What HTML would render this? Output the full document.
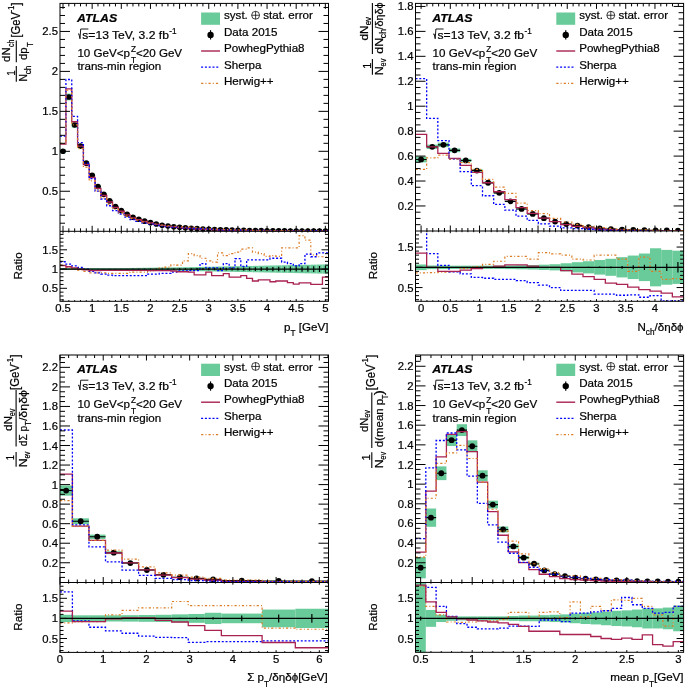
<!DOCTYPE html>
<html><head><meta charset="utf-8"><style>
html,body{margin:0;padding:0;background:#fff;width:685px;height:691px;overflow:hidden}
svg{display:block;will-change:transform;font-family:"Liberation Sans",sans-serif}
text{font-family:"Liberation Sans",sans-serif;stroke:#000;stroke-width:0.22px;paint-order:stroke}
</style></head><body>
<svg width="685" height="691" viewBox="0 0 685 691" font-family="'Liberation Sans', sans-serif" fill="#000"><defs><clipPath id="p1m"><rect x="60" y="3.4" width="268.5" height="227.9"/></clipPath><clipPath id="p1r"><rect x="60" y="231.3" width="268.5" height="70"/></clipPath><clipPath id="p2m"><rect x="415.5" y="3.4" width="268.1" height="227.6"/></clipPath><clipPath id="p2r"><rect x="415.5" y="231" width="268.1" height="70.3"/></clipPath><clipPath id="p3m"><rect x="60" y="355" width="268.5" height="227.5"/></clipPath><clipPath id="p3r"><rect x="60" y="582.5" width="268.5" height="69.9"/></clipPath><clipPath id="p4m"><rect x="415.5" y="355" width="268.1" height="227.5"/></clipPath><clipPath id="p4r"><rect x="415.5" y="582.5" width="268.1" height="69.8"/></clipPath></defs><g clip-path="url(#p1m)">
<rect x="60" y="149.3" width="5.92" height="3.99" fill="#6acb9a" />
<rect x="65.91" y="93.61" width="5.83" height="6.71" fill="#6acb9a" />
<rect x="71.74" y="122.28" width="5.83" height="5.31" fill="#6acb9a" />
<rect x="77.58" y="143.98" width="5.83" height="4.25" fill="#6acb9a" />
<rect x="83.4" y="161.42" width="5.83" height="3.4" fill="#6acb9a" />
<rect x="89.23" y="173.87" width="5.83" height="2.8" fill="#6acb9a" />
<rect x="95.06" y="185.5" width="5.83" height="2.23" fill="#6acb9a" />
<rect x="100.89" y="193.28" width="5.83" height="1.85" fill="#6acb9a" />
<rect x="106.72" y="200.16" width="5.83" height="1.51" fill="#6acb9a" />
<rect x="112.55" y="205.81" width="5.83" height="1.24" fill="#6acb9a" />
<rect x="118.38" y="209.99" width="5.83" height="1.03" fill="#6acb9a" />
<rect x="124.21" y="213.72" width="5.83" height="0.92" fill="#6acb9a" />
<rect x="130.05" y="216.89" width="5.83" height="0.81" fill="#6acb9a" />
<rect x="135.88" y="218.92" width="5.83" height="0.74" fill="#6acb9a" />
<rect x="141.71" y="220.8" width="5.83" height="0.67" fill="#6acb9a" />
<rect x="147.53" y="222.35" width="5.83" height="0.61" fill="#6acb9a" />
<rect x="153.37" y="223.74" width="5.83" height="0.54" fill="#6acb9a" />
<rect x="159.2" y="224.97" width="5.83" height="0.47" fill="#6acb9a" />
<rect x="165.03" y="225.87" width="5.83" height="0.43" fill="#6acb9a" />
<rect x="170.85" y="226.53" width="5.83" height="0.39" fill="#6acb9a" />
<rect x="176.69" y="227.11" width="5.83" height="0.36" fill="#6acb9a" />
<rect x="182.52" y="227.63" width="5.83" height="0.33" fill="#6acb9a" />
<rect x="188.34" y="228.09" width="5.83" height="0.3" fill="#6acb9a" />
<rect x="194.18" y="228.49" width="5.83" height="0.27" fill="#6acb9a" />
<rect x="200.01" y="228.84" width="5.83" height="0.25" fill="#6acb9a" />
<rect x="205.84" y="229.14" width="5.83" height="0.23" fill="#6acb9a" />
<rect x="211.67" y="229.4" width="5.83" height="0.21" fill="#6acb9a" />
<rect x="217.5" y="229.63" width="5.83" height="0.19" fill="#6acb9a" />
<rect x="223.33" y="229.84" width="5.83" height="0.17" fill="#6acb9a" />
<rect x="229.16" y="230.01" width="5.83" height="0.16" fill="#6acb9a" />
<rect x="234.99" y="230.16" width="5.83" height="0.14" fill="#6acb9a" />
<rect x="240.81" y="230.3" width="5.83" height="0.13" fill="#6acb9a" />
<rect x="246.65" y="230.41" width="5.83" height="0.12" fill="#6acb9a" />
<rect x="252.48" y="230.51" width="5.83" height="0.11" fill="#6acb9a" />
<rect x="258.31" y="230.6" width="5.83" height="0.1" fill="#6acb9a" />
<rect x="264.13" y="230.68" width="5.83" height="0.09" fill="#6acb9a" />
<rect x="269.96" y="230.74" width="5.83" height="0.08" fill="#6acb9a" />
<rect x="275.8" y="230.8" width="5.83" height="0.07" fill="#6acb9a" />
<rect x="281.62" y="230.85" width="5.83" height="0.06" fill="#6acb9a" />
<rect x="287.45" y="230.9" width="5.83" height="0.06" fill="#6acb9a" />
<rect x="293.28" y="230.94" width="5.83" height="0.05" fill="#6acb9a" />
<rect x="299.11" y="230.97" width="5.83" height="0.04" fill="#6acb9a" />
<rect x="304.94" y="231" width="5.83" height="0.04" fill="#6acb9a" />
<rect x="310.77" y="231.03" width="5.83" height="0.04" fill="#6acb9a" />
<rect x="316.6" y="231.05" width="5.83" height="0.03" fill="#6acb9a" />
<rect x="322.44" y="231.07" width="6.06" height="0.03" fill="#6acb9a" />
<line x1="60" y1="151.3" x2="65.92" y2="151.3" stroke="#000" stroke-width="1.1" />
<circle cx="62.96" cy="151.3" r="2.8" fill="#000"/>
<line x1="65.91" y1="96.97" x2="71.75" y2="96.97" stroke="#000" stroke-width="1.1" />
<circle cx="68.83" cy="96.97" r="2.8" fill="#000"/>
<line x1="71.74" y1="124.93" x2="77.58" y2="124.93" stroke="#000" stroke-width="1.1" />
<circle cx="74.66" cy="124.93" r="2.8" fill="#000"/>
<line x1="77.58" y1="146.11" x2="83.41" y2="146.11" stroke="#000" stroke-width="1.1" />
<circle cx="80.49" cy="146.11" r="2.8" fill="#000"/>
<line x1="83.4" y1="163.13" x2="89.23" y2="163.13" stroke="#000" stroke-width="1.1" />
<circle cx="86.32" cy="163.13" r="2.8" fill="#000"/>
<line x1="89.23" y1="175.27" x2="95.07" y2="175.27" stroke="#000" stroke-width="1.1" />
<circle cx="92.15" cy="175.27" r="2.8" fill="#000"/>
<line x1="95.06" y1="186.62" x2="100.9" y2="186.62" stroke="#000" stroke-width="1.1" />
<circle cx="97.98" cy="186.62" r="2.8" fill="#000"/>
<line x1="100.89" y1="194.21" x2="106.73" y2="194.21" stroke="#000" stroke-width="1.1" />
<circle cx="103.81" cy="194.21" r="2.8" fill="#000"/>
<line x1="106.72" y1="200.92" x2="112.56" y2="200.92" stroke="#000" stroke-width="1.1" />
<circle cx="109.64" cy="200.92" r="2.8" fill="#000"/>
<line x1="112.55" y1="206.43" x2="118.39" y2="206.43" stroke="#000" stroke-width="1.1" />
<circle cx="115.47" cy="206.43" r="2.8" fill="#000"/>
<line x1="118.38" y1="210.51" x2="124.22" y2="210.51" stroke="#000" stroke-width="1.1" />
<circle cx="121.3" cy="210.51" r="2.8" fill="#000"/>
<line x1="124.21" y1="214.18" x2="130.04" y2="214.18" stroke="#000" stroke-width="1.1" />
<circle cx="127.13" cy="214.18" r="2.8" fill="#000"/>
<line x1="130.05" y1="217.3" x2="135.88" y2="217.3" stroke="#000" stroke-width="1.1" />
<circle cx="132.96" cy="217.3" r="2.8" fill="#000"/>
<line x1="135.88" y1="219.29" x2="141.71" y2="219.29" stroke="#000" stroke-width="1.1" />
<circle cx="138.79" cy="219.29" r="2.8" fill="#000"/>
<line x1="141.71" y1="221.13" x2="147.53" y2="221.13" stroke="#000" stroke-width="1.1" />
<circle cx="144.62" cy="221.13" r="2.8" fill="#000"/>
<line x1="147.53" y1="222.65" x2="153.36" y2="222.65" stroke="#000" stroke-width="1.1" />
<circle cx="150.45" cy="222.65" r="2.8" fill="#000"/>
<line x1="153.37" y1="224.01" x2="159.19" y2="224.01" stroke="#000" stroke-width="1.1" />
<circle cx="156.28" cy="224.01" r="2.8" fill="#000"/>
<line x1="159.2" y1="225.21" x2="165.03" y2="225.21" stroke="#000" stroke-width="1.1" />
<circle cx="162.11" cy="225.21" r="2.8" fill="#000"/>
<line x1="165.03" y1="226.09" x2="170.85" y2="226.09" stroke="#000" stroke-width="1.1" />
<circle cx="167.94" cy="226.09" r="2.8" fill="#000"/>
<line x1="170.85" y1="226.73" x2="176.68" y2="226.73" stroke="#000" stroke-width="1.1" />
<circle cx="173.77" cy="226.73" r="2.8" fill="#000"/>
<line x1="176.69" y1="227.28" x2="182.51" y2="227.28" stroke="#000" stroke-width="1.1" />
<circle cx="179.6" cy="227.28" r="2.8" fill="#000"/>
<line x1="182.52" y1="227.8" x2="188.34" y2="227.8" stroke="#000" stroke-width="1.1" />
<circle cx="185.43" cy="227.8" r="2.8" fill="#000"/>
<line x1="188.34" y1="228.24" x2="194.17" y2="228.24" stroke="#000" stroke-width="1.1" />
<circle cx="191.26" cy="228.24" r="2.8" fill="#000"/>
<line x1="194.18" y1="228.63" x2="200" y2="228.63" stroke="#000" stroke-width="1.1" />
<circle cx="197.09" cy="228.63" r="2.8" fill="#000"/>
<line x1="200.01" y1="228.96" x2="205.84" y2="228.96" stroke="#000" stroke-width="1.1" />
<circle cx="202.92" cy="228.96" r="2.8" fill="#000"/>
<line x1="205.84" y1="229.26" x2="211.66" y2="229.26" stroke="#000" stroke-width="1.1" />
<circle cx="208.75" cy="229.26" r="2.8" fill="#000"/>
<line x1="211.67" y1="229.51" x2="217.5" y2="229.51" stroke="#000" stroke-width="1.1" />
<circle cx="214.58" cy="229.51" r="2.8" fill="#000"/>
<line x1="217.5" y1="229.73" x2="223.32" y2="229.73" stroke="#000" stroke-width="1.1" />
<circle cx="220.41" cy="229.73" r="2.8" fill="#000"/>
<line x1="223.33" y1="229.92" x2="229.16" y2="229.92" stroke="#000" stroke-width="1.1" />
<circle cx="226.24" cy="229.92" r="2.8" fill="#000"/>
<line x1="229.16" y1="230.09" x2="234.98" y2="230.09" stroke="#000" stroke-width="1.1" />
<circle cx="232.07" cy="230.09" r="2.8" fill="#000"/>
<line x1="234.99" y1="230.23" x2="240.81" y2="230.23" stroke="#000" stroke-width="1.1" />
<circle cx="237.9" cy="230.23" r="2.8" fill="#000"/>
<line x1="240.81" y1="230.36" x2="246.64" y2="230.36" stroke="#000" stroke-width="1.1" />
<circle cx="243.73" cy="230.36" r="2.8" fill="#000"/>
<line x1="246.65" y1="230.47" x2="252.47" y2="230.47" stroke="#000" stroke-width="1.1" />
<circle cx="249.56" cy="230.47" r="2.8" fill="#000"/>
<line x1="252.48" y1="230.57" x2="258.31" y2="230.57" stroke="#000" stroke-width="1.1" />
<circle cx="255.39" cy="230.57" r="2.8" fill="#000"/>
<line x1="258.31" y1="230.65" x2="264.14" y2="230.65" stroke="#000" stroke-width="1.1" />
<circle cx="261.22" cy="230.65" r="2.8" fill="#000"/>
<line x1="264.13" y1="230.72" x2="269.97" y2="230.72" stroke="#000" stroke-width="1.1" />
<circle cx="267.05" cy="230.72" r="2.8" fill="#000"/>
<line x1="269.96" y1="230.78" x2="275.8" y2="230.78" stroke="#000" stroke-width="1.1" />
<circle cx="272.88" cy="230.78" r="2.8" fill="#000"/>
<line x1="275.8" y1="230.84" x2="281.63" y2="230.84" stroke="#000" stroke-width="1.1" />
<circle cx="278.71" cy="230.84" r="2.8" fill="#000"/>
<line x1="281.62" y1="230.88" x2="287.45" y2="230.88" stroke="#000" stroke-width="1.1" />
<circle cx="284.54" cy="230.88" r="2.8" fill="#000"/>
<line x1="287.45" y1="230.93" x2="293.29" y2="230.93" stroke="#000" stroke-width="1.1" />
<circle cx="290.37" cy="230.93" r="2.8" fill="#000"/>
<line x1="293.28" y1="230.96" x2="299.12" y2="230.96" stroke="#000" stroke-width="1.1" />
<circle cx="296.2" cy="230.96" r="2.8" fill="#000"/>
<line x1="299.11" y1="230.99" x2="304.94" y2="230.99" stroke="#000" stroke-width="1.1" />
<circle cx="302.03" cy="230.99" r="2.8" fill="#000"/>
<line x1="304.94" y1="231.02" x2="310.78" y2="231.02" stroke="#000" stroke-width="1.1" />
<circle cx="307.86" cy="231.02" r="2.8" fill="#000"/>
<line x1="310.77" y1="231.04" x2="316.61" y2="231.04" stroke="#000" stroke-width="1.1" />
<circle cx="313.69" cy="231.04" r="2.8" fill="#000"/>
<line x1="316.6" y1="231.06" x2="322.44" y2="231.06" stroke="#000" stroke-width="1.1" />
<circle cx="319.52" cy="231.06" r="2.8" fill="#000"/>
<line x1="322.44" y1="231.08" x2="328.5" y2="231.08" stroke="#000" stroke-width="1.1" />
<circle cx="325.47" cy="231.08" r="2.8" fill="#000"/>
<path d="M60,144.11H65.92V88.91H71.75V121.74H77.58V146.11H83.41V164.49H89.23V177.51H95.07V188.4H100.9V195.5H106.73V201.98H112.56V207.3H118.39V211.23H124.22V214.78H130.04V217.78H135.88V219.71H141.71V221.48H147.53V222.99H153.36V224.3H159.19V225.45H165.03V226.29H170.85V226.95H176.68V227.56H182.51V228.03H188.34V228.48H194.17V229.01H200V229.3H205.84V229.41H211.66V229.8H217.5V229.98H223.32V230.08H229.16V230.32H234.98V230.44H240.81V230.5H246.64V230.65H252.47V230.76H258.31V230.8H264.14V230.85H269.97V230.92H275.8V230.95H281.63V230.98H287.45V231.02H293.29V231.05H299.12V231.07H304.94V231.08H310.78V231.11H316.61V231.12H322.44V231.11H328.5" fill="none" stroke="#a82252" stroke-width="1.3"/>
<path d="M60,136.12H65.92V79.52H71.75V116.43H77.58V142.7H83.41V163.13H89.23V178.63H95.07V191.07H100.9V199.02H106.73V205.76H112.56V210.64H118.39V214.02H124.22V217.07H130.04V219.66H135.88V221.32H141.71V222.84H147.53V223.76H153.36V224.94H159.19V225.87H165.03V226.65H170.85V227.08H176.68V227.48H182.51V227.97H188.34V228.36H194.17V228.73H200V228.65H205.84V229.2H211.66V229.46H217.5V229.79H223.32V229.74H229.16V230.06H234.98V229.97H240.81V230.3H246.64V230.3H252.47V230.41H258.31V230.52H264.14V230.61H269.97V230.67H275.8V230.74H281.63V230.83H287.45V230.89H293.29V230.94H299.12V230.96H304.94V230.95H310.78V230.99H316.61V231.01H322.44V231.03H328.5" fill="none" stroke="#0000ff" stroke-width="1.3" stroke-dasharray="2,1.8"/>
<path d="M60,143.31H65.92V90.26H71.75V124.93H77.58V148.66H83.41V167.21H89.23V180.86H95.07V191.07H100.9V197.91H106.73V204.25H112.56V209.16H118.39V212.78H124.22V216.05H130.04V218.41H135.88V220.25H141.71V221.94H147.53V223.08H153.36V224.01H159.19V225.03H165.03V225.83H170.85V226.23H176.68V226.89H182.51V227.08H188.34V227.06H194.17V227.73H200V228.34H205.84V228.85H211.66V229.21H217.5V229.11H223.32V229.48H229.16V229.65H234.98V229.81H240.81V229.92H246.64V230.07H252.47V230.29H258.31V230.43H264.14V230.56H269.97V230.64H275.8V230.72H281.63V230.71H287.45V230.78H293.29V230.83H299.12V230.81H304.94V230.89H310.78V230.99H316.61V231.02H322.44V231.04H328.5" fill="none" stroke="#dc7d26" stroke-width="1.2" stroke-dasharray="2.2,2.1,1,2.1"/>
</g>
<g clip-path="url(#p1r)">
<rect x="60" y="268.09" width="5.92" height="1.92" fill="#6acb9a" />
<rect x="65.91" y="268.09" width="5.83" height="1.92" fill="#6acb9a" />
<rect x="71.74" y="268.09" width="5.83" height="1.92" fill="#6acb9a" />
<rect x="77.58" y="268.09" width="5.83" height="1.92" fill="#6acb9a" />
<rect x="83.4" y="268.09" width="5.83" height="1.92" fill="#6acb9a" />
<rect x="89.23" y="268.09" width="5.83" height="1.92" fill="#6acb9a" />
<rect x="95.06" y="268.09" width="5.83" height="1.92" fill="#6acb9a" />
<rect x="100.89" y="268.09" width="5.83" height="1.92" fill="#6acb9a" />
<rect x="106.72" y="268.09" width="5.83" height="1.92" fill="#6acb9a" />
<rect x="112.55" y="268.09" width="5.83" height="1.92" fill="#6acb9a" />
<rect x="118.38" y="268.09" width="5.83" height="1.92" fill="#6acb9a" />
<rect x="124.21" y="268.01" width="5.83" height="2.09" fill="#6acb9a" />
<rect x="130.05" y="267.93" width="5.83" height="2.25" fill="#6acb9a" />
<rect x="135.88" y="267.85" width="5.83" height="2.41" fill="#6acb9a" />
<rect x="141.71" y="267.77" width="5.83" height="2.57" fill="#6acb9a" />
<rect x="147.53" y="267.69" width="5.83" height="2.73" fill="#6acb9a" />
<rect x="153.37" y="267.61" width="5.83" height="2.89" fill="#6acb9a" />
<rect x="159.2" y="267.53" width="5.83" height="3.05" fill="#6acb9a" />
<rect x="165.03" y="267.45" width="5.83" height="3.21" fill="#6acb9a" />
<rect x="170.85" y="267.37" width="5.83" height="3.37" fill="#6acb9a" />
<rect x="176.69" y="267.29" width="5.83" height="3.53" fill="#6acb9a" />
<rect x="182.52" y="267.21" width="5.83" height="3.69" fill="#6acb9a" />
<rect x="188.34" y="267.12" width="5.83" height="3.85" fill="#6acb9a" />
<rect x="194.18" y="267.01" width="5.83" height="4.08" fill="#6acb9a" />
<rect x="200.01" y="266.89" width="5.83" height="4.32" fill="#6acb9a" />
<rect x="205.84" y="266.77" width="5.83" height="4.55" fill="#6acb9a" />
<rect x="211.67" y="266.66" width="5.83" height="4.79" fill="#6acb9a" />
<rect x="217.5" y="266.54" width="5.83" height="5.02" fill="#6acb9a" />
<rect x="223.33" y="266.42" width="5.83" height="5.26" fill="#6acb9a" />
<rect x="229.16" y="266.3" width="5.83" height="5.49" fill="#6acb9a" />
<rect x="234.99" y="266.19" width="5.83" height="5.72" fill="#6acb9a" />
<rect x="240.81" y="266.07" width="5.83" height="5.96" fill="#6acb9a" />
<rect x="246.65" y="265.95" width="5.83" height="6.19" fill="#6acb9a" />
<rect x="252.48" y="265.84" width="5.83" height="6.43" fill="#6acb9a" />
<rect x="258.31" y="265.72" width="5.83" height="6.66" fill="#6acb9a" />
<rect x="264.13" y="265.6" width="5.83" height="6.9" fill="#6acb9a" />
<rect x="269.96" y="265.48" width="5.83" height="7.13" fill="#6acb9a" />
<rect x="275.8" y="265.37" width="5.83" height="7.37" fill="#6acb9a" />
<rect x="281.62" y="265.25" width="5.83" height="7.6" fill="#6acb9a" />
<rect x="287.45" y="265.13" width="5.83" height="7.83" fill="#6acb9a" />
<rect x="293.28" y="265.02" width="5.83" height="8.07" fill="#6acb9a" />
<rect x="299.11" y="264.9" width="5.83" height="8.3" fill="#6acb9a" />
<rect x="304.94" y="264.78" width="5.83" height="8.54" fill="#6acb9a" />
<rect x="310.77" y="264.66" width="5.83" height="8.77" fill="#6acb9a" />
<rect x="316.6" y="264.55" width="5.83" height="9.01" fill="#6acb9a" />
<rect x="322.44" y="264.43" width="6.06" height="9.24" fill="#6acb9a" />
<path d="M60,265.2H65.92V267.12H71.75V269.05H77.58V270.21H83.41V271.36H89.23V272.9H95.07V272.9H100.9V272.9H106.73V273.29H112.56V273.29H118.39V273.29H124.22V273.29H130.04V272.13H135.88V272.13H141.71V272.13H147.53V270.98H153.36V269.05H159.19V267.89H165.03V267.12H170.85V264.81H176.68V265.2H182.51V260.97H188.34V253.65H194.17V255.58H200V258.27H205.84V260.97H211.66V262.12H217.5V252.88H223.32V255.58H229.16V253.65H234.98V252.11H240.81V249.03H246.64V247.88H252.47V252.11H258.31V253.65H264.14V256.35H269.97V255.58H275.8V256.35H281.63V247.88H287.45V247.88H293.29V247.88H299.12V235.56H304.94V240.18H310.78V254.81H316.61V256.73H322.44V256.73H328.5" fill="none" stroke="#dc7d26" stroke-width="1.2" stroke-dasharray="2.2,2.1,1,2.1"/>
<path d="M60,261.74H65.92V264.05H71.75V265.97H77.58V267.51H83.41V269.05H89.23V271.36H95.07V272.9H100.9V274.06H106.73V275.21H112.56V275.6H118.39V275.6H124.22V275.6H130.04V275.6H135.88V275.6H141.71V275.6H147.53V274.06H153.36V274.06H159.19V273.29H165.03V273.29H170.85V272.13H176.68V270.98H182.51V270.98H188.34V270.59H194.17V270.59H200V263.66H205.84V267.89H211.66V267.89H217.5V270.59H223.32V263.66H229.16V267.89H234.98V258.66H240.81V266.36H246.64V259.81H252.47V259.81H258.31V259.81H264.14V259.81H269.97V258.27H275.8V258.27H281.63V262.12H287.45V263.66H293.29V265.97H299.12V263.66H304.94V254.04H310.78V256.73H316.61V252.88H322.44V252.88H328.5" fill="none" stroke="#0000ff" stroke-width="1.3" stroke-dasharray="2,1.8"/>
<path d="M60,265.59H65.92V266.74H71.75V267.89H77.58V269.05H83.41V269.82H89.23V270.59H95.07V270.59H100.9V270.4H106.73V270.4H112.56V270.4H118.39V270.4H124.22V270.4H130.04V270.4H135.88V270.4H141.71V270.4H147.53V270.59H153.36V270.59H159.19V270.59H165.03V270.59H170.85V270.98H176.68V271.75H182.51V271.75H188.34V272.13H194.17V274.82H200V274.82H205.84V272.13H211.66V275.6H217.5V275.6H223.32V273.67H229.16V277.13H234.98V277.13H240.81V275.6H246.64V278.29H252.47V280.99H258.31V279.83H264.14V279.83H269.97V281.75H275.8V280.99H281.63V280.99H287.45V282.53H293.29V284.06H299.12V282.91H304.94V282.91H310.78V284.45H316.61V284.45H322.44V277.13H328.5" fill="none" stroke="#a82252" stroke-width="1.3"/>
<line x1="60" y1="269.05" x2="328.5" y2="269.05" stroke="#000" stroke-width="1.3" />
<line x1="62.96" y1="268.93" x2="62.96" y2="269.17" stroke="#000" stroke-width="1.2" />
<line x1="68.83" y1="268.93" x2="68.83" y2="269.17" stroke="#000" stroke-width="1.2" />
<line x1="74.66" y1="268.93" x2="74.66" y2="269.17" stroke="#000" stroke-width="1.2" />
<line x1="80.49" y1="268.93" x2="80.49" y2="269.17" stroke="#000" stroke-width="1.2" />
<line x1="86.32" y1="268.93" x2="86.32" y2="269.17" stroke="#000" stroke-width="1.2" />
<line x1="92.15" y1="268.93" x2="92.15" y2="269.17" stroke="#000" stroke-width="1.2" />
<line x1="97.98" y1="268.93" x2="97.98" y2="269.17" stroke="#000" stroke-width="1.2" />
<line x1="103.81" y1="268.93" x2="103.81" y2="269.17" stroke="#000" stroke-width="1.2" />
<line x1="109.64" y1="268.93" x2="109.64" y2="269.17" stroke="#000" stroke-width="1.2" />
<line x1="115.47" y1="268.93" x2="115.47" y2="269.17" stroke="#000" stroke-width="1.2" />
<line x1="121.3" y1="268.93" x2="121.3" y2="269.17" stroke="#000" stroke-width="1.2" />
<line x1="127.13" y1="268.91" x2="127.13" y2="269.19" stroke="#000" stroke-width="1.2" />
<line x1="132.96" y1="268.86" x2="132.96" y2="269.24" stroke="#000" stroke-width="1.2" />
<line x1="138.79" y1="268.81" x2="138.79" y2="269.29" stroke="#000" stroke-width="1.2" />
<line x1="144.62" y1="268.76" x2="144.62" y2="269.34" stroke="#000" stroke-width="1.2" />
<line x1="150.45" y1="268.7" x2="150.45" y2="269.4" stroke="#000" stroke-width="1.2" />
<line x1="156.28" y1="268.64" x2="156.28" y2="269.46" stroke="#000" stroke-width="1.2" />
<line x1="162.11" y1="268.57" x2="162.11" y2="269.53" stroke="#000" stroke-width="1.2" />
<line x1="167.94" y1="268.5" x2="167.94" y2="269.6" stroke="#000" stroke-width="1.2" />
<line x1="173.77" y1="268.43" x2="173.77" y2="269.67" stroke="#000" stroke-width="1.2" />
<line x1="179.6" y1="268.35" x2="179.6" y2="269.75" stroke="#000" stroke-width="1.2" />
<line x1="185.43" y1="268.28" x2="185.43" y2="269.82" stroke="#000" stroke-width="1.2" />
<line x1="191.26" y1="268.2" x2="191.26" y2="269.9" stroke="#000" stroke-width="1.2" />
<line x1="197.09" y1="268.12" x2="197.09" y2="269.98" stroke="#000" stroke-width="1.2" />
<line x1="202.92" y1="268.03" x2="202.92" y2="270.07" stroke="#000" stroke-width="1.2" />
<line x1="208.75" y1="267.95" x2="208.75" y2="270.15" stroke="#000" stroke-width="1.2" />
<line x1="214.58" y1="267.86" x2="214.58" y2="270.24" stroke="#000" stroke-width="1.2" />
<line x1="220.41" y1="267.78" x2="220.41" y2="270.32" stroke="#000" stroke-width="1.2" />
<line x1="226.24" y1="267.69" x2="226.24" y2="270.41" stroke="#000" stroke-width="1.2" />
<line x1="232.07" y1="267.59" x2="232.07" y2="270.51" stroke="#000" stroke-width="1.2" />
<line x1="237.9" y1="267.5" x2="237.9" y2="270.6" stroke="#000" stroke-width="1.2" />
<line x1="243.73" y1="267.41" x2="243.73" y2="270.69" stroke="#000" stroke-width="1.2" />
<line x1="249.56" y1="267.31" x2="249.56" y2="270.79" stroke="#000" stroke-width="1.2" />
<line x1="255.39" y1="267.22" x2="255.39" y2="270.88" stroke="#000" stroke-width="1.2" />
<line x1="261.22" y1="267.12" x2="261.22" y2="270.98" stroke="#000" stroke-width="1.2" />
<line x1="267.05" y1="267.02" x2="267.05" y2="271.08" stroke="#000" stroke-width="1.2" />
<line x1="272.88" y1="266.92" x2="272.88" y2="271.18" stroke="#000" stroke-width="1.2" />
<line x1="278.71" y1="266.82" x2="278.71" y2="271.28" stroke="#000" stroke-width="1.2" />
<line x1="284.54" y1="266.72" x2="284.54" y2="271.38" stroke="#000" stroke-width="1.2" />
<line x1="290.37" y1="266.61" x2="290.37" y2="271.49" stroke="#000" stroke-width="1.2" />
<line x1="296.2" y1="266.51" x2="296.2" y2="271.59" stroke="#000" stroke-width="1.2" />
<line x1="302.03" y1="266.4" x2="302.03" y2="271.7" stroke="#000" stroke-width="1.2" />
<line x1="307.86" y1="266.3" x2="307.86" y2="271.8" stroke="#000" stroke-width="1.2" />
<line x1="313.69" y1="266.19" x2="313.69" y2="271.91" stroke="#000" stroke-width="1.2" />
<line x1="319.52" y1="266.08" x2="319.52" y2="272.02" stroke="#000" stroke-width="1.2" />
<line x1="325.47" y1="265.97" x2="325.47" y2="272.13" stroke="#000" stroke-width="1.2" />
</g>
<rect x="60" y="3.4" width="268.5" height="297.9" fill="none" stroke="#000" stroke-width="1.0"/>
<line x1="60" y1="231.3" x2="328.5" y2="231.3" stroke="#000" stroke-width="1.0" />
<line x1="63" y1="3.4" x2="63" y2="8.9" stroke="#000" stroke-width="1" />
<line x1="63" y1="231.3" x2="63" y2="225.8" stroke="#000" stroke-width="1" />
<line x1="63" y1="301.3" x2="63" y2="299.1" stroke="#000" stroke-width="1" />
<line x1="63" y1="231.3" x2="63" y2="233.5" stroke="#000" stroke-width="1" />
<line x1="68.83" y1="3.4" x2="68.83" y2="6.4" stroke="#000" stroke-width="1" />
<line x1="68.83" y1="231.3" x2="68.83" y2="228.3" stroke="#000" stroke-width="1" />
<line x1="68.83" y1="301.3" x2="68.83" y2="300.1" stroke="#000" stroke-width="1" />
<line x1="68.83" y1="231.3" x2="68.83" y2="232.5" stroke="#000" stroke-width="1" />
<line x1="74.66" y1="3.4" x2="74.66" y2="6.4" stroke="#000" stroke-width="1" />
<line x1="74.66" y1="231.3" x2="74.66" y2="228.3" stroke="#000" stroke-width="1" />
<line x1="74.66" y1="301.3" x2="74.66" y2="300.1" stroke="#000" stroke-width="1" />
<line x1="74.66" y1="231.3" x2="74.66" y2="232.5" stroke="#000" stroke-width="1" />
<line x1="80.49" y1="3.4" x2="80.49" y2="6.4" stroke="#000" stroke-width="1" />
<line x1="80.49" y1="231.3" x2="80.49" y2="228.3" stroke="#000" stroke-width="1" />
<line x1="80.49" y1="301.3" x2="80.49" y2="300.1" stroke="#000" stroke-width="1" />
<line x1="80.49" y1="231.3" x2="80.49" y2="232.5" stroke="#000" stroke-width="1" />
<line x1="86.32" y1="3.4" x2="86.32" y2="6.4" stroke="#000" stroke-width="1" />
<line x1="86.32" y1="231.3" x2="86.32" y2="228.3" stroke="#000" stroke-width="1" />
<line x1="86.32" y1="301.3" x2="86.32" y2="300.1" stroke="#000" stroke-width="1" />
<line x1="86.32" y1="231.3" x2="86.32" y2="232.5" stroke="#000" stroke-width="1" />
<line x1="92.15" y1="3.4" x2="92.15" y2="8.9" stroke="#000" stroke-width="1" />
<line x1="92.15" y1="231.3" x2="92.15" y2="225.8" stroke="#000" stroke-width="1" />
<line x1="92.15" y1="301.3" x2="92.15" y2="299.1" stroke="#000" stroke-width="1" />
<line x1="92.15" y1="231.3" x2="92.15" y2="233.5" stroke="#000" stroke-width="1" />
<line x1="97.98" y1="3.4" x2="97.98" y2="6.4" stroke="#000" stroke-width="1" />
<line x1="97.98" y1="231.3" x2="97.98" y2="228.3" stroke="#000" stroke-width="1" />
<line x1="97.98" y1="301.3" x2="97.98" y2="300.1" stroke="#000" stroke-width="1" />
<line x1="97.98" y1="231.3" x2="97.98" y2="232.5" stroke="#000" stroke-width="1" />
<line x1="103.81" y1="3.4" x2="103.81" y2="6.4" stroke="#000" stroke-width="1" />
<line x1="103.81" y1="231.3" x2="103.81" y2="228.3" stroke="#000" stroke-width="1" />
<line x1="103.81" y1="301.3" x2="103.81" y2="300.1" stroke="#000" stroke-width="1" />
<line x1="103.81" y1="231.3" x2="103.81" y2="232.5" stroke="#000" stroke-width="1" />
<line x1="109.64" y1="3.4" x2="109.64" y2="6.4" stroke="#000" stroke-width="1" />
<line x1="109.64" y1="231.3" x2="109.64" y2="228.3" stroke="#000" stroke-width="1" />
<line x1="109.64" y1="301.3" x2="109.64" y2="300.1" stroke="#000" stroke-width="1" />
<line x1="109.64" y1="231.3" x2="109.64" y2="232.5" stroke="#000" stroke-width="1" />
<line x1="115.47" y1="3.4" x2="115.47" y2="6.4" stroke="#000" stroke-width="1" />
<line x1="115.47" y1="231.3" x2="115.47" y2="228.3" stroke="#000" stroke-width="1" />
<line x1="115.47" y1="301.3" x2="115.47" y2="300.1" stroke="#000" stroke-width="1" />
<line x1="115.47" y1="231.3" x2="115.47" y2="232.5" stroke="#000" stroke-width="1" />
<line x1="121.3" y1="3.4" x2="121.3" y2="8.9" stroke="#000" stroke-width="1" />
<line x1="121.3" y1="231.3" x2="121.3" y2="225.8" stroke="#000" stroke-width="1" />
<line x1="121.3" y1="301.3" x2="121.3" y2="299.1" stroke="#000" stroke-width="1" />
<line x1="121.3" y1="231.3" x2="121.3" y2="233.5" stroke="#000" stroke-width="1" />
<line x1="127.13" y1="3.4" x2="127.13" y2="6.4" stroke="#000" stroke-width="1" />
<line x1="127.13" y1="231.3" x2="127.13" y2="228.3" stroke="#000" stroke-width="1" />
<line x1="127.13" y1="301.3" x2="127.13" y2="300.1" stroke="#000" stroke-width="1" />
<line x1="127.13" y1="231.3" x2="127.13" y2="232.5" stroke="#000" stroke-width="1" />
<line x1="132.96" y1="3.4" x2="132.96" y2="6.4" stroke="#000" stroke-width="1" />
<line x1="132.96" y1="231.3" x2="132.96" y2="228.3" stroke="#000" stroke-width="1" />
<line x1="132.96" y1="301.3" x2="132.96" y2="300.1" stroke="#000" stroke-width="1" />
<line x1="132.96" y1="231.3" x2="132.96" y2="232.5" stroke="#000" stroke-width="1" />
<line x1="138.79" y1="3.4" x2="138.79" y2="6.4" stroke="#000" stroke-width="1" />
<line x1="138.79" y1="231.3" x2="138.79" y2="228.3" stroke="#000" stroke-width="1" />
<line x1="138.79" y1="301.3" x2="138.79" y2="300.1" stroke="#000" stroke-width="1" />
<line x1="138.79" y1="231.3" x2="138.79" y2="232.5" stroke="#000" stroke-width="1" />
<line x1="144.62" y1="3.4" x2="144.62" y2="6.4" stroke="#000" stroke-width="1" />
<line x1="144.62" y1="231.3" x2="144.62" y2="228.3" stroke="#000" stroke-width="1" />
<line x1="144.62" y1="301.3" x2="144.62" y2="300.1" stroke="#000" stroke-width="1" />
<line x1="144.62" y1="231.3" x2="144.62" y2="232.5" stroke="#000" stroke-width="1" />
<line x1="150.45" y1="3.4" x2="150.45" y2="8.9" stroke="#000" stroke-width="1" />
<line x1="150.45" y1="231.3" x2="150.45" y2="225.8" stroke="#000" stroke-width="1" />
<line x1="150.45" y1="301.3" x2="150.45" y2="299.1" stroke="#000" stroke-width="1" />
<line x1="150.45" y1="231.3" x2="150.45" y2="233.5" stroke="#000" stroke-width="1" />
<line x1="156.28" y1="3.4" x2="156.28" y2="6.4" stroke="#000" stroke-width="1" />
<line x1="156.28" y1="231.3" x2="156.28" y2="228.3" stroke="#000" stroke-width="1" />
<line x1="156.28" y1="301.3" x2="156.28" y2="300.1" stroke="#000" stroke-width="1" />
<line x1="156.28" y1="231.3" x2="156.28" y2="232.5" stroke="#000" stroke-width="1" />
<line x1="162.11" y1="3.4" x2="162.11" y2="6.4" stroke="#000" stroke-width="1" />
<line x1="162.11" y1="231.3" x2="162.11" y2="228.3" stroke="#000" stroke-width="1" />
<line x1="162.11" y1="301.3" x2="162.11" y2="300.1" stroke="#000" stroke-width="1" />
<line x1="162.11" y1="231.3" x2="162.11" y2="232.5" stroke="#000" stroke-width="1" />
<line x1="167.94" y1="3.4" x2="167.94" y2="6.4" stroke="#000" stroke-width="1" />
<line x1="167.94" y1="231.3" x2="167.94" y2="228.3" stroke="#000" stroke-width="1" />
<line x1="167.94" y1="301.3" x2="167.94" y2="300.1" stroke="#000" stroke-width="1" />
<line x1="167.94" y1="231.3" x2="167.94" y2="232.5" stroke="#000" stroke-width="1" />
<line x1="173.77" y1="3.4" x2="173.77" y2="6.4" stroke="#000" stroke-width="1" />
<line x1="173.77" y1="231.3" x2="173.77" y2="228.3" stroke="#000" stroke-width="1" />
<line x1="173.77" y1="301.3" x2="173.77" y2="300.1" stroke="#000" stroke-width="1" />
<line x1="173.77" y1="231.3" x2="173.77" y2="232.5" stroke="#000" stroke-width="1" />
<line x1="179.6" y1="3.4" x2="179.6" y2="8.9" stroke="#000" stroke-width="1" />
<line x1="179.6" y1="231.3" x2="179.6" y2="225.8" stroke="#000" stroke-width="1" />
<line x1="179.6" y1="301.3" x2="179.6" y2="299.1" stroke="#000" stroke-width="1" />
<line x1="179.6" y1="231.3" x2="179.6" y2="233.5" stroke="#000" stroke-width="1" />
<line x1="185.43" y1="3.4" x2="185.43" y2="6.4" stroke="#000" stroke-width="1" />
<line x1="185.43" y1="231.3" x2="185.43" y2="228.3" stroke="#000" stroke-width="1" />
<line x1="185.43" y1="301.3" x2="185.43" y2="300.1" stroke="#000" stroke-width="1" />
<line x1="185.43" y1="231.3" x2="185.43" y2="232.5" stroke="#000" stroke-width="1" />
<line x1="191.26" y1="3.4" x2="191.26" y2="6.4" stroke="#000" stroke-width="1" />
<line x1="191.26" y1="231.3" x2="191.26" y2="228.3" stroke="#000" stroke-width="1" />
<line x1="191.26" y1="301.3" x2="191.26" y2="300.1" stroke="#000" stroke-width="1" />
<line x1="191.26" y1="231.3" x2="191.26" y2="232.5" stroke="#000" stroke-width="1" />
<line x1="197.09" y1="3.4" x2="197.09" y2="6.4" stroke="#000" stroke-width="1" />
<line x1="197.09" y1="231.3" x2="197.09" y2="228.3" stroke="#000" stroke-width="1" />
<line x1="197.09" y1="301.3" x2="197.09" y2="300.1" stroke="#000" stroke-width="1" />
<line x1="197.09" y1="231.3" x2="197.09" y2="232.5" stroke="#000" stroke-width="1" />
<line x1="202.92" y1="3.4" x2="202.92" y2="6.4" stroke="#000" stroke-width="1" />
<line x1="202.92" y1="231.3" x2="202.92" y2="228.3" stroke="#000" stroke-width="1" />
<line x1="202.92" y1="301.3" x2="202.92" y2="300.1" stroke="#000" stroke-width="1" />
<line x1="202.92" y1="231.3" x2="202.92" y2="232.5" stroke="#000" stroke-width="1" />
<line x1="208.75" y1="3.4" x2="208.75" y2="8.9" stroke="#000" stroke-width="1" />
<line x1="208.75" y1="231.3" x2="208.75" y2="225.8" stroke="#000" stroke-width="1" />
<line x1="208.75" y1="301.3" x2="208.75" y2="299.1" stroke="#000" stroke-width="1" />
<line x1="208.75" y1="231.3" x2="208.75" y2="233.5" stroke="#000" stroke-width="1" />
<line x1="214.58" y1="3.4" x2="214.58" y2="6.4" stroke="#000" stroke-width="1" />
<line x1="214.58" y1="231.3" x2="214.58" y2="228.3" stroke="#000" stroke-width="1" />
<line x1="214.58" y1="301.3" x2="214.58" y2="300.1" stroke="#000" stroke-width="1" />
<line x1="214.58" y1="231.3" x2="214.58" y2="232.5" stroke="#000" stroke-width="1" />
<line x1="220.41" y1="3.4" x2="220.41" y2="6.4" stroke="#000" stroke-width="1" />
<line x1="220.41" y1="231.3" x2="220.41" y2="228.3" stroke="#000" stroke-width="1" />
<line x1="220.41" y1="301.3" x2="220.41" y2="300.1" stroke="#000" stroke-width="1" />
<line x1="220.41" y1="231.3" x2="220.41" y2="232.5" stroke="#000" stroke-width="1" />
<line x1="226.24" y1="3.4" x2="226.24" y2="6.4" stroke="#000" stroke-width="1" />
<line x1="226.24" y1="231.3" x2="226.24" y2="228.3" stroke="#000" stroke-width="1" />
<line x1="226.24" y1="301.3" x2="226.24" y2="300.1" stroke="#000" stroke-width="1" />
<line x1="226.24" y1="231.3" x2="226.24" y2="232.5" stroke="#000" stroke-width="1" />
<line x1="232.07" y1="3.4" x2="232.07" y2="6.4" stroke="#000" stroke-width="1" />
<line x1="232.07" y1="231.3" x2="232.07" y2="228.3" stroke="#000" stroke-width="1" />
<line x1="232.07" y1="301.3" x2="232.07" y2="300.1" stroke="#000" stroke-width="1" />
<line x1="232.07" y1="231.3" x2="232.07" y2="232.5" stroke="#000" stroke-width="1" />
<line x1="237.9" y1="3.4" x2="237.9" y2="8.9" stroke="#000" stroke-width="1" />
<line x1="237.9" y1="231.3" x2="237.9" y2="225.8" stroke="#000" stroke-width="1" />
<line x1="237.9" y1="301.3" x2="237.9" y2="299.1" stroke="#000" stroke-width="1" />
<line x1="237.9" y1="231.3" x2="237.9" y2="233.5" stroke="#000" stroke-width="1" />
<line x1="243.73" y1="3.4" x2="243.73" y2="6.4" stroke="#000" stroke-width="1" />
<line x1="243.73" y1="231.3" x2="243.73" y2="228.3" stroke="#000" stroke-width="1" />
<line x1="243.73" y1="301.3" x2="243.73" y2="300.1" stroke="#000" stroke-width="1" />
<line x1="243.73" y1="231.3" x2="243.73" y2="232.5" stroke="#000" stroke-width="1" />
<line x1="249.56" y1="3.4" x2="249.56" y2="6.4" stroke="#000" stroke-width="1" />
<line x1="249.56" y1="231.3" x2="249.56" y2="228.3" stroke="#000" stroke-width="1" />
<line x1="249.56" y1="301.3" x2="249.56" y2="300.1" stroke="#000" stroke-width="1" />
<line x1="249.56" y1="231.3" x2="249.56" y2="232.5" stroke="#000" stroke-width="1" />
<line x1="255.39" y1="3.4" x2="255.39" y2="6.4" stroke="#000" stroke-width="1" />
<line x1="255.39" y1="231.3" x2="255.39" y2="228.3" stroke="#000" stroke-width="1" />
<line x1="255.39" y1="301.3" x2="255.39" y2="300.1" stroke="#000" stroke-width="1" />
<line x1="255.39" y1="231.3" x2="255.39" y2="232.5" stroke="#000" stroke-width="1" />
<line x1="261.22" y1="3.4" x2="261.22" y2="6.4" stroke="#000" stroke-width="1" />
<line x1="261.22" y1="231.3" x2="261.22" y2="228.3" stroke="#000" stroke-width="1" />
<line x1="261.22" y1="301.3" x2="261.22" y2="300.1" stroke="#000" stroke-width="1" />
<line x1="261.22" y1="231.3" x2="261.22" y2="232.5" stroke="#000" stroke-width="1" />
<line x1="267.05" y1="3.4" x2="267.05" y2="8.9" stroke="#000" stroke-width="1" />
<line x1="267.05" y1="231.3" x2="267.05" y2="225.8" stroke="#000" stroke-width="1" />
<line x1="267.05" y1="301.3" x2="267.05" y2="299.1" stroke="#000" stroke-width="1" />
<line x1="267.05" y1="231.3" x2="267.05" y2="233.5" stroke="#000" stroke-width="1" />
<line x1="272.88" y1="3.4" x2="272.88" y2="6.4" stroke="#000" stroke-width="1" />
<line x1="272.88" y1="231.3" x2="272.88" y2="228.3" stroke="#000" stroke-width="1" />
<line x1="272.88" y1="301.3" x2="272.88" y2="300.1" stroke="#000" stroke-width="1" />
<line x1="272.88" y1="231.3" x2="272.88" y2="232.5" stroke="#000" stroke-width="1" />
<line x1="278.71" y1="3.4" x2="278.71" y2="6.4" stroke="#000" stroke-width="1" />
<line x1="278.71" y1="231.3" x2="278.71" y2="228.3" stroke="#000" stroke-width="1" />
<line x1="278.71" y1="301.3" x2="278.71" y2="300.1" stroke="#000" stroke-width="1" />
<line x1="278.71" y1="231.3" x2="278.71" y2="232.5" stroke="#000" stroke-width="1" />
<line x1="284.54" y1="3.4" x2="284.54" y2="6.4" stroke="#000" stroke-width="1" />
<line x1="284.54" y1="231.3" x2="284.54" y2="228.3" stroke="#000" stroke-width="1" />
<line x1="284.54" y1="301.3" x2="284.54" y2="300.1" stroke="#000" stroke-width="1" />
<line x1="284.54" y1="231.3" x2="284.54" y2="232.5" stroke="#000" stroke-width="1" />
<line x1="290.37" y1="3.4" x2="290.37" y2="6.4" stroke="#000" stroke-width="1" />
<line x1="290.37" y1="231.3" x2="290.37" y2="228.3" stroke="#000" stroke-width="1" />
<line x1="290.37" y1="301.3" x2="290.37" y2="300.1" stroke="#000" stroke-width="1" />
<line x1="290.37" y1="231.3" x2="290.37" y2="232.5" stroke="#000" stroke-width="1" />
<line x1="296.2" y1="3.4" x2="296.2" y2="8.9" stroke="#000" stroke-width="1" />
<line x1="296.2" y1="231.3" x2="296.2" y2="225.8" stroke="#000" stroke-width="1" />
<line x1="296.2" y1="301.3" x2="296.2" y2="299.1" stroke="#000" stroke-width="1" />
<line x1="296.2" y1="231.3" x2="296.2" y2="233.5" stroke="#000" stroke-width="1" />
<line x1="302.03" y1="3.4" x2="302.03" y2="6.4" stroke="#000" stroke-width="1" />
<line x1="302.03" y1="231.3" x2="302.03" y2="228.3" stroke="#000" stroke-width="1" />
<line x1="302.03" y1="301.3" x2="302.03" y2="300.1" stroke="#000" stroke-width="1" />
<line x1="302.03" y1="231.3" x2="302.03" y2="232.5" stroke="#000" stroke-width="1" />
<line x1="307.86" y1="3.4" x2="307.86" y2="6.4" stroke="#000" stroke-width="1" />
<line x1="307.86" y1="231.3" x2="307.86" y2="228.3" stroke="#000" stroke-width="1" />
<line x1="307.86" y1="301.3" x2="307.86" y2="300.1" stroke="#000" stroke-width="1" />
<line x1="307.86" y1="231.3" x2="307.86" y2="232.5" stroke="#000" stroke-width="1" />
<line x1="313.69" y1="3.4" x2="313.69" y2="6.4" stroke="#000" stroke-width="1" />
<line x1="313.69" y1="231.3" x2="313.69" y2="228.3" stroke="#000" stroke-width="1" />
<line x1="313.69" y1="301.3" x2="313.69" y2="300.1" stroke="#000" stroke-width="1" />
<line x1="313.69" y1="231.3" x2="313.69" y2="232.5" stroke="#000" stroke-width="1" />
<line x1="319.52" y1="3.4" x2="319.52" y2="6.4" stroke="#000" stroke-width="1" />
<line x1="319.52" y1="231.3" x2="319.52" y2="228.3" stroke="#000" stroke-width="1" />
<line x1="319.52" y1="301.3" x2="319.52" y2="300.1" stroke="#000" stroke-width="1" />
<line x1="319.52" y1="231.3" x2="319.52" y2="232.5" stroke="#000" stroke-width="1" />
<line x1="325.35" y1="3.4" x2="325.35" y2="8.9" stroke="#000" stroke-width="1" />
<line x1="325.35" y1="231.3" x2="325.35" y2="225.8" stroke="#000" stroke-width="1" />
<line x1="325.35" y1="301.3" x2="325.35" y2="299.1" stroke="#000" stroke-width="1" />
<line x1="325.35" y1="231.3" x2="325.35" y2="233.5" stroke="#000" stroke-width="1" />
<line x1="60" y1="223.21" x2="65" y2="223.21" stroke="#000" stroke-width="1" />
<line x1="328.5" y1="223.21" x2="323.5" y2="223.21" stroke="#000" stroke-width="1" />
<line x1="60" y1="215.22" x2="65" y2="215.22" stroke="#000" stroke-width="1" />
<line x1="328.5" y1="215.22" x2="323.5" y2="215.22" stroke="#000" stroke-width="1" />
<line x1="60" y1="207.23" x2="65" y2="207.23" stroke="#000" stroke-width="1" />
<line x1="328.5" y1="207.23" x2="323.5" y2="207.23" stroke="#000" stroke-width="1" />
<line x1="60" y1="199.24" x2="65" y2="199.24" stroke="#000" stroke-width="1" />
<line x1="328.5" y1="199.24" x2="323.5" y2="199.24" stroke="#000" stroke-width="1" />
<line x1="60" y1="191.25" x2="70" y2="191.25" stroke="#000" stroke-width="1" />
<line x1="328.5" y1="191.25" x2="318.5" y2="191.25" stroke="#000" stroke-width="1" />
<line x1="60" y1="183.26" x2="65" y2="183.26" stroke="#000" stroke-width="1" />
<line x1="328.5" y1="183.26" x2="323.5" y2="183.26" stroke="#000" stroke-width="1" />
<line x1="60" y1="175.27" x2="65" y2="175.27" stroke="#000" stroke-width="1" />
<line x1="328.5" y1="175.27" x2="323.5" y2="175.27" stroke="#000" stroke-width="1" />
<line x1="60" y1="167.28" x2="65" y2="167.28" stroke="#000" stroke-width="1" />
<line x1="328.5" y1="167.28" x2="323.5" y2="167.28" stroke="#000" stroke-width="1" />
<line x1="60" y1="159.29" x2="65" y2="159.29" stroke="#000" stroke-width="1" />
<line x1="328.5" y1="159.29" x2="323.5" y2="159.29" stroke="#000" stroke-width="1" />
<line x1="60" y1="151.3" x2="70" y2="151.3" stroke="#000" stroke-width="1" />
<line x1="328.5" y1="151.3" x2="318.5" y2="151.3" stroke="#000" stroke-width="1" />
<line x1="60" y1="143.31" x2="65" y2="143.31" stroke="#000" stroke-width="1" />
<line x1="328.5" y1="143.31" x2="323.5" y2="143.31" stroke="#000" stroke-width="1" />
<line x1="60" y1="135.32" x2="65" y2="135.32" stroke="#000" stroke-width="1" />
<line x1="328.5" y1="135.32" x2="323.5" y2="135.32" stroke="#000" stroke-width="1" />
<line x1="60" y1="127.33" x2="65" y2="127.33" stroke="#000" stroke-width="1" />
<line x1="328.5" y1="127.33" x2="323.5" y2="127.33" stroke="#000" stroke-width="1" />
<line x1="60" y1="119.34" x2="65" y2="119.34" stroke="#000" stroke-width="1" />
<line x1="328.5" y1="119.34" x2="323.5" y2="119.34" stroke="#000" stroke-width="1" />
<line x1="60" y1="111.35" x2="70" y2="111.35" stroke="#000" stroke-width="1" />
<line x1="328.5" y1="111.35" x2="318.5" y2="111.35" stroke="#000" stroke-width="1" />
<line x1="60" y1="103.36" x2="65" y2="103.36" stroke="#000" stroke-width="1" />
<line x1="328.5" y1="103.36" x2="323.5" y2="103.36" stroke="#000" stroke-width="1" />
<line x1="60" y1="95.37" x2="65" y2="95.37" stroke="#000" stroke-width="1" />
<line x1="328.5" y1="95.37" x2="323.5" y2="95.37" stroke="#000" stroke-width="1" />
<line x1="60" y1="87.38" x2="65" y2="87.38" stroke="#000" stroke-width="1" />
<line x1="328.5" y1="87.38" x2="323.5" y2="87.38" stroke="#000" stroke-width="1" />
<line x1="60" y1="79.39" x2="65" y2="79.39" stroke="#000" stroke-width="1" />
<line x1="328.5" y1="79.39" x2="323.5" y2="79.39" stroke="#000" stroke-width="1" />
<line x1="60" y1="71.4" x2="70" y2="71.4" stroke="#000" stroke-width="1" />
<line x1="328.5" y1="71.4" x2="318.5" y2="71.4" stroke="#000" stroke-width="1" />
<line x1="60" y1="63.41" x2="65" y2="63.41" stroke="#000" stroke-width="1" />
<line x1="328.5" y1="63.41" x2="323.5" y2="63.41" stroke="#000" stroke-width="1" />
<line x1="60" y1="55.42" x2="65" y2="55.42" stroke="#000" stroke-width="1" />
<line x1="328.5" y1="55.42" x2="323.5" y2="55.42" stroke="#000" stroke-width="1" />
<line x1="60" y1="47.43" x2="65" y2="47.43" stroke="#000" stroke-width="1" />
<line x1="328.5" y1="47.43" x2="323.5" y2="47.43" stroke="#000" stroke-width="1" />
<line x1="60" y1="39.44" x2="65" y2="39.44" stroke="#000" stroke-width="1" />
<line x1="328.5" y1="39.44" x2="323.5" y2="39.44" stroke="#000" stroke-width="1" />
<line x1="60" y1="31.45" x2="70" y2="31.45" stroke="#000" stroke-width="1" />
<line x1="328.5" y1="31.45" x2="318.5" y2="31.45" stroke="#000" stroke-width="1" />
<line x1="60" y1="23.46" x2="65" y2="23.46" stroke="#000" stroke-width="1" />
<line x1="328.5" y1="23.46" x2="323.5" y2="23.46" stroke="#000" stroke-width="1" />
<line x1="60" y1="15.47" x2="65" y2="15.47" stroke="#000" stroke-width="1" />
<line x1="328.5" y1="15.47" x2="323.5" y2="15.47" stroke="#000" stroke-width="1" />
<line x1="60" y1="7.48" x2="65" y2="7.48" stroke="#000" stroke-width="1" />
<line x1="328.5" y1="7.48" x2="323.5" y2="7.48" stroke="#000" stroke-width="1" />
<line x1="60" y1="299.85" x2="63.5" y2="299.85" stroke="#000" stroke-width="1" />
<line x1="328.5" y1="299.85" x2="325" y2="299.85" stroke="#000" stroke-width="1" />
<line x1="60" y1="296" x2="63.5" y2="296" stroke="#000" stroke-width="1" />
<line x1="328.5" y1="296" x2="325" y2="296" stroke="#000" stroke-width="1" />
<line x1="60" y1="292.15" x2="63.5" y2="292.15" stroke="#000" stroke-width="1" />
<line x1="328.5" y1="292.15" x2="325" y2="292.15" stroke="#000" stroke-width="1" />
<line x1="60" y1="288.3" x2="67" y2="288.3" stroke="#000" stroke-width="1" />
<line x1="328.5" y1="288.3" x2="321.5" y2="288.3" stroke="#000" stroke-width="1" />
<line x1="60" y1="284.45" x2="63.5" y2="284.45" stroke="#000" stroke-width="1" />
<line x1="328.5" y1="284.45" x2="325" y2="284.45" stroke="#000" stroke-width="1" />
<line x1="60" y1="280.6" x2="63.5" y2="280.6" stroke="#000" stroke-width="1" />
<line x1="328.5" y1="280.6" x2="325" y2="280.6" stroke="#000" stroke-width="1" />
<line x1="60" y1="276.75" x2="63.5" y2="276.75" stroke="#000" stroke-width="1" />
<line x1="328.5" y1="276.75" x2="325" y2="276.75" stroke="#000" stroke-width="1" />
<line x1="60" y1="272.9" x2="63.5" y2="272.9" stroke="#000" stroke-width="1" />
<line x1="328.5" y1="272.9" x2="325" y2="272.9" stroke="#000" stroke-width="1" />
<line x1="60" y1="269.05" x2="67" y2="269.05" stroke="#000" stroke-width="1" />
<line x1="328.5" y1="269.05" x2="321.5" y2="269.05" stroke="#000" stroke-width="1" />
<line x1="60" y1="265.2" x2="63.5" y2="265.2" stroke="#000" stroke-width="1" />
<line x1="328.5" y1="265.2" x2="325" y2="265.2" stroke="#000" stroke-width="1" />
<line x1="60" y1="261.35" x2="63.5" y2="261.35" stroke="#000" stroke-width="1" />
<line x1="328.5" y1="261.35" x2="325" y2="261.35" stroke="#000" stroke-width="1" />
<line x1="60" y1="257.5" x2="63.5" y2="257.5" stroke="#000" stroke-width="1" />
<line x1="328.5" y1="257.5" x2="325" y2="257.5" stroke="#000" stroke-width="1" />
<line x1="60" y1="253.65" x2="63.5" y2="253.65" stroke="#000" stroke-width="1" />
<line x1="328.5" y1="253.65" x2="325" y2="253.65" stroke="#000" stroke-width="1" />
<line x1="60" y1="249.8" x2="67" y2="249.8" stroke="#000" stroke-width="1" />
<line x1="328.5" y1="249.8" x2="321.5" y2="249.8" stroke="#000" stroke-width="1" />
<line x1="60" y1="245.95" x2="63.5" y2="245.95" stroke="#000" stroke-width="1" />
<line x1="328.5" y1="245.95" x2="325" y2="245.95" stroke="#000" stroke-width="1" />
<line x1="60" y1="242.1" x2="63.5" y2="242.1" stroke="#000" stroke-width="1" />
<line x1="328.5" y1="242.1" x2="325" y2="242.1" stroke="#000" stroke-width="1" />
<line x1="60" y1="238.25" x2="63.5" y2="238.25" stroke="#000" stroke-width="1" />
<line x1="328.5" y1="238.25" x2="325" y2="238.25" stroke="#000" stroke-width="1" />
<line x1="60" y1="234.4" x2="63.5" y2="234.4" stroke="#000" stroke-width="1" />
<line x1="328.5" y1="234.4" x2="325" y2="234.4" stroke="#000" stroke-width="1" />
<text x="63" y="312" font-size="11.3" text-anchor="middle" >0.5</text>
<text x="92.15" y="312" font-size="11.3" text-anchor="middle" >1</text>
<text x="121.3" y="312" font-size="11.3" text-anchor="middle" >1.5</text>
<text x="150.45" y="312" font-size="11.3" text-anchor="middle" >2</text>
<text x="179.6" y="312" font-size="11.3" text-anchor="middle" >2.5</text>
<text x="208.75" y="312" font-size="11.3" text-anchor="middle" >3</text>
<text x="237.9" y="312" font-size="11.3" text-anchor="middle" >3.5</text>
<text x="267.05" y="312" font-size="11.3" text-anchor="middle" >4</text>
<text x="296.2" y="312" font-size="11.3" text-anchor="middle" >4.5</text>
<text x="325.35" y="312" font-size="11.3" text-anchor="middle" >5</text>
<text x="58" y="195.25" font-size="11.3" text-anchor="end" >0.5</text>
<text x="58" y="155.3" font-size="11.3" text-anchor="end" >1</text>
<text x="58" y="115.35" font-size="11.3" text-anchor="end" >1.5</text>
<text x="58" y="75.4" font-size="11.3" text-anchor="end" >2</text>
<text x="58" y="35.45" font-size="11.3" text-anchor="end" >2.5</text>
<text x="58" y="292.3" font-size="11.3" text-anchor="end" >0.5</text>
<text x="58" y="273.05" font-size="11.3" text-anchor="end" >1</text>
<text x="58" y="253.8" font-size="11.3" text-anchor="end" >1.5</text>
<text x="77" y="21.5" font-size="11.8" font-weight="bold" font-style="italic" textLength="40.2" lengthAdjust="spacingAndGlyphs">ATLAS</text>
<path d="M78,34.4 L78.9,33.8 L80,38.8 L80.7,29 H88.4" fill="none" stroke="#000" stroke-width="0.9"/>
<text x="82.3" y="38.6" font-size="11.6" textLength="86.6" lengthAdjust="spacingAndGlyphs">s=13 TeV, 3.2 fb</text>
<text x="169.3" y="34" font-size="8.2">-1</text>
<text x="77.4" y="56.9" font-size="11.6">10 GeV&lt;p</text>
<text x="131" y="51.7" font-size="8.2">Z</text>
<text x="131" y="63.1" font-size="8.2">T</text>
<text x="136" y="56.9" font-size="11.6">&lt;20 GeV</text>
<text x="77.4" y="70.4" font-size="11.6">trans-min region</text>
<rect x="201.1" y="12.5" width="18.9" height="12.3" fill="#6acb9a" />
<text x="224" y="19.3" font-size="11.6">syst.</text>
<circle cx="255.6" cy="15.25" r="3.95" fill="none" stroke="#000" stroke-width="0.75"/>
<path d="M251.65,15.25H259.55M255.6,11.3V19.2" stroke="#000" stroke-width="0.75"/>
<text x="263.2" y="19.3" font-size="11.6">stat. error</text>
<line x1="210.55" y1="30.2" x2="210.55" y2="39.5" stroke="#000" stroke-width="1.2" />
<circle cx="210.55" cy="34.9" r="3.2" fill="#000"/>
<text x="224" y="35.9" font-size="11.6">Data 2015</text>
<line x1="201.1" y1="51" x2="220" y2="51" stroke="#a82252" stroke-width="1.4" />
<text x="224" y="52.2" font-size="11.6">PowhegPythia8</text>
<line x1="201.1" y1="67.2" x2="220" y2="67.2" stroke="#0000ff" stroke-width="1.3" stroke-dasharray="2,1.8"/>
<text x="224" y="68.6" font-size="11.6">Sherpa</text>
<line x1="201.1" y1="83.4" x2="220" y2="83.4" stroke="#dc7d26" stroke-width="1.2" stroke-dasharray="2.2,2.1,1,2.1"/>
<text x="224" y="84.9" font-size="11.6">Herwig++</text>
<text transform="translate(22,265.9) rotate(-90)" font-size="11.6" text-anchor="middle">Ratio</text>
<g clip-path="url(#p2m)">
<rect x="415.5" y="156.55" width="11.17" height="5.8" fill="#6acb9a" />
<rect x="426.67" y="144.66" width="11.17" height="4.39" fill="#6acb9a" />
<rect x="437.83" y="142.61" width="11.17" height="4.49" fill="#6acb9a" />
<rect x="449" y="148.47" width="11.17" height="3.74" fill="#6acb9a" />
<rect x="460.17" y="158.81" width="11.17" height="3.27" fill="#6acb9a" />
<rect x="471.33" y="169.14" width="11.17" height="2.8" fill="#6acb9a" />
<rect x="482.5" y="181.65" width="11.17" height="2.23" fill="#6acb9a" />
<rect x="493.67" y="191.98" width="11.17" height="1.76" fill="#6acb9a" />
<rect x="504.84" y="200.57" width="11.17" height="1.54" fill="#6acb9a" />
<rect x="516" y="208.32" width="11.17" height="1.27" fill="#6acb9a" />
<rect x="527.17" y="213.4" width="11.17" height="1.08" fill="#6acb9a" />
<rect x="538.34" y="217.7" width="11.17" height="0.96" fill="#6acb9a" />
<rect x="549.5" y="221.14" width="11.17" height="0.82" fill="#6acb9a" />
<rect x="560.67" y="223.64" width="11.17" height="0.8" fill="#6acb9a" />
<rect x="571.84" y="225.15" width="11.17" height="0.78" fill="#6acb9a" />
<rect x="583" y="226.7" width="11.17" height="0.67" fill="#6acb9a" />
<rect x="594.17" y="228.01" width="11.17" height="0.55" fill="#6acb9a" />
<rect x="605.34" y="228.8" width="11.17" height="0.46" fill="#6acb9a" />
<rect x="616.51" y="229.33" width="11.17" height="0.4" fill="#6acb9a" />
<rect x="627.67" y="229.73" width="11.17" height="0.34" fill="#6acb9a" />
<rect x="638.84" y="230" width="11.17" height="0.3" fill="#6acb9a" />
<rect x="650.01" y="230.19" width="11.17" height="0.31" fill="#6acb9a" />
<rect x="661.17" y="230.39" width="11.17" height="0.21" fill="#6acb9a" />
<rect x="672.34" y="230.51" width="11.17" height="0.15" fill="#6acb9a" />
<line x1="415.5" y1="159.45" x2="426.67" y2="159.45" stroke="#000" stroke-width="1.1" />
<circle cx="421.08" cy="159.45" r="2.9" fill="#000"/>
<line x1="426.67" y1="146.85" x2="437.83" y2="146.85" stroke="#000" stroke-width="1.1" />
<circle cx="432.25" cy="146.85" r="2.9" fill="#000"/>
<line x1="437.83" y1="144.86" x2="449" y2="144.86" stroke="#000" stroke-width="1.1" />
<circle cx="443.42" cy="144.86" r="2.9" fill="#000"/>
<line x1="449" y1="150.34" x2="460.17" y2="150.34" stroke="#000" stroke-width="1.1" />
<circle cx="454.58" cy="150.34" r="2.9" fill="#000"/>
<line x1="460.17" y1="160.44" x2="471.33" y2="160.44" stroke="#000" stroke-width="1.1" />
<circle cx="465.75" cy="160.44" r="2.9" fill="#000"/>
<line x1="471.33" y1="170.55" x2="482.5" y2="170.55" stroke="#000" stroke-width="1.1" />
<circle cx="476.92" cy="170.55" r="2.9" fill="#000"/>
<line x1="482.5" y1="182.77" x2="493.67" y2="182.77" stroke="#000" stroke-width="1.1" />
<circle cx="488.09" cy="182.77" r="2.9" fill="#000"/>
<line x1="493.67" y1="192.87" x2="504.84" y2="192.87" stroke="#000" stroke-width="1.1" />
<circle cx="499.25" cy="192.87" r="2.9" fill="#000"/>
<line x1="504.84" y1="201.35" x2="516" y2="201.35" stroke="#000" stroke-width="1.1" />
<circle cx="510.42" cy="201.35" r="2.9" fill="#000"/>
<line x1="516" y1="208.95" x2="527.17" y2="208.95" stroke="#000" stroke-width="1.1" />
<circle cx="521.59" cy="208.95" r="2.9" fill="#000"/>
<line x1="527.17" y1="213.94" x2="538.34" y2="213.94" stroke="#000" stroke-width="1.1" />
<circle cx="532.75" cy="213.94" r="2.9" fill="#000"/>
<line x1="538.34" y1="218.18" x2="549.5" y2="218.18" stroke="#000" stroke-width="1.1" />
<circle cx="543.92" cy="218.18" r="2.9" fill="#000"/>
<line x1="549.5" y1="221.55" x2="560.67" y2="221.55" stroke="#000" stroke-width="1.1" />
<circle cx="555.09" cy="221.55" r="2.9" fill="#000"/>
<line x1="560.67" y1="224.04" x2="571.84" y2="224.04" stroke="#000" stroke-width="1.1" />
<circle cx="566.25" cy="224.04" r="2.9" fill="#000"/>
<line x1="571.84" y1="225.54" x2="583" y2="225.54" stroke="#000" stroke-width="1.1" />
<circle cx="577.42" cy="225.54" r="2.9" fill="#000"/>
<line x1="583" y1="227.03" x2="594.17" y2="227.03" stroke="#000" stroke-width="1.1" />
<circle cx="588.59" cy="227.03" r="2.9" fill="#000"/>
<line x1="594.17" y1="228.28" x2="605.34" y2="228.28" stroke="#000" stroke-width="1.1" />
<circle cx="599.76" cy="228.28" r="2.9" fill="#000"/>
<line x1="605.34" y1="229.03" x2="616.51" y2="229.03" stroke="#000" stroke-width="1.1" />
<circle cx="610.92" cy="229.03" r="2.9" fill="#000"/>
<line x1="616.51" y1="229.53" x2="627.67" y2="229.53" stroke="#000" stroke-width="1.1" />
<circle cx="622.09" cy="229.53" r="2.9" fill="#000"/>
<line x1="627.67" y1="229.9" x2="638.84" y2="229.9" stroke="#000" stroke-width="1.1" />
<circle cx="633.26" cy="229.9" r="2.9" fill="#000"/>
<line x1="638.84" y1="230.15" x2="650.01" y2="230.15" stroke="#000" stroke-width="1.1" />
<circle cx="644.42" cy="230.15" r="2.9" fill="#000"/>
<line x1="650.01" y1="230.34" x2="661.17" y2="230.34" stroke="#000" stroke-width="1.1" />
<circle cx="655.59" cy="230.34" r="2.9" fill="#000"/>
<line x1="661.17" y1="230.49" x2="672.34" y2="230.49" stroke="#000" stroke-width="1.1" />
<circle cx="666.76" cy="230.49" r="2.9" fill="#000"/>
<line x1="672.34" y1="230.59" x2="683.51" y2="230.59" stroke="#000" stroke-width="1.1" />
<circle cx="677.92" cy="230.59" r="2.9" fill="#000"/>
<path d="M415.5,134.44H426.67V146.85H437.83V153.46H449V158.4H460.17V165.38H471.33V172.36H482.5V182.77H493.67V191.73H504.84V199.57H516V207.64H527.17V213.43H538.34V218.18H549.5V221.55H560.67V224.59H571.84V226.45H583V227.92H594.17V229.07H605.34V229.76H616.51V230.1H627.67V230.39H638.84V230.56H650.01V230.67H661.17V230.75H672.34V230.82H683.51" fill="none" stroke="#a82252" stroke-width="1.3"/>
<path d="M415.5,78.7H426.67V118.28H437.83V140.55H449V159.2H460.17V171.72H471.33V185.63H482.5V195.76H493.67V204.28H504.84V210.21H516V216.2H527.17V220.39H538.34V223.78H549.5V226.22H560.67V227.95H571.84V228.59H583V229.24H594.17V230.01H605.34V230.26H616.51V230.47H627.67V230.58H638.84V230.71H650.01V230.73H661.17V230.83H672.34V230.85H683.51" fill="none" stroke="#0000ff" stroke-width="1.3" stroke-dasharray="2,1.8"/>
<path d="M415.5,169.45H426.67V157.78H437.83V155.18H449V159.2H460.17V162.56H471.33V169.34H482.5V179.4H493.67V187.16H504.84V193.37H516V203.03H527.17V210.55H538.34V213.6H549.5V218.46H560.67V221.98H571.84V224.47H583V226.34H594.17V227.5H605.34V228.47H616.51V229.25H627.67V230H638.84V229.96H650.01V230.39H661.17V230.61H672.34V230.68H683.51" fill="none" stroke="#dc7d26" stroke-width="1.2" stroke-dasharray="2.2,2.1,1,2.1"/>
</g>
<g clip-path="url(#p2r)">
<rect x="415.5" y="264.47" width="11.17" height="5.67" fill="#6acb9a" />
<rect x="426.67" y="265.48" width="11.17" height="3.64" fill="#6acb9a" />
<rect x="437.83" y="265.48" width="11.17" height="3.64" fill="#6acb9a" />
<rect x="449" y="265.68" width="11.17" height="3.24" fill="#6acb9a" />
<rect x="460.17" y="265.68" width="11.17" height="3.24" fill="#6acb9a" />
<rect x="471.33" y="265.68" width="11.17" height="3.24" fill="#6acb9a" />
<rect x="482.5" y="265.68" width="11.17" height="3.24" fill="#6acb9a" />
<rect x="493.67" y="265.68" width="11.17" height="3.24" fill="#6acb9a" />
<rect x="504.84" y="265.48" width="11.17" height="3.64" fill="#6acb9a" />
<rect x="516" y="265.28" width="11.17" height="4.05" fill="#6acb9a" />
<rect x="527.17" y="265.07" width="11.17" height="4.46" fill="#6acb9a" />
<rect x="538.34" y="264.67" width="11.17" height="5.26" fill="#6acb9a" />
<rect x="549.5" y="264.22" width="11.17" height="6.16" fill="#6acb9a" />
<rect x="560.67" y="263.25" width="11.17" height="8.1" fill="#6acb9a" />
<rect x="571.84" y="262.2" width="11.17" height="10.21" fill="#6acb9a" />
<rect x="583" y="261.23" width="11.17" height="12.15" fill="#6acb9a" />
<rect x="594.17" y="260.01" width="11.17" height="14.58" fill="#6acb9a" />
<rect x="605.34" y="258.8" width="11.17" height="17.01" fill="#6acb9a" />
<rect x="616.51" y="257.18" width="11.17" height="20.25" fill="#6acb9a" />
<rect x="627.67" y="255.56" width="11.17" height="23.49" fill="#6acb9a" />
<rect x="638.84" y="253.53" width="11.17" height="27.54" fill="#6acb9a" />
<rect x="650.01" y="248.27" width="11.17" height="38.07" fill="#6acb9a" />
<rect x="661.17" y="249.89" width="11.17" height="34.83" fill="#6acb9a" />
<rect x="672.34" y="250.7" width="11.17" height="33.21" fill="#6acb9a" />
<path d="M415.5,272.97H426.67V272.56H437.83V272.16H449V271.75H460.17V268.51H471.33V266.49H482.5V264.47H493.67V261.23H504.84V256.37H516V256.37H527.17V259.2H538.34V252.72H549.5V253.94H560.67V255.15H571.84V259.2H583V260.01H594.17V255.15H605.34V255.15H616.51V259.2H627.67V271.35H638.84V257.18H650.01V271.35H661.17V279.45H672.34V278.64H683.51" fill="none" stroke="#dc7d26" stroke-width="1.2" stroke-dasharray="2.2,2.1,1,2.1"/>
<path d="M415.5,221.54H426.67V253.53H437.83V265.28H449V271.75H460.17V273.78H471.33V277.43H482.5V278.24H493.67V279.45H504.84V279.45H516V280.67H527.17V282.69H538.34V285.12H549.5V287.55H560.67V290.38H571.84V290.38H583V290.38H594.17V294.03H605.34V294.03H616.51V295.25H627.67V294.84H638.84V297.27H650.01V295.65H661.17V300.92H672.34V300.92H683.51" fill="none" stroke="#0000ff" stroke-width="1.3" stroke-dasharray="2,1.8"/>
<path d="M415.5,253.12H426.67V267.3H437.83V271.35H449V271.35H460.17V270.13H471.33V268.51H482.5V267.3H493.67V266.09H504.84V264.87H516V264.87H527.17V266.09H538.34V267.3H549.5V267.3H560.67V270.54H571.84V274.19H583V276.62H594.17V279.45H605.34V283.1H616.51V284.31H627.67V287.14H638.84V289.57H650.01V291.19H661.17V293.22H672.34V296.87H683.51" fill="none" stroke="#a82252" stroke-width="1.3"/>
<line x1="415.5" y1="267.3" x2="683.6" y2="267.3" stroke="#000" stroke-width="1.3" />
<line x1="421.08" y1="267.14" x2="421.08" y2="267.46" stroke="#000" stroke-width="1.2" />
<line x1="432.25" y1="267.14" x2="432.25" y2="267.46" stroke="#000" stroke-width="1.2" />
<line x1="443.42" y1="267.14" x2="443.42" y2="267.46" stroke="#000" stroke-width="1.2" />
<line x1="454.58" y1="267.14" x2="454.58" y2="267.46" stroke="#000" stroke-width="1.2" />
<line x1="465.75" y1="267.14" x2="465.75" y2="267.46" stroke="#000" stroke-width="1.2" />
<line x1="476.92" y1="267.14" x2="476.92" y2="267.46" stroke="#000" stroke-width="1.2" />
<line x1="488.09" y1="267.14" x2="488.09" y2="267.46" stroke="#000" stroke-width="1.2" />
<line x1="499.25" y1="267.14" x2="499.25" y2="267.46" stroke="#000" stroke-width="1.2" />
<line x1="510.42" y1="267.14" x2="510.42" y2="267.46" stroke="#000" stroke-width="1.2" />
<line x1="521.59" y1="267.14" x2="521.59" y2="267.46" stroke="#000" stroke-width="1.2" />
<line x1="532.75" y1="267.14" x2="532.75" y2="267.46" stroke="#000" stroke-width="1.2" />
<line x1="543.92" y1="267.14" x2="543.92" y2="267.46" stroke="#000" stroke-width="1.2" />
<line x1="555.09" y1="267.06" x2="555.09" y2="267.54" stroke="#000" stroke-width="1.2" />
<line x1="566.25" y1="266.98" x2="566.25" y2="267.62" stroke="#000" stroke-width="1.2" />
<line x1="577.42" y1="266.9" x2="577.42" y2="267.7" stroke="#000" stroke-width="1.2" />
<line x1="588.59" y1="266.77" x2="588.59" y2="267.83" stroke="#000" stroke-width="1.2" />
<line x1="599.76" y1="266.61" x2="599.76" y2="267.99" stroke="#000" stroke-width="1.2" />
<line x1="610.92" y1="266.41" x2="610.92" y2="268.19" stroke="#000" stroke-width="1.2" />
<line x1="622.09" y1="265.88" x2="622.09" y2="268.72" stroke="#000" stroke-width="1.2" />
<line x1="633.26" y1="265.28" x2="633.26" y2="269.32" stroke="#000" stroke-width="1.2" />
<line x1="644.42" y1="264.67" x2="644.42" y2="269.93" stroke="#000" stroke-width="1.2" />
<line x1="655.59" y1="264.26" x2="655.59" y2="270.34" stroke="#000" stroke-width="1.2" />
<line x1="666.76" y1="263.66" x2="666.76" y2="270.94" stroke="#000" stroke-width="1.2" />
<line x1="677.92" y1="262.04" x2="677.92" y2="272.56" stroke="#000" stroke-width="1.2" />
</g>
<rect x="415.5" y="3.4" width="268.1" height="297.9" fill="none" stroke="#000" stroke-width="1.0"/>
<line x1="415.5" y1="231" x2="683.6" y2="231" stroke="#000" stroke-width="1.0" />
<line x1="421.08" y1="3.4" x2="421.08" y2="8.9" stroke="#000" stroke-width="1" />
<line x1="421.08" y1="231" x2="421.08" y2="225.5" stroke="#000" stroke-width="1" />
<line x1="421.08" y1="301.3" x2="421.08" y2="299.1" stroke="#000" stroke-width="1" />
<line x1="421.08" y1="231" x2="421.08" y2="233.2" stroke="#000" stroke-width="1" />
<line x1="426.93" y1="3.4" x2="426.93" y2="6.4" stroke="#000" stroke-width="1" />
<line x1="426.93" y1="231" x2="426.93" y2="228" stroke="#000" stroke-width="1" />
<line x1="426.93" y1="301.3" x2="426.93" y2="300.1" stroke="#000" stroke-width="1" />
<line x1="426.93" y1="231" x2="426.93" y2="232.2" stroke="#000" stroke-width="1" />
<line x1="432.77" y1="3.4" x2="432.77" y2="6.4" stroke="#000" stroke-width="1" />
<line x1="432.77" y1="231" x2="432.77" y2="228" stroke="#000" stroke-width="1" />
<line x1="432.77" y1="301.3" x2="432.77" y2="300.1" stroke="#000" stroke-width="1" />
<line x1="432.77" y1="231" x2="432.77" y2="232.2" stroke="#000" stroke-width="1" />
<line x1="438.62" y1="3.4" x2="438.62" y2="6.4" stroke="#000" stroke-width="1" />
<line x1="438.62" y1="231" x2="438.62" y2="228" stroke="#000" stroke-width="1" />
<line x1="438.62" y1="301.3" x2="438.62" y2="300.1" stroke="#000" stroke-width="1" />
<line x1="438.62" y1="231" x2="438.62" y2="232.2" stroke="#000" stroke-width="1" />
<line x1="444.47" y1="3.4" x2="444.47" y2="6.4" stroke="#000" stroke-width="1" />
<line x1="444.47" y1="231" x2="444.47" y2="228" stroke="#000" stroke-width="1" />
<line x1="444.47" y1="301.3" x2="444.47" y2="300.1" stroke="#000" stroke-width="1" />
<line x1="444.47" y1="231" x2="444.47" y2="232.2" stroke="#000" stroke-width="1" />
<line x1="450.31" y1="3.4" x2="450.31" y2="8.9" stroke="#000" stroke-width="1" />
<line x1="450.31" y1="231" x2="450.31" y2="225.5" stroke="#000" stroke-width="1" />
<line x1="450.31" y1="301.3" x2="450.31" y2="299.1" stroke="#000" stroke-width="1" />
<line x1="450.31" y1="231" x2="450.31" y2="233.2" stroke="#000" stroke-width="1" />
<line x1="456.16" y1="3.4" x2="456.16" y2="6.4" stroke="#000" stroke-width="1" />
<line x1="456.16" y1="231" x2="456.16" y2="228" stroke="#000" stroke-width="1" />
<line x1="456.16" y1="301.3" x2="456.16" y2="300.1" stroke="#000" stroke-width="1" />
<line x1="456.16" y1="231" x2="456.16" y2="232.2" stroke="#000" stroke-width="1" />
<line x1="462.01" y1="3.4" x2="462.01" y2="6.4" stroke="#000" stroke-width="1" />
<line x1="462.01" y1="231" x2="462.01" y2="228" stroke="#000" stroke-width="1" />
<line x1="462.01" y1="301.3" x2="462.01" y2="300.1" stroke="#000" stroke-width="1" />
<line x1="462.01" y1="231" x2="462.01" y2="232.2" stroke="#000" stroke-width="1" />
<line x1="467.86" y1="3.4" x2="467.86" y2="6.4" stroke="#000" stroke-width="1" />
<line x1="467.86" y1="231" x2="467.86" y2="228" stroke="#000" stroke-width="1" />
<line x1="467.86" y1="301.3" x2="467.86" y2="300.1" stroke="#000" stroke-width="1" />
<line x1="467.86" y1="231" x2="467.86" y2="232.2" stroke="#000" stroke-width="1" />
<line x1="473.7" y1="3.4" x2="473.7" y2="6.4" stroke="#000" stroke-width="1" />
<line x1="473.7" y1="231" x2="473.7" y2="228" stroke="#000" stroke-width="1" />
<line x1="473.7" y1="301.3" x2="473.7" y2="300.1" stroke="#000" stroke-width="1" />
<line x1="473.7" y1="231" x2="473.7" y2="232.2" stroke="#000" stroke-width="1" />
<line x1="479.55" y1="3.4" x2="479.55" y2="8.9" stroke="#000" stroke-width="1" />
<line x1="479.55" y1="231" x2="479.55" y2="225.5" stroke="#000" stroke-width="1" />
<line x1="479.55" y1="301.3" x2="479.55" y2="299.1" stroke="#000" stroke-width="1" />
<line x1="479.55" y1="231" x2="479.55" y2="233.2" stroke="#000" stroke-width="1" />
<line x1="485.4" y1="3.4" x2="485.4" y2="6.4" stroke="#000" stroke-width="1" />
<line x1="485.4" y1="231" x2="485.4" y2="228" stroke="#000" stroke-width="1" />
<line x1="485.4" y1="301.3" x2="485.4" y2="300.1" stroke="#000" stroke-width="1" />
<line x1="485.4" y1="231" x2="485.4" y2="232.2" stroke="#000" stroke-width="1" />
<line x1="491.24" y1="3.4" x2="491.24" y2="6.4" stroke="#000" stroke-width="1" />
<line x1="491.24" y1="231" x2="491.24" y2="228" stroke="#000" stroke-width="1" />
<line x1="491.24" y1="301.3" x2="491.24" y2="300.1" stroke="#000" stroke-width="1" />
<line x1="491.24" y1="231" x2="491.24" y2="232.2" stroke="#000" stroke-width="1" />
<line x1="497.09" y1="3.4" x2="497.09" y2="6.4" stroke="#000" stroke-width="1" />
<line x1="497.09" y1="231" x2="497.09" y2="228" stroke="#000" stroke-width="1" />
<line x1="497.09" y1="301.3" x2="497.09" y2="300.1" stroke="#000" stroke-width="1" />
<line x1="497.09" y1="231" x2="497.09" y2="232.2" stroke="#000" stroke-width="1" />
<line x1="502.94" y1="3.4" x2="502.94" y2="6.4" stroke="#000" stroke-width="1" />
<line x1="502.94" y1="231" x2="502.94" y2="228" stroke="#000" stroke-width="1" />
<line x1="502.94" y1="301.3" x2="502.94" y2="300.1" stroke="#000" stroke-width="1" />
<line x1="502.94" y1="231" x2="502.94" y2="232.2" stroke="#000" stroke-width="1" />
<line x1="508.78" y1="3.4" x2="508.78" y2="8.9" stroke="#000" stroke-width="1" />
<line x1="508.78" y1="231" x2="508.78" y2="225.5" stroke="#000" stroke-width="1" />
<line x1="508.78" y1="301.3" x2="508.78" y2="299.1" stroke="#000" stroke-width="1" />
<line x1="508.78" y1="231" x2="508.78" y2="233.2" stroke="#000" stroke-width="1" />
<line x1="514.63" y1="3.4" x2="514.63" y2="6.4" stroke="#000" stroke-width="1" />
<line x1="514.63" y1="231" x2="514.63" y2="228" stroke="#000" stroke-width="1" />
<line x1="514.63" y1="301.3" x2="514.63" y2="300.1" stroke="#000" stroke-width="1" />
<line x1="514.63" y1="231" x2="514.63" y2="232.2" stroke="#000" stroke-width="1" />
<line x1="520.48" y1="3.4" x2="520.48" y2="6.4" stroke="#000" stroke-width="1" />
<line x1="520.48" y1="231" x2="520.48" y2="228" stroke="#000" stroke-width="1" />
<line x1="520.48" y1="301.3" x2="520.48" y2="300.1" stroke="#000" stroke-width="1" />
<line x1="520.48" y1="231" x2="520.48" y2="232.2" stroke="#000" stroke-width="1" />
<line x1="526.33" y1="3.4" x2="526.33" y2="6.4" stroke="#000" stroke-width="1" />
<line x1="526.33" y1="231" x2="526.33" y2="228" stroke="#000" stroke-width="1" />
<line x1="526.33" y1="301.3" x2="526.33" y2="300.1" stroke="#000" stroke-width="1" />
<line x1="526.33" y1="231" x2="526.33" y2="232.2" stroke="#000" stroke-width="1" />
<line x1="532.17" y1="3.4" x2="532.17" y2="6.4" stroke="#000" stroke-width="1" />
<line x1="532.17" y1="231" x2="532.17" y2="228" stroke="#000" stroke-width="1" />
<line x1="532.17" y1="301.3" x2="532.17" y2="300.1" stroke="#000" stroke-width="1" />
<line x1="532.17" y1="231" x2="532.17" y2="232.2" stroke="#000" stroke-width="1" />
<line x1="538.02" y1="3.4" x2="538.02" y2="8.9" stroke="#000" stroke-width="1" />
<line x1="538.02" y1="231" x2="538.02" y2="225.5" stroke="#000" stroke-width="1" />
<line x1="538.02" y1="301.3" x2="538.02" y2="299.1" stroke="#000" stroke-width="1" />
<line x1="538.02" y1="231" x2="538.02" y2="233.2" stroke="#000" stroke-width="1" />
<line x1="543.87" y1="3.4" x2="543.87" y2="6.4" stroke="#000" stroke-width="1" />
<line x1="543.87" y1="231" x2="543.87" y2="228" stroke="#000" stroke-width="1" />
<line x1="543.87" y1="301.3" x2="543.87" y2="300.1" stroke="#000" stroke-width="1" />
<line x1="543.87" y1="231" x2="543.87" y2="232.2" stroke="#000" stroke-width="1" />
<line x1="549.71" y1="3.4" x2="549.71" y2="6.4" stroke="#000" stroke-width="1" />
<line x1="549.71" y1="231" x2="549.71" y2="228" stroke="#000" stroke-width="1" />
<line x1="549.71" y1="301.3" x2="549.71" y2="300.1" stroke="#000" stroke-width="1" />
<line x1="549.71" y1="231" x2="549.71" y2="232.2" stroke="#000" stroke-width="1" />
<line x1="555.56" y1="3.4" x2="555.56" y2="6.4" stroke="#000" stroke-width="1" />
<line x1="555.56" y1="231" x2="555.56" y2="228" stroke="#000" stroke-width="1" />
<line x1="555.56" y1="301.3" x2="555.56" y2="300.1" stroke="#000" stroke-width="1" />
<line x1="555.56" y1="231" x2="555.56" y2="232.2" stroke="#000" stroke-width="1" />
<line x1="561.41" y1="3.4" x2="561.41" y2="6.4" stroke="#000" stroke-width="1" />
<line x1="561.41" y1="231" x2="561.41" y2="228" stroke="#000" stroke-width="1" />
<line x1="561.41" y1="301.3" x2="561.41" y2="300.1" stroke="#000" stroke-width="1" />
<line x1="561.41" y1="231" x2="561.41" y2="232.2" stroke="#000" stroke-width="1" />
<line x1="567.25" y1="3.4" x2="567.25" y2="8.9" stroke="#000" stroke-width="1" />
<line x1="567.25" y1="231" x2="567.25" y2="225.5" stroke="#000" stroke-width="1" />
<line x1="567.25" y1="301.3" x2="567.25" y2="299.1" stroke="#000" stroke-width="1" />
<line x1="567.25" y1="231" x2="567.25" y2="233.2" stroke="#000" stroke-width="1" />
<line x1="573.1" y1="3.4" x2="573.1" y2="6.4" stroke="#000" stroke-width="1" />
<line x1="573.1" y1="231" x2="573.1" y2="228" stroke="#000" stroke-width="1" />
<line x1="573.1" y1="301.3" x2="573.1" y2="300.1" stroke="#000" stroke-width="1" />
<line x1="573.1" y1="231" x2="573.1" y2="232.2" stroke="#000" stroke-width="1" />
<line x1="578.95" y1="3.4" x2="578.95" y2="6.4" stroke="#000" stroke-width="1" />
<line x1="578.95" y1="231" x2="578.95" y2="228" stroke="#000" stroke-width="1" />
<line x1="578.95" y1="301.3" x2="578.95" y2="300.1" stroke="#000" stroke-width="1" />
<line x1="578.95" y1="231" x2="578.95" y2="232.2" stroke="#000" stroke-width="1" />
<line x1="584.8" y1="3.4" x2="584.8" y2="6.4" stroke="#000" stroke-width="1" />
<line x1="584.8" y1="231" x2="584.8" y2="228" stroke="#000" stroke-width="1" />
<line x1="584.8" y1="301.3" x2="584.8" y2="300.1" stroke="#000" stroke-width="1" />
<line x1="584.8" y1="231" x2="584.8" y2="232.2" stroke="#000" stroke-width="1" />
<line x1="590.64" y1="3.4" x2="590.64" y2="6.4" stroke="#000" stroke-width="1" />
<line x1="590.64" y1="231" x2="590.64" y2="228" stroke="#000" stroke-width="1" />
<line x1="590.64" y1="301.3" x2="590.64" y2="300.1" stroke="#000" stroke-width="1" />
<line x1="590.64" y1="231" x2="590.64" y2="232.2" stroke="#000" stroke-width="1" />
<line x1="596.49" y1="3.4" x2="596.49" y2="8.9" stroke="#000" stroke-width="1" />
<line x1="596.49" y1="231" x2="596.49" y2="225.5" stroke="#000" stroke-width="1" />
<line x1="596.49" y1="301.3" x2="596.49" y2="299.1" stroke="#000" stroke-width="1" />
<line x1="596.49" y1="231" x2="596.49" y2="233.2" stroke="#000" stroke-width="1" />
<line x1="602.34" y1="3.4" x2="602.34" y2="6.4" stroke="#000" stroke-width="1" />
<line x1="602.34" y1="231" x2="602.34" y2="228" stroke="#000" stroke-width="1" />
<line x1="602.34" y1="301.3" x2="602.34" y2="300.1" stroke="#000" stroke-width="1" />
<line x1="602.34" y1="231" x2="602.34" y2="232.2" stroke="#000" stroke-width="1" />
<line x1="608.18" y1="3.4" x2="608.18" y2="6.4" stroke="#000" stroke-width="1" />
<line x1="608.18" y1="231" x2="608.18" y2="228" stroke="#000" stroke-width="1" />
<line x1="608.18" y1="301.3" x2="608.18" y2="300.1" stroke="#000" stroke-width="1" />
<line x1="608.18" y1="231" x2="608.18" y2="232.2" stroke="#000" stroke-width="1" />
<line x1="614.03" y1="3.4" x2="614.03" y2="6.4" stroke="#000" stroke-width="1" />
<line x1="614.03" y1="231" x2="614.03" y2="228" stroke="#000" stroke-width="1" />
<line x1="614.03" y1="301.3" x2="614.03" y2="300.1" stroke="#000" stroke-width="1" />
<line x1="614.03" y1="231" x2="614.03" y2="232.2" stroke="#000" stroke-width="1" />
<line x1="619.88" y1="3.4" x2="619.88" y2="6.4" stroke="#000" stroke-width="1" />
<line x1="619.88" y1="231" x2="619.88" y2="228" stroke="#000" stroke-width="1" />
<line x1="619.88" y1="301.3" x2="619.88" y2="300.1" stroke="#000" stroke-width="1" />
<line x1="619.88" y1="231" x2="619.88" y2="232.2" stroke="#000" stroke-width="1" />
<line x1="625.72" y1="3.4" x2="625.72" y2="8.9" stroke="#000" stroke-width="1" />
<line x1="625.72" y1="231" x2="625.72" y2="225.5" stroke="#000" stroke-width="1" />
<line x1="625.72" y1="301.3" x2="625.72" y2="299.1" stroke="#000" stroke-width="1" />
<line x1="625.72" y1="231" x2="625.72" y2="233.2" stroke="#000" stroke-width="1" />
<line x1="631.57" y1="3.4" x2="631.57" y2="6.4" stroke="#000" stroke-width="1" />
<line x1="631.57" y1="231" x2="631.57" y2="228" stroke="#000" stroke-width="1" />
<line x1="631.57" y1="301.3" x2="631.57" y2="300.1" stroke="#000" stroke-width="1" />
<line x1="631.57" y1="231" x2="631.57" y2="232.2" stroke="#000" stroke-width="1" />
<line x1="637.42" y1="3.4" x2="637.42" y2="6.4" stroke="#000" stroke-width="1" />
<line x1="637.42" y1="231" x2="637.42" y2="228" stroke="#000" stroke-width="1" />
<line x1="637.42" y1="301.3" x2="637.42" y2="300.1" stroke="#000" stroke-width="1" />
<line x1="637.42" y1="231" x2="637.42" y2="232.2" stroke="#000" stroke-width="1" />
<line x1="643.27" y1="3.4" x2="643.27" y2="6.4" stroke="#000" stroke-width="1" />
<line x1="643.27" y1="231" x2="643.27" y2="228" stroke="#000" stroke-width="1" />
<line x1="643.27" y1="301.3" x2="643.27" y2="300.1" stroke="#000" stroke-width="1" />
<line x1="643.27" y1="231" x2="643.27" y2="232.2" stroke="#000" stroke-width="1" />
<line x1="649.11" y1="3.4" x2="649.11" y2="6.4" stroke="#000" stroke-width="1" />
<line x1="649.11" y1="231" x2="649.11" y2="228" stroke="#000" stroke-width="1" />
<line x1="649.11" y1="301.3" x2="649.11" y2="300.1" stroke="#000" stroke-width="1" />
<line x1="649.11" y1="231" x2="649.11" y2="232.2" stroke="#000" stroke-width="1" />
<line x1="654.96" y1="3.4" x2="654.96" y2="8.9" stroke="#000" stroke-width="1" />
<line x1="654.96" y1="231" x2="654.96" y2="225.5" stroke="#000" stroke-width="1" />
<line x1="654.96" y1="301.3" x2="654.96" y2="299.1" stroke="#000" stroke-width="1" />
<line x1="654.96" y1="231" x2="654.96" y2="233.2" stroke="#000" stroke-width="1" />
<line x1="660.81" y1="3.4" x2="660.81" y2="6.4" stroke="#000" stroke-width="1" />
<line x1="660.81" y1="231" x2="660.81" y2="228" stroke="#000" stroke-width="1" />
<line x1="660.81" y1="301.3" x2="660.81" y2="300.1" stroke="#000" stroke-width="1" />
<line x1="660.81" y1="231" x2="660.81" y2="232.2" stroke="#000" stroke-width="1" />
<line x1="666.65" y1="3.4" x2="666.65" y2="6.4" stroke="#000" stroke-width="1" />
<line x1="666.65" y1="231" x2="666.65" y2="228" stroke="#000" stroke-width="1" />
<line x1="666.65" y1="301.3" x2="666.65" y2="300.1" stroke="#000" stroke-width="1" />
<line x1="666.65" y1="231" x2="666.65" y2="232.2" stroke="#000" stroke-width="1" />
<line x1="672.5" y1="3.4" x2="672.5" y2="6.4" stroke="#000" stroke-width="1" />
<line x1="672.5" y1="231" x2="672.5" y2="228" stroke="#000" stroke-width="1" />
<line x1="672.5" y1="301.3" x2="672.5" y2="300.1" stroke="#000" stroke-width="1" />
<line x1="672.5" y1="231" x2="672.5" y2="232.2" stroke="#000" stroke-width="1" />
<line x1="678.35" y1="3.4" x2="678.35" y2="6.4" stroke="#000" stroke-width="1" />
<line x1="678.35" y1="231" x2="678.35" y2="228" stroke="#000" stroke-width="1" />
<line x1="678.35" y1="301.3" x2="678.35" y2="300.1" stroke="#000" stroke-width="1" />
<line x1="678.35" y1="231" x2="678.35" y2="232.2" stroke="#000" stroke-width="1" />
<line x1="415.5" y1="224.66" x2="420.5" y2="224.66" stroke="#000" stroke-width="1" />
<line x1="683.6" y1="224.66" x2="678.6" y2="224.66" stroke="#000" stroke-width="1" />
<line x1="415.5" y1="218.43" x2="420.5" y2="218.43" stroke="#000" stroke-width="1" />
<line x1="683.6" y1="218.43" x2="678.6" y2="218.43" stroke="#000" stroke-width="1" />
<line x1="415.5" y1="212.19" x2="420.5" y2="212.19" stroke="#000" stroke-width="1" />
<line x1="683.6" y1="212.19" x2="678.6" y2="212.19" stroke="#000" stroke-width="1" />
<line x1="415.5" y1="205.96" x2="425.5" y2="205.96" stroke="#000" stroke-width="1" />
<line x1="683.6" y1="205.96" x2="673.6" y2="205.96" stroke="#000" stroke-width="1" />
<line x1="415.5" y1="199.72" x2="420.5" y2="199.72" stroke="#000" stroke-width="1" />
<line x1="683.6" y1="199.72" x2="678.6" y2="199.72" stroke="#000" stroke-width="1" />
<line x1="415.5" y1="193.49" x2="420.5" y2="193.49" stroke="#000" stroke-width="1" />
<line x1="683.6" y1="193.49" x2="678.6" y2="193.49" stroke="#000" stroke-width="1" />
<line x1="415.5" y1="187.25" x2="420.5" y2="187.25" stroke="#000" stroke-width="1" />
<line x1="683.6" y1="187.25" x2="678.6" y2="187.25" stroke="#000" stroke-width="1" />
<line x1="415.5" y1="181.02" x2="425.5" y2="181.02" stroke="#000" stroke-width="1" />
<line x1="683.6" y1="181.02" x2="673.6" y2="181.02" stroke="#000" stroke-width="1" />
<line x1="415.5" y1="174.78" x2="420.5" y2="174.78" stroke="#000" stroke-width="1" />
<line x1="683.6" y1="174.78" x2="678.6" y2="174.78" stroke="#000" stroke-width="1" />
<line x1="415.5" y1="168.55" x2="420.5" y2="168.55" stroke="#000" stroke-width="1" />
<line x1="683.6" y1="168.55" x2="678.6" y2="168.55" stroke="#000" stroke-width="1" />
<line x1="415.5" y1="162.31" x2="420.5" y2="162.31" stroke="#000" stroke-width="1" />
<line x1="683.6" y1="162.31" x2="678.6" y2="162.31" stroke="#000" stroke-width="1" />
<line x1="415.5" y1="156.08" x2="425.5" y2="156.08" stroke="#000" stroke-width="1" />
<line x1="683.6" y1="156.08" x2="673.6" y2="156.08" stroke="#000" stroke-width="1" />
<line x1="415.5" y1="149.84" x2="420.5" y2="149.84" stroke="#000" stroke-width="1" />
<line x1="683.6" y1="149.84" x2="678.6" y2="149.84" stroke="#000" stroke-width="1" />
<line x1="415.5" y1="143.61" x2="420.5" y2="143.61" stroke="#000" stroke-width="1" />
<line x1="683.6" y1="143.61" x2="678.6" y2="143.61" stroke="#000" stroke-width="1" />
<line x1="415.5" y1="137.38" x2="420.5" y2="137.38" stroke="#000" stroke-width="1" />
<line x1="683.6" y1="137.38" x2="678.6" y2="137.38" stroke="#000" stroke-width="1" />
<line x1="415.5" y1="131.14" x2="425.5" y2="131.14" stroke="#000" stroke-width="1" />
<line x1="683.6" y1="131.14" x2="673.6" y2="131.14" stroke="#000" stroke-width="1" />
<line x1="415.5" y1="124.9" x2="420.5" y2="124.9" stroke="#000" stroke-width="1" />
<line x1="683.6" y1="124.9" x2="678.6" y2="124.9" stroke="#000" stroke-width="1" />
<line x1="415.5" y1="118.67" x2="420.5" y2="118.67" stroke="#000" stroke-width="1" />
<line x1="683.6" y1="118.67" x2="678.6" y2="118.67" stroke="#000" stroke-width="1" />
<line x1="415.5" y1="112.43" x2="420.5" y2="112.43" stroke="#000" stroke-width="1" />
<line x1="683.6" y1="112.43" x2="678.6" y2="112.43" stroke="#000" stroke-width="1" />
<line x1="415.5" y1="106.2" x2="425.5" y2="106.2" stroke="#000" stroke-width="1" />
<line x1="683.6" y1="106.2" x2="673.6" y2="106.2" stroke="#000" stroke-width="1" />
<line x1="415.5" y1="99.97" x2="420.5" y2="99.97" stroke="#000" stroke-width="1" />
<line x1="683.6" y1="99.97" x2="678.6" y2="99.97" stroke="#000" stroke-width="1" />
<line x1="415.5" y1="93.73" x2="420.5" y2="93.73" stroke="#000" stroke-width="1" />
<line x1="683.6" y1="93.73" x2="678.6" y2="93.73" stroke="#000" stroke-width="1" />
<line x1="415.5" y1="87.49" x2="420.5" y2="87.49" stroke="#000" stroke-width="1" />
<line x1="683.6" y1="87.49" x2="678.6" y2="87.49" stroke="#000" stroke-width="1" />
<line x1="415.5" y1="81.26" x2="425.5" y2="81.26" stroke="#000" stroke-width="1" />
<line x1="683.6" y1="81.26" x2="673.6" y2="81.26" stroke="#000" stroke-width="1" />
<line x1="415.5" y1="75.03" x2="420.5" y2="75.03" stroke="#000" stroke-width="1" />
<line x1="683.6" y1="75.03" x2="678.6" y2="75.03" stroke="#000" stroke-width="1" />
<line x1="415.5" y1="68.79" x2="420.5" y2="68.79" stroke="#000" stroke-width="1" />
<line x1="683.6" y1="68.79" x2="678.6" y2="68.79" stroke="#000" stroke-width="1" />
<line x1="415.5" y1="62.55" x2="420.5" y2="62.55" stroke="#000" stroke-width="1" />
<line x1="683.6" y1="62.55" x2="678.6" y2="62.55" stroke="#000" stroke-width="1" />
<line x1="415.5" y1="56.32" x2="425.5" y2="56.32" stroke="#000" stroke-width="1" />
<line x1="683.6" y1="56.32" x2="673.6" y2="56.32" stroke="#000" stroke-width="1" />
<line x1="415.5" y1="50.08" x2="420.5" y2="50.08" stroke="#000" stroke-width="1" />
<line x1="683.6" y1="50.08" x2="678.6" y2="50.08" stroke="#000" stroke-width="1" />
<line x1="415.5" y1="43.85" x2="420.5" y2="43.85" stroke="#000" stroke-width="1" />
<line x1="683.6" y1="43.85" x2="678.6" y2="43.85" stroke="#000" stroke-width="1" />
<line x1="415.5" y1="37.62" x2="420.5" y2="37.62" stroke="#000" stroke-width="1" />
<line x1="683.6" y1="37.62" x2="678.6" y2="37.62" stroke="#000" stroke-width="1" />
<line x1="415.5" y1="31.38" x2="425.5" y2="31.38" stroke="#000" stroke-width="1" />
<line x1="683.6" y1="31.38" x2="673.6" y2="31.38" stroke="#000" stroke-width="1" />
<line x1="415.5" y1="25.14" x2="420.5" y2="25.14" stroke="#000" stroke-width="1" />
<line x1="683.6" y1="25.14" x2="678.6" y2="25.14" stroke="#000" stroke-width="1" />
<line x1="415.5" y1="18.91" x2="420.5" y2="18.91" stroke="#000" stroke-width="1" />
<line x1="683.6" y1="18.91" x2="678.6" y2="18.91" stroke="#000" stroke-width="1" />
<line x1="415.5" y1="12.68" x2="420.5" y2="12.68" stroke="#000" stroke-width="1" />
<line x1="683.6" y1="12.68" x2="678.6" y2="12.68" stroke="#000" stroke-width="1" />
<line x1="415.5" y1="6.44" x2="425.5" y2="6.44" stroke="#000" stroke-width="1" />
<line x1="683.6" y1="6.44" x2="673.6" y2="6.44" stroke="#000" stroke-width="1" />
<line x1="415.5" y1="299.7" x2="419" y2="299.7" stroke="#000" stroke-width="1" />
<line x1="683.6" y1="299.7" x2="680.1" y2="299.7" stroke="#000" stroke-width="1" />
<line x1="415.5" y1="295.65" x2="419" y2="295.65" stroke="#000" stroke-width="1" />
<line x1="683.6" y1="295.65" x2="680.1" y2="295.65" stroke="#000" stroke-width="1" />
<line x1="415.5" y1="291.6" x2="419" y2="291.6" stroke="#000" stroke-width="1" />
<line x1="683.6" y1="291.6" x2="680.1" y2="291.6" stroke="#000" stroke-width="1" />
<line x1="415.5" y1="287.55" x2="422.5" y2="287.55" stroke="#000" stroke-width="1" />
<line x1="683.6" y1="287.55" x2="676.6" y2="287.55" stroke="#000" stroke-width="1" />
<line x1="415.5" y1="283.5" x2="419" y2="283.5" stroke="#000" stroke-width="1" />
<line x1="683.6" y1="283.5" x2="680.1" y2="283.5" stroke="#000" stroke-width="1" />
<line x1="415.5" y1="279.45" x2="419" y2="279.45" stroke="#000" stroke-width="1" />
<line x1="683.6" y1="279.45" x2="680.1" y2="279.45" stroke="#000" stroke-width="1" />
<line x1="415.5" y1="275.4" x2="419" y2="275.4" stroke="#000" stroke-width="1" />
<line x1="683.6" y1="275.4" x2="680.1" y2="275.4" stroke="#000" stroke-width="1" />
<line x1="415.5" y1="271.35" x2="419" y2="271.35" stroke="#000" stroke-width="1" />
<line x1="683.6" y1="271.35" x2="680.1" y2="271.35" stroke="#000" stroke-width="1" />
<line x1="415.5" y1="267.3" x2="422.5" y2="267.3" stroke="#000" stroke-width="1" />
<line x1="683.6" y1="267.3" x2="676.6" y2="267.3" stroke="#000" stroke-width="1" />
<line x1="415.5" y1="263.25" x2="419" y2="263.25" stroke="#000" stroke-width="1" />
<line x1="683.6" y1="263.25" x2="680.1" y2="263.25" stroke="#000" stroke-width="1" />
<line x1="415.5" y1="259.2" x2="419" y2="259.2" stroke="#000" stroke-width="1" />
<line x1="683.6" y1="259.2" x2="680.1" y2="259.2" stroke="#000" stroke-width="1" />
<line x1="415.5" y1="255.15" x2="419" y2="255.15" stroke="#000" stroke-width="1" />
<line x1="683.6" y1="255.15" x2="680.1" y2="255.15" stroke="#000" stroke-width="1" />
<line x1="415.5" y1="251.1" x2="419" y2="251.1" stroke="#000" stroke-width="1" />
<line x1="683.6" y1="251.1" x2="680.1" y2="251.1" stroke="#000" stroke-width="1" />
<line x1="415.5" y1="247.05" x2="422.5" y2="247.05" stroke="#000" stroke-width="1" />
<line x1="683.6" y1="247.05" x2="676.6" y2="247.05" stroke="#000" stroke-width="1" />
<line x1="415.5" y1="243" x2="419" y2="243" stroke="#000" stroke-width="1" />
<line x1="683.6" y1="243" x2="680.1" y2="243" stroke="#000" stroke-width="1" />
<line x1="415.5" y1="238.95" x2="419" y2="238.95" stroke="#000" stroke-width="1" />
<line x1="683.6" y1="238.95" x2="680.1" y2="238.95" stroke="#000" stroke-width="1" />
<line x1="415.5" y1="234.9" x2="419" y2="234.9" stroke="#000" stroke-width="1" />
<line x1="683.6" y1="234.9" x2="680.1" y2="234.9" stroke="#000" stroke-width="1" />
<text x="421.08" y="312" font-size="11.3" text-anchor="middle" >0</text>
<text x="450.31" y="312" font-size="11.3" text-anchor="middle" >0.5</text>
<text x="479.55" y="312" font-size="11.3" text-anchor="middle" >1</text>
<text x="508.78" y="312" font-size="11.3" text-anchor="middle" >1.5</text>
<text x="538.02" y="312" font-size="11.3" text-anchor="middle" >2</text>
<text x="567.25" y="312" font-size="11.3" text-anchor="middle" >2.5</text>
<text x="596.49" y="312" font-size="11.3" text-anchor="middle" >3</text>
<text x="625.72" y="312" font-size="11.3" text-anchor="middle" >3.5</text>
<text x="654.96" y="312" font-size="11.3" text-anchor="middle" >4</text>
<text x="413.5" y="209.96" font-size="11.3" text-anchor="end" >0.2</text>
<text x="413.5" y="185.02" font-size="11.3" text-anchor="end" >0.4</text>
<text x="413.5" y="160.08" font-size="11.3" text-anchor="end" >0.6</text>
<text x="413.5" y="135.14" font-size="11.3" text-anchor="end" >0.8</text>
<text x="413.5" y="110.2" font-size="11.3" text-anchor="end" >1</text>
<text x="413.5" y="85.26" font-size="11.3" text-anchor="end" >1.2</text>
<text x="413.5" y="60.32" font-size="11.3" text-anchor="end" >1.4</text>
<text x="413.5" y="35.38" font-size="11.3" text-anchor="end" >1.6</text>
<text x="413.5" y="10.44" font-size="11.3" text-anchor="end" >1.8</text>
<text x="413.5" y="291.55" font-size="11.3" text-anchor="end" >0.5</text>
<text x="413.5" y="271.3" font-size="11.3" text-anchor="end" >1</text>
<text x="413.5" y="251.05" font-size="11.3" text-anchor="end" >1.5</text>
<text x="432.2" y="21.5" font-size="11.8" font-weight="bold" font-style="italic" textLength="40.2" lengthAdjust="spacingAndGlyphs">ATLAS</text>
<path d="M433.2,34.4 L434.1,33.8 L435.2,38.8 L435.9,29 H443.6" fill="none" stroke="#000" stroke-width="0.9"/>
<text x="437.5" y="38.6" font-size="11.6" textLength="86.6" lengthAdjust="spacingAndGlyphs">s=13 TeV, 3.2 fb</text>
<text x="524.5" y="34" font-size="8.2">-1</text>
<text x="432.6" y="56.9" font-size="11.6">10 GeV&lt;p</text>
<text x="486.2" y="51.7" font-size="8.2">Z</text>
<text x="486.2" y="63.1" font-size="8.2">T</text>
<text x="491.2" y="56.9" font-size="11.6">&lt;20 GeV</text>
<text x="432.6" y="70.4" font-size="11.6">trans-min region</text>
<rect x="556.3" y="12.5" width="18.9" height="12.3" fill="#6acb9a" />
<text x="579.2" y="19.3" font-size="11.6">syst.</text>
<circle cx="610.8" cy="15.25" r="3.95" fill="none" stroke="#000" stroke-width="0.75"/>
<path d="M606.85,15.25H614.75M610.8,11.3V19.2" stroke="#000" stroke-width="0.75"/>
<text x="618.4" y="19.3" font-size="11.6">stat. error</text>
<line x1="565.75" y1="30.2" x2="565.75" y2="39.5" stroke="#000" stroke-width="1.2" />
<circle cx="565.75" cy="34.9" r="3.2" fill="#000"/>
<text x="579.2" y="35.9" font-size="11.6">Data 2015</text>
<line x1="556.3" y1="51" x2="575.2" y2="51" stroke="#a82252" stroke-width="1.4" />
<text x="579.2" y="52.2" font-size="11.6">PowhegPythia8</text>
<line x1="556.3" y1="67.2" x2="575.2" y2="67.2" stroke="#0000ff" stroke-width="1.3" stroke-dasharray="2,1.8"/>
<text x="579.2" y="68.6" font-size="11.6">Sherpa</text>
<line x1="556.3" y1="83.4" x2="575.2" y2="83.4" stroke="#dc7d26" stroke-width="1.2" stroke-dasharray="2.2,2.1,1,2.1"/>
<text x="579.2" y="84.9" font-size="11.6">Herwig++</text>
<text transform="translate(377.2,265.6) rotate(-90)" font-size="11.6" text-anchor="middle">Ratio</text>
<g clip-path="url(#p3m)">
<rect x="60" y="485.44" width="12.4" height="10.24" fill="#6acb9a" />
<rect x="72.4" y="518.32" width="16.55" height="5.83" fill="#6acb9a" />
<rect x="88.95" y="534.6" width="16.55" height="4.35" fill="#6acb9a" />
<rect x="105.5" y="551.28" width="16.55" height="2.83" fill="#6acb9a" />
<rect x="122.05" y="562.1" width="16.55" height="1.91" fill="#6acb9a" />
<rect x="138.6" y="569.34" width="16.55" height="1.3" fill="#6acb9a" />
<rect x="155.15" y="574.36" width="16.55" height="0.84" fill="#6acb9a" />
<rect x="171.7" y="576.9" width="16.55" height="0.63" fill="#6acb9a" />
<rect x="188.25" y="578.13" width="16.55" height="0.53" fill="#6acb9a" />
<rect x="204.8" y="579.11" width="16.55" height="0.51" fill="#6acb9a" />
<rect x="221.35" y="580.41" width="40.75" height="0.26" fill="#6acb9a" />
<rect x="262.1" y="580.75" width="33.2" height="0.37" fill="#6acb9a" />
<rect x="295.3" y="580.84" width="33.1" height="0.38" fill="#6acb9a" />
<line x1="60" y1="490.56" x2="72.4" y2="490.56" stroke="#000" stroke-width="1.1" />
<circle cx="66.2" cy="490.56" r="2.9" fill="#000"/>
<line x1="72.4" y1="521.24" x2="88.95" y2="521.24" stroke="#000" stroke-width="1.1" />
<circle cx="80.68" cy="521.24" r="2.9" fill="#000"/>
<line x1="88.95" y1="536.77" x2="105.5" y2="536.77" stroke="#000" stroke-width="1.1" />
<circle cx="97.22" cy="536.77" r="2.9" fill="#000"/>
<line x1="105.5" y1="552.7" x2="122.05" y2="552.7" stroke="#000" stroke-width="1.1" />
<circle cx="113.78" cy="552.7" r="2.9" fill="#000"/>
<line x1="122.05" y1="563.05" x2="138.6" y2="563.05" stroke="#000" stroke-width="1.1" />
<circle cx="130.33" cy="563.05" r="2.9" fill="#000"/>
<line x1="138.6" y1="569.99" x2="155.15" y2="569.99" stroke="#000" stroke-width="1.1" />
<circle cx="146.88" cy="569.99" r="2.9" fill="#000"/>
<line x1="155.15" y1="574.78" x2="171.7" y2="574.78" stroke="#000" stroke-width="1.1" />
<circle cx="163.43" cy="574.78" r="2.9" fill="#000"/>
<line x1="171.7" y1="577.22" x2="188.25" y2="577.22" stroke="#000" stroke-width="1.1" />
<circle cx="179.98" cy="577.22" r="2.9" fill="#000"/>
<line x1="188.25" y1="578.39" x2="204.8" y2="578.39" stroke="#000" stroke-width="1.1" />
<circle cx="196.53" cy="578.39" r="2.9" fill="#000"/>
<line x1="204.8" y1="579.37" x2="221.35" y2="579.37" stroke="#000" stroke-width="1.1" />
<circle cx="213.08" cy="579.37" r="2.9" fill="#000"/>
<line x1="221.35" y1="580.54" x2="262.1" y2="580.54" stroke="#000" stroke-width="1.1" />
<circle cx="241.73" cy="580.54" r="2.9" fill="#000"/>
<line x1="262.1" y1="580.93" x2="295.3" y2="580.93" stroke="#000" stroke-width="1.1" />
<circle cx="278.7" cy="580.93" r="2.9" fill="#000"/>
<line x1="295.3" y1="581.03" x2="328.4" y2="581.03" stroke="#000" stroke-width="1.1" />
<circle cx="311.85" cy="581.03" r="2.9" fill="#000"/>
<path d="M60,474.05H72.4V526.12H88.95V540.41H105.5V552.99H122.05V562.86H138.6V569.87H155.15V575.15H171.7V577.68H188.25V579.1H204.8V580.25H221.35V581.3H262.1V581.75H295.3V581.96H328.4" fill="none" stroke="#a82252" stroke-width="1.3"/>
<path d="M60,430.01H72.4V524.9H88.95V546.79H105.5V561.87H122.05V570.17H138.6V575.41H155.15V578.31H171.7V579.66H188.25V580.72H204.8V581.07H221.35V581.56H262.1V581.7H295.3V581.74H328.4" fill="none" stroke="#0000ff" stroke-width="1.3" stroke-dasharray="2,1.8"/>
<path d="M60,500.65H72.4V526.12H88.95V540.41H105.5V550.03H122.05V559.2H138.6V566.79H155.15V572.82H171.7V575.09H188.25V577.14H204.8V578.43H221.35V579.98H262.1V581.26H295.3V581.37H328.4" fill="none" stroke="#dc7d26" stroke-width="1.2" stroke-dasharray="2.2,2.1,1,2.1"/>
</g>
<g clip-path="url(#p3r)">
<rect x="60" y="614.78" width="12.4" height="7.24" fill="#6acb9a" />
<rect x="72.4" y="615.3" width="16.55" height="6.19" fill="#6acb9a" />
<rect x="88.95" y="615.3" width="16.55" height="6.19" fill="#6acb9a" />
<rect x="105.5" y="615.3" width="16.55" height="6.19" fill="#6acb9a" />
<rect x="122.05" y="615.18" width="16.55" height="6.43" fill="#6acb9a" />
<rect x="138.6" y="614.98" width="16.55" height="6.83" fill="#6acb9a" />
<rect x="155.15" y="614.78" width="16.55" height="7.24" fill="#6acb9a" />
<rect x="171.7" y="614.38" width="16.55" height="8.04" fill="#6acb9a" />
<rect x="188.25" y="613.98" width="16.55" height="8.84" fill="#6acb9a" />
<rect x="204.8" y="612.77" width="16.55" height="11.26" fill="#6acb9a" />
<rect x="221.35" y="613.58" width="40.75" height="9.65" fill="#6acb9a" />
<rect x="262.1" y="609.56" width="33.2" height="17.69" fill="#6acb9a" />
<rect x="295.3" y="608.75" width="33.1" height="19.3" fill="#6acb9a" />
<path d="M60,622.82H72.4V621.62H88.95V621.62H105.5V614.78H122.05V610.36H138.6V607.95H155.15V607.95H171.7V601.52H188.25V605.54H204.8V605.54H221.35V605.54H262.1V628.05H295.3V629.25H328.4" fill="none" stroke="#dc7d26" stroke-width="1.2" stroke-dasharray="2.2,2.1,1,2.1"/>
<path d="M60,591.87H72.4V620.81H88.95V627.24H105.5V630.86H122.05V633.27H138.6V636.09H155.15V637.29H171.7V637.7H188.25V642.32H204.8V641.72H221.35V641.72H262.1V640.91H295.3V640.91H328.4" fill="none" stroke="#0000ff" stroke-width="1.3" stroke-dasharray="2,1.8"/>
<path d="M60,611.16H72.4V621.62H88.95V621.62H105.5V618.8H122.05V618H138.6V618H155.15V620.41H171.7V622.02H188.25V625.64H204.8V630.46H221.35V635.69H262.1V642.52H295.3V647.75H328.4" fill="none" stroke="#a82252" stroke-width="1.3"/>
<line x1="60" y1="618.4" x2="328.5" y2="618.4" stroke="#000" stroke-width="1.3" />
<line x1="66.2" y1="618.24" x2="66.2" y2="618.56" stroke="#000" stroke-width="1.2" />
<line x1="80.68" y1="618.24" x2="80.68" y2="618.56" stroke="#000" stroke-width="1.2" />
<line x1="97.22" y1="618.24" x2="97.22" y2="618.56" stroke="#000" stroke-width="1.2" />
<line x1="113.78" y1="618.2" x2="113.78" y2="618.6" stroke="#000" stroke-width="1.2" />
<line x1="130.33" y1="618.16" x2="130.33" y2="618.64" stroke="#000" stroke-width="1.2" />
<line x1="146.88" y1="618.08" x2="146.88" y2="618.72" stroke="#000" stroke-width="1.2" />
<line x1="163.43" y1="618" x2="163.43" y2="618.8" stroke="#000" stroke-width="1.2" />
<line x1="179.98" y1="617.8" x2="179.98" y2="619" stroke="#000" stroke-width="1.2" />
<line x1="196.53" y1="617.6" x2="196.53" y2="619.2" stroke="#000" stroke-width="1.2" />
<line x1="213.08" y1="617.19" x2="213.08" y2="619.61" stroke="#000" stroke-width="1.2" />
<line x1="241.73" y1="615.59" x2="241.73" y2="621.21" stroke="#000" stroke-width="1.2" />
<line x1="278.7" y1="614.38" x2="278.7" y2="622.42" stroke="#000" stroke-width="1.2" />
<line x1="311.85" y1="613.98" x2="311.85" y2="622.82" stroke="#000" stroke-width="1.2" />
</g>
<rect x="60" y="355" width="268.5" height="297.4" fill="none" stroke="#000" stroke-width="1.0"/>
<line x1="60" y1="582.5" x2="328.5" y2="582.5" stroke="#000" stroke-width="1.0" />
<line x1="60" y1="355" x2="60" y2="360.5" stroke="#000" stroke-width="1" />
<line x1="60" y1="582.5" x2="60" y2="577" stroke="#000" stroke-width="1" />
<line x1="60" y1="652.4" x2="60" y2="650.2" stroke="#000" stroke-width="1" />
<line x1="60" y1="582.5" x2="60" y2="584.7" stroke="#000" stroke-width="1" />
<line x1="68.64" y1="355" x2="68.64" y2="358" stroke="#000" stroke-width="1" />
<line x1="68.64" y1="582.5" x2="68.64" y2="579.5" stroke="#000" stroke-width="1" />
<line x1="68.64" y1="652.4" x2="68.64" y2="651.2" stroke="#000" stroke-width="1" />
<line x1="68.64" y1="582.5" x2="68.64" y2="583.7" stroke="#000" stroke-width="1" />
<line x1="77.29" y1="355" x2="77.29" y2="358" stroke="#000" stroke-width="1" />
<line x1="77.29" y1="582.5" x2="77.29" y2="579.5" stroke="#000" stroke-width="1" />
<line x1="77.29" y1="652.4" x2="77.29" y2="651.2" stroke="#000" stroke-width="1" />
<line x1="77.29" y1="582.5" x2="77.29" y2="583.7" stroke="#000" stroke-width="1" />
<line x1="85.93" y1="355" x2="85.93" y2="358" stroke="#000" stroke-width="1" />
<line x1="85.93" y1="582.5" x2="85.93" y2="579.5" stroke="#000" stroke-width="1" />
<line x1="85.93" y1="652.4" x2="85.93" y2="651.2" stroke="#000" stroke-width="1" />
<line x1="85.93" y1="582.5" x2="85.93" y2="583.7" stroke="#000" stroke-width="1" />
<line x1="94.58" y1="355" x2="94.58" y2="358" stroke="#000" stroke-width="1" />
<line x1="94.58" y1="582.5" x2="94.58" y2="579.5" stroke="#000" stroke-width="1" />
<line x1="94.58" y1="652.4" x2="94.58" y2="651.2" stroke="#000" stroke-width="1" />
<line x1="94.58" y1="582.5" x2="94.58" y2="583.7" stroke="#000" stroke-width="1" />
<line x1="103.22" y1="355" x2="103.22" y2="360.5" stroke="#000" stroke-width="1" />
<line x1="103.22" y1="582.5" x2="103.22" y2="577" stroke="#000" stroke-width="1" />
<line x1="103.22" y1="652.4" x2="103.22" y2="650.2" stroke="#000" stroke-width="1" />
<line x1="103.22" y1="582.5" x2="103.22" y2="584.7" stroke="#000" stroke-width="1" />
<line x1="111.86" y1="355" x2="111.86" y2="358" stroke="#000" stroke-width="1" />
<line x1="111.86" y1="582.5" x2="111.86" y2="579.5" stroke="#000" stroke-width="1" />
<line x1="111.86" y1="652.4" x2="111.86" y2="651.2" stroke="#000" stroke-width="1" />
<line x1="111.86" y1="582.5" x2="111.86" y2="583.7" stroke="#000" stroke-width="1" />
<line x1="120.51" y1="355" x2="120.51" y2="358" stroke="#000" stroke-width="1" />
<line x1="120.51" y1="582.5" x2="120.51" y2="579.5" stroke="#000" stroke-width="1" />
<line x1="120.51" y1="652.4" x2="120.51" y2="651.2" stroke="#000" stroke-width="1" />
<line x1="120.51" y1="582.5" x2="120.51" y2="583.7" stroke="#000" stroke-width="1" />
<line x1="129.15" y1="355" x2="129.15" y2="358" stroke="#000" stroke-width="1" />
<line x1="129.15" y1="582.5" x2="129.15" y2="579.5" stroke="#000" stroke-width="1" />
<line x1="129.15" y1="652.4" x2="129.15" y2="651.2" stroke="#000" stroke-width="1" />
<line x1="129.15" y1="582.5" x2="129.15" y2="583.7" stroke="#000" stroke-width="1" />
<line x1="137.8" y1="355" x2="137.8" y2="358" stroke="#000" stroke-width="1" />
<line x1="137.8" y1="582.5" x2="137.8" y2="579.5" stroke="#000" stroke-width="1" />
<line x1="137.8" y1="652.4" x2="137.8" y2="651.2" stroke="#000" stroke-width="1" />
<line x1="137.8" y1="582.5" x2="137.8" y2="583.7" stroke="#000" stroke-width="1" />
<line x1="146.44" y1="355" x2="146.44" y2="360.5" stroke="#000" stroke-width="1" />
<line x1="146.44" y1="582.5" x2="146.44" y2="577" stroke="#000" stroke-width="1" />
<line x1="146.44" y1="652.4" x2="146.44" y2="650.2" stroke="#000" stroke-width="1" />
<line x1="146.44" y1="582.5" x2="146.44" y2="584.7" stroke="#000" stroke-width="1" />
<line x1="155.08" y1="355" x2="155.08" y2="358" stroke="#000" stroke-width="1" />
<line x1="155.08" y1="582.5" x2="155.08" y2="579.5" stroke="#000" stroke-width="1" />
<line x1="155.08" y1="652.4" x2="155.08" y2="651.2" stroke="#000" stroke-width="1" />
<line x1="155.08" y1="582.5" x2="155.08" y2="583.7" stroke="#000" stroke-width="1" />
<line x1="163.73" y1="355" x2="163.73" y2="358" stroke="#000" stroke-width="1" />
<line x1="163.73" y1="582.5" x2="163.73" y2="579.5" stroke="#000" stroke-width="1" />
<line x1="163.73" y1="652.4" x2="163.73" y2="651.2" stroke="#000" stroke-width="1" />
<line x1="163.73" y1="582.5" x2="163.73" y2="583.7" stroke="#000" stroke-width="1" />
<line x1="172.37" y1="355" x2="172.37" y2="358" stroke="#000" stroke-width="1" />
<line x1="172.37" y1="582.5" x2="172.37" y2="579.5" stroke="#000" stroke-width="1" />
<line x1="172.37" y1="652.4" x2="172.37" y2="651.2" stroke="#000" stroke-width="1" />
<line x1="172.37" y1="582.5" x2="172.37" y2="583.7" stroke="#000" stroke-width="1" />
<line x1="181.02" y1="355" x2="181.02" y2="358" stroke="#000" stroke-width="1" />
<line x1="181.02" y1="582.5" x2="181.02" y2="579.5" stroke="#000" stroke-width="1" />
<line x1="181.02" y1="652.4" x2="181.02" y2="651.2" stroke="#000" stroke-width="1" />
<line x1="181.02" y1="582.5" x2="181.02" y2="583.7" stroke="#000" stroke-width="1" />
<line x1="189.66" y1="355" x2="189.66" y2="360.5" stroke="#000" stroke-width="1" />
<line x1="189.66" y1="582.5" x2="189.66" y2="577" stroke="#000" stroke-width="1" />
<line x1="189.66" y1="652.4" x2="189.66" y2="650.2" stroke="#000" stroke-width="1" />
<line x1="189.66" y1="582.5" x2="189.66" y2="584.7" stroke="#000" stroke-width="1" />
<line x1="198.3" y1="355" x2="198.3" y2="358" stroke="#000" stroke-width="1" />
<line x1="198.3" y1="582.5" x2="198.3" y2="579.5" stroke="#000" stroke-width="1" />
<line x1="198.3" y1="652.4" x2="198.3" y2="651.2" stroke="#000" stroke-width="1" />
<line x1="198.3" y1="582.5" x2="198.3" y2="583.7" stroke="#000" stroke-width="1" />
<line x1="206.95" y1="355" x2="206.95" y2="358" stroke="#000" stroke-width="1" />
<line x1="206.95" y1="582.5" x2="206.95" y2="579.5" stroke="#000" stroke-width="1" />
<line x1="206.95" y1="652.4" x2="206.95" y2="651.2" stroke="#000" stroke-width="1" />
<line x1="206.95" y1="582.5" x2="206.95" y2="583.7" stroke="#000" stroke-width="1" />
<line x1="215.59" y1="355" x2="215.59" y2="358" stroke="#000" stroke-width="1" />
<line x1="215.59" y1="582.5" x2="215.59" y2="579.5" stroke="#000" stroke-width="1" />
<line x1="215.59" y1="652.4" x2="215.59" y2="651.2" stroke="#000" stroke-width="1" />
<line x1="215.59" y1="582.5" x2="215.59" y2="583.7" stroke="#000" stroke-width="1" />
<line x1="224.24" y1="355" x2="224.24" y2="358" stroke="#000" stroke-width="1" />
<line x1="224.24" y1="582.5" x2="224.24" y2="579.5" stroke="#000" stroke-width="1" />
<line x1="224.24" y1="652.4" x2="224.24" y2="651.2" stroke="#000" stroke-width="1" />
<line x1="224.24" y1="582.5" x2="224.24" y2="583.7" stroke="#000" stroke-width="1" />
<line x1="232.88" y1="355" x2="232.88" y2="360.5" stroke="#000" stroke-width="1" />
<line x1="232.88" y1="582.5" x2="232.88" y2="577" stroke="#000" stroke-width="1" />
<line x1="232.88" y1="652.4" x2="232.88" y2="650.2" stroke="#000" stroke-width="1" />
<line x1="232.88" y1="582.5" x2="232.88" y2="584.7" stroke="#000" stroke-width="1" />
<line x1="241.52" y1="355" x2="241.52" y2="358" stroke="#000" stroke-width="1" />
<line x1="241.52" y1="582.5" x2="241.52" y2="579.5" stroke="#000" stroke-width="1" />
<line x1="241.52" y1="652.4" x2="241.52" y2="651.2" stroke="#000" stroke-width="1" />
<line x1="241.52" y1="582.5" x2="241.52" y2="583.7" stroke="#000" stroke-width="1" />
<line x1="250.17" y1="355" x2="250.17" y2="358" stroke="#000" stroke-width="1" />
<line x1="250.17" y1="582.5" x2="250.17" y2="579.5" stroke="#000" stroke-width="1" />
<line x1="250.17" y1="652.4" x2="250.17" y2="651.2" stroke="#000" stroke-width="1" />
<line x1="250.17" y1="582.5" x2="250.17" y2="583.7" stroke="#000" stroke-width="1" />
<line x1="258.81" y1="355" x2="258.81" y2="358" stroke="#000" stroke-width="1" />
<line x1="258.81" y1="582.5" x2="258.81" y2="579.5" stroke="#000" stroke-width="1" />
<line x1="258.81" y1="652.4" x2="258.81" y2="651.2" stroke="#000" stroke-width="1" />
<line x1="258.81" y1="582.5" x2="258.81" y2="583.7" stroke="#000" stroke-width="1" />
<line x1="267.46" y1="355" x2="267.46" y2="358" stroke="#000" stroke-width="1" />
<line x1="267.46" y1="582.5" x2="267.46" y2="579.5" stroke="#000" stroke-width="1" />
<line x1="267.46" y1="652.4" x2="267.46" y2="651.2" stroke="#000" stroke-width="1" />
<line x1="267.46" y1="582.5" x2="267.46" y2="583.7" stroke="#000" stroke-width="1" />
<line x1="276.1" y1="355" x2="276.1" y2="360.5" stroke="#000" stroke-width="1" />
<line x1="276.1" y1="582.5" x2="276.1" y2="577" stroke="#000" stroke-width="1" />
<line x1="276.1" y1="652.4" x2="276.1" y2="650.2" stroke="#000" stroke-width="1" />
<line x1="276.1" y1="582.5" x2="276.1" y2="584.7" stroke="#000" stroke-width="1" />
<line x1="284.74" y1="355" x2="284.74" y2="358" stroke="#000" stroke-width="1" />
<line x1="284.74" y1="582.5" x2="284.74" y2="579.5" stroke="#000" stroke-width="1" />
<line x1="284.74" y1="652.4" x2="284.74" y2="651.2" stroke="#000" stroke-width="1" />
<line x1="284.74" y1="582.5" x2="284.74" y2="583.7" stroke="#000" stroke-width="1" />
<line x1="293.39" y1="355" x2="293.39" y2="358" stroke="#000" stroke-width="1" />
<line x1="293.39" y1="582.5" x2="293.39" y2="579.5" stroke="#000" stroke-width="1" />
<line x1="293.39" y1="652.4" x2="293.39" y2="651.2" stroke="#000" stroke-width="1" />
<line x1="293.39" y1="582.5" x2="293.39" y2="583.7" stroke="#000" stroke-width="1" />
<line x1="302.03" y1="355" x2="302.03" y2="358" stroke="#000" stroke-width="1" />
<line x1="302.03" y1="582.5" x2="302.03" y2="579.5" stroke="#000" stroke-width="1" />
<line x1="302.03" y1="652.4" x2="302.03" y2="651.2" stroke="#000" stroke-width="1" />
<line x1="302.03" y1="582.5" x2="302.03" y2="583.7" stroke="#000" stroke-width="1" />
<line x1="310.68" y1="355" x2="310.68" y2="358" stroke="#000" stroke-width="1" />
<line x1="310.68" y1="582.5" x2="310.68" y2="579.5" stroke="#000" stroke-width="1" />
<line x1="310.68" y1="652.4" x2="310.68" y2="651.2" stroke="#000" stroke-width="1" />
<line x1="310.68" y1="582.5" x2="310.68" y2="583.7" stroke="#000" stroke-width="1" />
<line x1="319.32" y1="355" x2="319.32" y2="360.5" stroke="#000" stroke-width="1" />
<line x1="319.32" y1="582.5" x2="319.32" y2="577" stroke="#000" stroke-width="1" />
<line x1="319.32" y1="652.4" x2="319.32" y2="650.2" stroke="#000" stroke-width="1" />
<line x1="319.32" y1="582.5" x2="319.32" y2="584.7" stroke="#000" stroke-width="1" />
<line x1="327.96" y1="355" x2="327.96" y2="358" stroke="#000" stroke-width="1" />
<line x1="327.96" y1="582.5" x2="327.96" y2="579.5" stroke="#000" stroke-width="1" />
<line x1="327.96" y1="652.4" x2="327.96" y2="651.2" stroke="#000" stroke-width="1" />
<line x1="327.96" y1="582.5" x2="327.96" y2="583.7" stroke="#000" stroke-width="1" />
<line x1="60" y1="577.41" x2="65" y2="577.41" stroke="#000" stroke-width="1" />
<line x1="328.5" y1="577.41" x2="323.5" y2="577.41" stroke="#000" stroke-width="1" />
<line x1="60" y1="572.53" x2="65" y2="572.53" stroke="#000" stroke-width="1" />
<line x1="328.5" y1="572.53" x2="323.5" y2="572.53" stroke="#000" stroke-width="1" />
<line x1="60" y1="567.64" x2="65" y2="567.64" stroke="#000" stroke-width="1" />
<line x1="328.5" y1="567.64" x2="323.5" y2="567.64" stroke="#000" stroke-width="1" />
<line x1="60" y1="562.76" x2="70" y2="562.76" stroke="#000" stroke-width="1" />
<line x1="328.5" y1="562.76" x2="318.5" y2="562.76" stroke="#000" stroke-width="1" />
<line x1="60" y1="557.88" x2="65" y2="557.88" stroke="#000" stroke-width="1" />
<line x1="328.5" y1="557.88" x2="323.5" y2="557.88" stroke="#000" stroke-width="1" />
<line x1="60" y1="552.99" x2="65" y2="552.99" stroke="#000" stroke-width="1" />
<line x1="328.5" y1="552.99" x2="323.5" y2="552.99" stroke="#000" stroke-width="1" />
<line x1="60" y1="548.1" x2="65" y2="548.1" stroke="#000" stroke-width="1" />
<line x1="328.5" y1="548.1" x2="323.5" y2="548.1" stroke="#000" stroke-width="1" />
<line x1="60" y1="543.22" x2="70" y2="543.22" stroke="#000" stroke-width="1" />
<line x1="328.5" y1="543.22" x2="318.5" y2="543.22" stroke="#000" stroke-width="1" />
<line x1="60" y1="538.33" x2="65" y2="538.33" stroke="#000" stroke-width="1" />
<line x1="328.5" y1="538.33" x2="323.5" y2="538.33" stroke="#000" stroke-width="1" />
<line x1="60" y1="533.45" x2="65" y2="533.45" stroke="#000" stroke-width="1" />
<line x1="328.5" y1="533.45" x2="323.5" y2="533.45" stroke="#000" stroke-width="1" />
<line x1="60" y1="528.56" x2="65" y2="528.56" stroke="#000" stroke-width="1" />
<line x1="328.5" y1="528.56" x2="323.5" y2="528.56" stroke="#000" stroke-width="1" />
<line x1="60" y1="523.68" x2="70" y2="523.68" stroke="#000" stroke-width="1" />
<line x1="328.5" y1="523.68" x2="318.5" y2="523.68" stroke="#000" stroke-width="1" />
<line x1="60" y1="518.79" x2="65" y2="518.79" stroke="#000" stroke-width="1" />
<line x1="328.5" y1="518.79" x2="323.5" y2="518.79" stroke="#000" stroke-width="1" />
<line x1="60" y1="513.91" x2="65" y2="513.91" stroke="#000" stroke-width="1" />
<line x1="328.5" y1="513.91" x2="323.5" y2="513.91" stroke="#000" stroke-width="1" />
<line x1="60" y1="509.02" x2="65" y2="509.02" stroke="#000" stroke-width="1" />
<line x1="328.5" y1="509.02" x2="323.5" y2="509.02" stroke="#000" stroke-width="1" />
<line x1="60" y1="504.14" x2="70" y2="504.14" stroke="#000" stroke-width="1" />
<line x1="328.5" y1="504.14" x2="318.5" y2="504.14" stroke="#000" stroke-width="1" />
<line x1="60" y1="499.25" x2="65" y2="499.25" stroke="#000" stroke-width="1" />
<line x1="328.5" y1="499.25" x2="323.5" y2="499.25" stroke="#000" stroke-width="1" />
<line x1="60" y1="494.37" x2="65" y2="494.37" stroke="#000" stroke-width="1" />
<line x1="328.5" y1="494.37" x2="323.5" y2="494.37" stroke="#000" stroke-width="1" />
<line x1="60" y1="489.48" x2="65" y2="489.48" stroke="#000" stroke-width="1" />
<line x1="328.5" y1="489.48" x2="323.5" y2="489.48" stroke="#000" stroke-width="1" />
<line x1="60" y1="484.6" x2="70" y2="484.6" stroke="#000" stroke-width="1" />
<line x1="328.5" y1="484.6" x2="318.5" y2="484.6" stroke="#000" stroke-width="1" />
<line x1="60" y1="479.71" x2="65" y2="479.71" stroke="#000" stroke-width="1" />
<line x1="328.5" y1="479.71" x2="323.5" y2="479.71" stroke="#000" stroke-width="1" />
<line x1="60" y1="474.83" x2="65" y2="474.83" stroke="#000" stroke-width="1" />
<line x1="328.5" y1="474.83" x2="323.5" y2="474.83" stroke="#000" stroke-width="1" />
<line x1="60" y1="469.94" x2="65" y2="469.94" stroke="#000" stroke-width="1" />
<line x1="328.5" y1="469.94" x2="323.5" y2="469.94" stroke="#000" stroke-width="1" />
<line x1="60" y1="465.06" x2="70" y2="465.06" stroke="#000" stroke-width="1" />
<line x1="328.5" y1="465.06" x2="318.5" y2="465.06" stroke="#000" stroke-width="1" />
<line x1="60" y1="460.17" x2="65" y2="460.17" stroke="#000" stroke-width="1" />
<line x1="328.5" y1="460.17" x2="323.5" y2="460.17" stroke="#000" stroke-width="1" />
<line x1="60" y1="455.29" x2="65" y2="455.29" stroke="#000" stroke-width="1" />
<line x1="328.5" y1="455.29" x2="323.5" y2="455.29" stroke="#000" stroke-width="1" />
<line x1="60" y1="450.4" x2="65" y2="450.4" stroke="#000" stroke-width="1" />
<line x1="328.5" y1="450.4" x2="323.5" y2="450.4" stroke="#000" stroke-width="1" />
<line x1="60" y1="445.52" x2="70" y2="445.52" stroke="#000" stroke-width="1" />
<line x1="328.5" y1="445.52" x2="318.5" y2="445.52" stroke="#000" stroke-width="1" />
<line x1="60" y1="440.63" x2="65" y2="440.63" stroke="#000" stroke-width="1" />
<line x1="328.5" y1="440.63" x2="323.5" y2="440.63" stroke="#000" stroke-width="1" />
<line x1="60" y1="435.75" x2="65" y2="435.75" stroke="#000" stroke-width="1" />
<line x1="328.5" y1="435.75" x2="323.5" y2="435.75" stroke="#000" stroke-width="1" />
<line x1="60" y1="430.86" x2="65" y2="430.86" stroke="#000" stroke-width="1" />
<line x1="328.5" y1="430.86" x2="323.5" y2="430.86" stroke="#000" stroke-width="1" />
<line x1="60" y1="425.98" x2="70" y2="425.98" stroke="#000" stroke-width="1" />
<line x1="328.5" y1="425.98" x2="318.5" y2="425.98" stroke="#000" stroke-width="1" />
<line x1="60" y1="421.09" x2="65" y2="421.09" stroke="#000" stroke-width="1" />
<line x1="328.5" y1="421.09" x2="323.5" y2="421.09" stroke="#000" stroke-width="1" />
<line x1="60" y1="416.21" x2="65" y2="416.21" stroke="#000" stroke-width="1" />
<line x1="328.5" y1="416.21" x2="323.5" y2="416.21" stroke="#000" stroke-width="1" />
<line x1="60" y1="411.32" x2="65" y2="411.32" stroke="#000" stroke-width="1" />
<line x1="328.5" y1="411.32" x2="323.5" y2="411.32" stroke="#000" stroke-width="1" />
<line x1="60" y1="406.44" x2="70" y2="406.44" stroke="#000" stroke-width="1" />
<line x1="328.5" y1="406.44" x2="318.5" y2="406.44" stroke="#000" stroke-width="1" />
<line x1="60" y1="401.55" x2="65" y2="401.55" stroke="#000" stroke-width="1" />
<line x1="328.5" y1="401.55" x2="323.5" y2="401.55" stroke="#000" stroke-width="1" />
<line x1="60" y1="396.67" x2="65" y2="396.67" stroke="#000" stroke-width="1" />
<line x1="328.5" y1="396.67" x2="323.5" y2="396.67" stroke="#000" stroke-width="1" />
<line x1="60" y1="391.78" x2="65" y2="391.78" stroke="#000" stroke-width="1" />
<line x1="328.5" y1="391.78" x2="323.5" y2="391.78" stroke="#000" stroke-width="1" />
<line x1="60" y1="386.9" x2="70" y2="386.9" stroke="#000" stroke-width="1" />
<line x1="328.5" y1="386.9" x2="318.5" y2="386.9" stroke="#000" stroke-width="1" />
<line x1="60" y1="382.01" x2="65" y2="382.01" stroke="#000" stroke-width="1" />
<line x1="328.5" y1="382.01" x2="323.5" y2="382.01" stroke="#000" stroke-width="1" />
<line x1="60" y1="377.13" x2="65" y2="377.13" stroke="#000" stroke-width="1" />
<line x1="328.5" y1="377.13" x2="323.5" y2="377.13" stroke="#000" stroke-width="1" />
<line x1="60" y1="372.24" x2="65" y2="372.24" stroke="#000" stroke-width="1" />
<line x1="328.5" y1="372.24" x2="323.5" y2="372.24" stroke="#000" stroke-width="1" />
<line x1="60" y1="367.36" x2="70" y2="367.36" stroke="#000" stroke-width="1" />
<line x1="328.5" y1="367.36" x2="318.5" y2="367.36" stroke="#000" stroke-width="1" />
<line x1="60" y1="362.47" x2="65" y2="362.47" stroke="#000" stroke-width="1" />
<line x1="328.5" y1="362.47" x2="323.5" y2="362.47" stroke="#000" stroke-width="1" />
<line x1="60" y1="357.59" x2="65" y2="357.59" stroke="#000" stroke-width="1" />
<line x1="328.5" y1="357.59" x2="323.5" y2="357.59" stroke="#000" stroke-width="1" />
<line x1="60" y1="650.56" x2="63.5" y2="650.56" stroke="#000" stroke-width="1" />
<line x1="328.5" y1="650.56" x2="325" y2="650.56" stroke="#000" stroke-width="1" />
<line x1="60" y1="646.54" x2="63.5" y2="646.54" stroke="#000" stroke-width="1" />
<line x1="328.5" y1="646.54" x2="325" y2="646.54" stroke="#000" stroke-width="1" />
<line x1="60" y1="642.52" x2="63.5" y2="642.52" stroke="#000" stroke-width="1" />
<line x1="328.5" y1="642.52" x2="325" y2="642.52" stroke="#000" stroke-width="1" />
<line x1="60" y1="638.5" x2="67" y2="638.5" stroke="#000" stroke-width="1" />
<line x1="328.5" y1="638.5" x2="321.5" y2="638.5" stroke="#000" stroke-width="1" />
<line x1="60" y1="634.48" x2="63.5" y2="634.48" stroke="#000" stroke-width="1" />
<line x1="328.5" y1="634.48" x2="325" y2="634.48" stroke="#000" stroke-width="1" />
<line x1="60" y1="630.46" x2="63.5" y2="630.46" stroke="#000" stroke-width="1" />
<line x1="328.5" y1="630.46" x2="325" y2="630.46" stroke="#000" stroke-width="1" />
<line x1="60" y1="626.44" x2="63.5" y2="626.44" stroke="#000" stroke-width="1" />
<line x1="328.5" y1="626.44" x2="325" y2="626.44" stroke="#000" stroke-width="1" />
<line x1="60" y1="622.42" x2="63.5" y2="622.42" stroke="#000" stroke-width="1" />
<line x1="328.5" y1="622.42" x2="325" y2="622.42" stroke="#000" stroke-width="1" />
<line x1="60" y1="618.4" x2="67" y2="618.4" stroke="#000" stroke-width="1" />
<line x1="328.5" y1="618.4" x2="321.5" y2="618.4" stroke="#000" stroke-width="1" />
<line x1="60" y1="614.38" x2="63.5" y2="614.38" stroke="#000" stroke-width="1" />
<line x1="328.5" y1="614.38" x2="325" y2="614.38" stroke="#000" stroke-width="1" />
<line x1="60" y1="610.36" x2="63.5" y2="610.36" stroke="#000" stroke-width="1" />
<line x1="328.5" y1="610.36" x2="325" y2="610.36" stroke="#000" stroke-width="1" />
<line x1="60" y1="606.34" x2="63.5" y2="606.34" stroke="#000" stroke-width="1" />
<line x1="328.5" y1="606.34" x2="325" y2="606.34" stroke="#000" stroke-width="1" />
<line x1="60" y1="602.32" x2="63.5" y2="602.32" stroke="#000" stroke-width="1" />
<line x1="328.5" y1="602.32" x2="325" y2="602.32" stroke="#000" stroke-width="1" />
<line x1="60" y1="598.3" x2="67" y2="598.3" stroke="#000" stroke-width="1" />
<line x1="328.5" y1="598.3" x2="321.5" y2="598.3" stroke="#000" stroke-width="1" />
<line x1="60" y1="594.28" x2="63.5" y2="594.28" stroke="#000" stroke-width="1" />
<line x1="328.5" y1="594.28" x2="325" y2="594.28" stroke="#000" stroke-width="1" />
<line x1="60" y1="590.26" x2="63.5" y2="590.26" stroke="#000" stroke-width="1" />
<line x1="328.5" y1="590.26" x2="325" y2="590.26" stroke="#000" stroke-width="1" />
<line x1="60" y1="586.24" x2="63.5" y2="586.24" stroke="#000" stroke-width="1" />
<line x1="328.5" y1="586.24" x2="325" y2="586.24" stroke="#000" stroke-width="1" />
<text x="60" y="662.7" font-size="11.3" text-anchor="middle" >0</text>
<text x="103.22" y="662.7" font-size="11.3" text-anchor="middle" >1</text>
<text x="146.44" y="662.7" font-size="11.3" text-anchor="middle" >2</text>
<text x="189.66" y="662.7" font-size="11.3" text-anchor="middle" >3</text>
<text x="232.88" y="662.7" font-size="11.3" text-anchor="middle" >4</text>
<text x="276.1" y="662.7" font-size="11.3" text-anchor="middle" >5</text>
<text x="319.32" y="662.7" font-size="11.3" text-anchor="middle" >6</text>
<text x="58" y="566.76" font-size="11.3" text-anchor="end" >0.2</text>
<text x="58" y="547.22" font-size="11.3" text-anchor="end" >0.4</text>
<text x="58" y="527.68" font-size="11.3" text-anchor="end" >0.6</text>
<text x="58" y="508.14" font-size="11.3" text-anchor="end" >0.8</text>
<text x="58" y="488.6" font-size="11.3" text-anchor="end" >1</text>
<text x="58" y="469.06" font-size="11.3" text-anchor="end" >1.2</text>
<text x="58" y="449.52" font-size="11.3" text-anchor="end" >1.4</text>
<text x="58" y="429.98" font-size="11.3" text-anchor="end" >1.6</text>
<text x="58" y="410.44" font-size="11.3" text-anchor="end" >1.8</text>
<text x="58" y="390.9" font-size="11.3" text-anchor="end" >2</text>
<text x="58" y="371.36" font-size="11.3" text-anchor="end" >2.2</text>
<text x="58" y="642.5" font-size="11.3" text-anchor="end" >0.5</text>
<text x="58" y="622.4" font-size="11.3" text-anchor="end" >1</text>
<text x="58" y="602.3" font-size="11.3" text-anchor="end" >1.5</text>
<text x="77" y="372.7" font-size="11.8" font-weight="bold" font-style="italic" textLength="40.2" lengthAdjust="spacingAndGlyphs">ATLAS</text>
<path d="M78,385.6 L78.9,385 L80,390 L80.7,380.2 H88.4" fill="none" stroke="#000" stroke-width="0.9"/>
<text x="82.3" y="389.8" font-size="11.6" textLength="86.6" lengthAdjust="spacingAndGlyphs">s=13 TeV, 3.2 fb</text>
<text x="169.3" y="385.2" font-size="8.2">-1</text>
<text x="77.4" y="408.1" font-size="11.6">10 GeV&lt;p</text>
<text x="131" y="402.9" font-size="8.2">Z</text>
<text x="131" y="414.3" font-size="8.2">T</text>
<text x="136" y="408.1" font-size="11.6">&lt;20 GeV</text>
<text x="77.4" y="421.6" font-size="11.6">trans-min region</text>
<rect x="201.1" y="363.7" width="18.9" height="12.3" fill="#6acb9a" />
<text x="224" y="370.5" font-size="11.6">syst.</text>
<circle cx="255.6" cy="366.45" r="3.95" fill="none" stroke="#000" stroke-width="0.75"/>
<path d="M251.65,366.45H259.55M255.6,362.5V370.4" stroke="#000" stroke-width="0.75"/>
<text x="263.2" y="370.5" font-size="11.6">stat. error</text>
<line x1="210.55" y1="381.4" x2="210.55" y2="390.7" stroke="#000" stroke-width="1.2" />
<circle cx="210.55" cy="386.1" r="3.2" fill="#000"/>
<text x="224" y="387.1" font-size="11.6">Data 2015</text>
<line x1="201.1" y1="402.2" x2="220" y2="402.2" stroke="#a82252" stroke-width="1.4" />
<text x="224" y="403.4" font-size="11.6">PowhegPythia8</text>
<line x1="201.1" y1="418.4" x2="220" y2="418.4" stroke="#0000ff" stroke-width="1.3" stroke-dasharray="2,1.8"/>
<text x="224" y="419.8" font-size="11.6">Sherpa</text>
<line x1="201.1" y1="434.6" x2="220" y2="434.6" stroke="#dc7d26" stroke-width="1.2" stroke-dasharray="2.2,2.1,1,2.1"/>
<text x="224" y="436.1" font-size="11.6">Herwig++</text>
<text transform="translate(22,617.1) rotate(-90)" font-size="11.6" text-anchor="middle">Ratio</text>
<g clip-path="url(#p4m)">
<rect x="415.5" y="557.15" width="10.31" height="21.22" fill="#6acb9a" />
<rect x="425.81" y="508.52" width="10.31" height="18.27" fill="#6acb9a" />
<rect x="436.12" y="466.37" width="10.31" height="13.76" fill="#6acb9a" />
<rect x="446.42" y="434.24" width="10.31" height="11.79" fill="#6acb9a" />
<rect x="456.73" y="424.22" width="10.31" height="11.79" fill="#6acb9a" />
<rect x="467.04" y="440.33" width="10.31" height="11.79" fill="#6acb9a" />
<rect x="477.35" y="470.3" width="10.31" height="10.81" fill="#6acb9a" />
<rect x="487.65" y="500.66" width="10.31" height="7.86" fill="#6acb9a" />
<rect x="497.96" y="526.5" width="10.31" height="5.9" fill="#6acb9a" />
<rect x="508.27" y="544.28" width="10.31" height="4.32" fill="#6acb9a" />
<rect x="518.58" y="556.07" width="10.31" height="3.14" fill="#6acb9a" />
<rect x="528.88" y="562.55" width="10.31" height="2.36" fill="#6acb9a" />
<rect x="539.19" y="569.53" width="10.31" height="1.77" fill="#6acb9a" />
<rect x="549.5" y="573.46" width="10.31" height="1.17" fill="#6acb9a" />
<rect x="559.81" y="575.67" width="10.31" height="0.88" fill="#6acb9a" />
<rect x="570.12" y="577.35" width="10.31" height="0.66" fill="#6acb9a" />
<rect x="580.42" y="578.41" width="10.31" height="0.52" fill="#6acb9a" />
<rect x="590.73" y="579.14" width="10.31" height="0.43" fill="#6acb9a" />
<rect x="601.04" y="579.77" width="10.31" height="0.34" fill="#6acb9a" />
<rect x="611.35" y="580.3" width="10.31" height="0.28" fill="#6acb9a" />
<rect x="621.65" y="580.72" width="10.31" height="0.22" fill="#6acb9a" />
<rect x="631.96" y="581.03" width="10.31" height="0.18" fill="#6acb9a" />
<rect x="642.27" y="581.24" width="10.31" height="0.15" fill="#6acb9a" />
<rect x="652.58" y="581.45" width="10.31" height="0.12" fill="#6acb9a" />
<rect x="662.88" y="581.56" width="10.31" height="0.11" fill="#6acb9a" />
<rect x="673.19" y="581.66" width="10.31" height="0.1" fill="#6acb9a" />
<line x1="415.5" y1="567.76" x2="425.81" y2="567.76" stroke="#000" stroke-width="1.1" />
<circle cx="420.65" cy="567.76" r="2.9" fill="#000"/>
<line x1="425.81" y1="517.65" x2="436.12" y2="517.65" stroke="#000" stroke-width="1.1" />
<circle cx="430.96" cy="517.65" r="2.9" fill="#000"/>
<line x1="436.12" y1="473.24" x2="446.42" y2="473.24" stroke="#000" stroke-width="1.1" />
<circle cx="441.27" cy="473.24" r="2.9" fill="#000"/>
<line x1="446.42" y1="440.13" x2="456.73" y2="440.13" stroke="#000" stroke-width="1.1" />
<circle cx="451.58" cy="440.13" r="2.9" fill="#000"/>
<line x1="456.73" y1="430.11" x2="467.04" y2="430.11" stroke="#000" stroke-width="1.1" />
<circle cx="461.88" cy="430.11" r="2.9" fill="#000"/>
<line x1="467.04" y1="446.23" x2="477.35" y2="446.23" stroke="#000" stroke-width="1.1" />
<circle cx="472.19" cy="446.23" r="2.9" fill="#000"/>
<line x1="477.35" y1="475.7" x2="487.65" y2="475.7" stroke="#000" stroke-width="1.1" />
<circle cx="482.5" cy="475.7" r="2.9" fill="#000"/>
<line x1="487.65" y1="504.59" x2="497.96" y2="504.59" stroke="#000" stroke-width="1.1" />
<circle cx="492.81" cy="504.59" r="2.9" fill="#000"/>
<line x1="497.96" y1="529.44" x2="508.27" y2="529.44" stroke="#000" stroke-width="1.1" />
<circle cx="503.12" cy="529.44" r="2.9" fill="#000"/>
<line x1="508.27" y1="546.44" x2="518.58" y2="546.44" stroke="#000" stroke-width="1.1" />
<circle cx="513.42" cy="546.44" r="2.9" fill="#000"/>
<line x1="518.58" y1="557.64" x2="528.88" y2="557.64" stroke="#000" stroke-width="1.1" />
<circle cx="523.73" cy="557.64" r="2.9" fill="#000"/>
<line x1="528.88" y1="563.73" x2="539.19" y2="563.73" stroke="#000" stroke-width="1.1" />
<circle cx="534.04" cy="563.73" r="2.9" fill="#000"/>
<line x1="539.19" y1="570.41" x2="549.5" y2="570.41" stroke="#000" stroke-width="1.1" />
<circle cx="544.35" cy="570.41" r="2.9" fill="#000"/>
<line x1="549.5" y1="574.05" x2="559.81" y2="574.05" stroke="#000" stroke-width="1.1" />
<circle cx="554.65" cy="574.05" r="2.9" fill="#000"/>
<line x1="559.81" y1="576.11" x2="570.12" y2="576.11" stroke="#000" stroke-width="1.1" />
<circle cx="564.96" cy="576.11" r="2.9" fill="#000"/>
<line x1="570.12" y1="577.68" x2="580.42" y2="577.68" stroke="#000" stroke-width="1.1" />
<circle cx="575.27" cy="577.68" r="2.9" fill="#000"/>
<line x1="580.42" y1="578.67" x2="590.73" y2="578.67" stroke="#000" stroke-width="1.1" />
<circle cx="585.58" cy="578.67" r="2.9" fill="#000"/>
<line x1="590.73" y1="579.35" x2="601.04" y2="579.35" stroke="#000" stroke-width="1.1" />
<circle cx="595.88" cy="579.35" r="2.9" fill="#000"/>
<line x1="601.04" y1="579.94" x2="611.35" y2="579.94" stroke="#000" stroke-width="1.1" />
<circle cx="606.19" cy="579.94" r="2.9" fill="#000"/>
<line x1="611.35" y1="580.43" x2="621.65" y2="580.43" stroke="#000" stroke-width="1.1" />
<circle cx="616.5" cy="580.43" r="2.9" fill="#000"/>
<line x1="621.65" y1="580.83" x2="631.96" y2="580.83" stroke="#000" stroke-width="1.1" />
<circle cx="626.81" cy="580.83" r="2.9" fill="#000"/>
<line x1="631.96" y1="581.12" x2="642.27" y2="581.12" stroke="#000" stroke-width="1.1" />
<circle cx="637.12" cy="581.12" r="2.9" fill="#000"/>
<line x1="642.27" y1="581.32" x2="652.58" y2="581.32" stroke="#000" stroke-width="1.1" />
<circle cx="647.42" cy="581.32" r="2.9" fill="#000"/>
<line x1="652.58" y1="581.52" x2="662.88" y2="581.52" stroke="#000" stroke-width="1.1" />
<circle cx="657.73" cy="581.52" r="2.9" fill="#000"/>
<line x1="662.88" y1="581.61" x2="673.19" y2="581.61" stroke="#000" stroke-width="1.1" />
<circle cx="668.04" cy="581.61" r="2.9" fill="#000"/>
<line x1="673.19" y1="581.71" x2="683.5" y2="581.71" stroke="#000" stroke-width="1.1" />
<circle cx="678.35" cy="581.71" r="2.9" fill="#000"/>
<path d="M415.5,552.04H425.81V491.11H436.12V456.87H446.42V434.44H456.73V431.64H467.04V451.67H477.35V482.1H487.65V511.59H497.96V535.27H508.27V551.83H518.58V562.59H528.88V569.71H539.19V574.25H549.5V576.72H559.81V578.63H570.12V579.57H580.42V580.16H590.73V580.72H601.04V581.17H611.35V581.46H621.65V581.6H631.96V581.79H642.27V581.76H652.58V582.09H662.88V582.16H673.19V582.11H683.5" fill="none" stroke="#a82252" stroke-width="1.3"/>
<path d="M415.5,538.58H425.81V467.8H436.12V440.5H446.42V433.02H456.73V449.91H467.04V476.18H477.35V503.44H487.65V524.82H497.96V542.15H508.27V553.27H518.58V562.35H528.88V567.47H539.19V570.89H549.5V574.38H559.81V576.62H570.12V577.07H580.42V578.18H590.73V578.87H601.04V579.48H611.35V579.94H621.65V580.01H631.96V580.69H642.27V581.05H652.58V581.4H662.88V581.5H673.19V581.51H683.5" fill="none" stroke="#0000ff" stroke-width="1.3" stroke-dasharray="2,1.8"/>
<path d="M415.5,557.05H425.81V498.23H436.12V463.42H446.42V452.94H456.73V445.34H467.04V458.48H477.35V482.1H487.65V509.25H497.96V531.03H508.27V541.05H518.58V553.93H528.88V563.73H539.19V568.62H549.5V572.71H559.81V575.99H570.12V575.75H580.42V578.52H590.73V578.44H601.04V579.48H611.35V579.53H621.65V580.12H631.96V580.48H642.27V581H652.58V581.44H662.88V581.76H673.19V581.51H683.5" fill="none" stroke="#dc7d26" stroke-width="1.2" stroke-dasharray="2.2,2.1,1,2.1"/>
</g>
<g clip-path="url(#p4r)">
<rect x="415.5" y="570.16" width="10.31" height="96.48" fill="#6acb9a" />
<rect x="425.81" y="609.96" width="10.31" height="16.88" fill="#6acb9a" />
<rect x="436.12" y="614.78" width="10.31" height="7.24" fill="#6acb9a" />
<rect x="446.42" y="615.99" width="10.31" height="4.82" fill="#6acb9a" />
<rect x="456.73" y="616.39" width="10.31" height="4.02" fill="#6acb9a" />
<rect x="467.04" y="616.39" width="10.31" height="4.02" fill="#6acb9a" />
<rect x="477.35" y="616.39" width="10.31" height="4.02" fill="#6acb9a" />
<rect x="487.65" y="616.39" width="10.31" height="4.02" fill="#6acb9a" />
<rect x="497.96" y="616.39" width="10.31" height="4.02" fill="#6acb9a" />
<rect x="508.27" y="615.99" width="10.31" height="4.82" fill="#6acb9a" />
<rect x="518.58" y="615.59" width="10.31" height="5.63" fill="#6acb9a" />
<rect x="528.88" y="615.59" width="10.31" height="5.63" fill="#6acb9a" />
<rect x="539.19" y="615.18" width="10.31" height="6.43" fill="#6acb9a" />
<rect x="549.5" y="614.78" width="10.31" height="7.24" fill="#6acb9a" />
<rect x="559.81" y="614.38" width="10.31" height="8.04" fill="#6acb9a" />
<rect x="570.12" y="613.58" width="10.31" height="9.65" fill="#6acb9a" />
<rect x="580.42" y="612.77" width="10.31" height="11.26" fill="#6acb9a" />
<rect x="590.73" y="612.37" width="10.31" height="12.06" fill="#6acb9a" />
<rect x="601.04" y="611.57" width="10.31" height="13.67" fill="#6acb9a" />
<rect x="611.35" y="610.76" width="10.31" height="15.28" fill="#6acb9a" />
<rect x="621.65" y="610.36" width="10.31" height="16.08" fill="#6acb9a" />
<rect x="631.96" y="609.56" width="10.31" height="17.69" fill="#6acb9a" />
<rect x="642.27" y="608.35" width="10.31" height="20.1" fill="#6acb9a" />
<rect x="652.58" y="608.35" width="10.31" height="20.1" fill="#6acb9a" />
<rect x="662.88" y="607.55" width="10.31" height="21.71" fill="#6acb9a" />
<rect x="673.19" y="605.54" width="10.31" height="25.73" fill="#6acb9a" />
<path d="M415.5,586.24H425.81V606.34H436.12V614.78H446.42V622.02H456.73V622.42H467.04V622.02H477.35V620.81H487.65V620.81H497.96V619.61H508.27V612.37H518.58V612.37H528.88V618.4H539.19V612.37H549.5V611.97H559.81V617.6H570.12V601.92H580.42V616.79H590.73V606.34H601.04V610.76H611.35V599.91H621.65V600.31H631.96V598.3H642.27V606.34H652.58V614.78H662.88V626.04H673.19V606.34H683.5" fill="none" stroke="#dc7d26" stroke-width="1.2" stroke-dasharray="2.2,2.1,1,2.1"/>
<path d="M415.5,546.04H425.81V587.45H436.12V606.34H446.42V616.39H456.73V623.63H467.04V627.24H477.35V628.85H487.65V628.85H497.96V628.05H508.27V626.04H518.58V626.04H528.88V626.44H539.19V620.01H549.5V620.01H559.81V621.62H570.12V613.17H580.42V613.17H590.73V611.97H601.04V610.76H611.35V608.35H621.65V597.5H631.96V604.73H642.27V608.35H652.58V613.17H662.88V612.37H673.19V606.34H683.5" fill="none" stroke="#0000ff" stroke-width="1.3" stroke-dasharray="2,1.8"/>
<path d="M415.5,585.03H425.81V601.92H436.12V612.37H446.42V616.79H456.73V618.8H467.04V620.01H477.35V620.81H487.65V622.02H497.96V622.82H508.27V624.43H518.58V626.44H528.88V631.26H539.19V631.26H549.5V631.26H559.81V634.48H570.12V634.48H580.42V634.48H590.73V636.49H601.04V638.5H611.35V639.3H621.65V638.1H631.96V639.3H642.27V634.88H652.58V644.53H662.88V646.14H673.19V641.72H683.5" fill="none" stroke="#a82252" stroke-width="1.3"/>
<line x1="415.5" y1="618.4" x2="683.6" y2="618.4" stroke="#000" stroke-width="1.3" />
<line x1="420.65" y1="616.39" x2="420.65" y2="620.41" stroke="#000" stroke-width="1.2" />
<line x1="430.96" y1="618" x2="430.96" y2="618.8" stroke="#000" stroke-width="1.2" />
<line x1="441.27" y1="618.2" x2="441.27" y2="618.6" stroke="#000" stroke-width="1.2" />
<line x1="451.58" y1="618.24" x2="451.58" y2="618.56" stroke="#000" stroke-width="1.2" />
<line x1="461.88" y1="618.24" x2="461.88" y2="618.56" stroke="#000" stroke-width="1.2" />
<line x1="472.19" y1="618.24" x2="472.19" y2="618.56" stroke="#000" stroke-width="1.2" />
<line x1="482.5" y1="618.24" x2="482.5" y2="618.56" stroke="#000" stroke-width="1.2" />
<line x1="492.81" y1="618.2" x2="492.81" y2="618.6" stroke="#000" stroke-width="1.2" />
<line x1="503.12" y1="618.16" x2="503.12" y2="618.64" stroke="#000" stroke-width="1.2" />
<line x1="513.42" y1="618.08" x2="513.42" y2="618.72" stroke="#000" stroke-width="1.2" />
<line x1="523.73" y1="618" x2="523.73" y2="618.8" stroke="#000" stroke-width="1.2" />
<line x1="534.04" y1="617.92" x2="534.04" y2="618.88" stroke="#000" stroke-width="1.2" />
<line x1="544.35" y1="617.8" x2="544.35" y2="619" stroke="#000" stroke-width="1.2" />
<line x1="554.65" y1="617.6" x2="554.65" y2="619.2" stroke="#000" stroke-width="1.2" />
<line x1="564.96" y1="617.39" x2="564.96" y2="619.4" stroke="#000" stroke-width="1.2" />
<line x1="575.27" y1="617.19" x2="575.27" y2="619.61" stroke="#000" stroke-width="1.2" />
<line x1="585.58" y1="616.99" x2="585.58" y2="619.81" stroke="#000" stroke-width="1.2" />
<line x1="595.88" y1="616.79" x2="595.88" y2="620.01" stroke="#000" stroke-width="1.2" />
<line x1="606.19" y1="616.59" x2="606.19" y2="620.21" stroke="#000" stroke-width="1.2" />
<line x1="616.5" y1="616.39" x2="616.5" y2="620.41" stroke="#000" stroke-width="1.2" />
<line x1="626.81" y1="616.19" x2="626.81" y2="620.61" stroke="#000" stroke-width="1.2" />
<line x1="637.12" y1="615.99" x2="637.12" y2="620.81" stroke="#000" stroke-width="1.2" />
<line x1="647.42" y1="615.79" x2="647.42" y2="621.01" stroke="#000" stroke-width="1.2" />
<line x1="657.73" y1="615.59" x2="657.73" y2="621.21" stroke="#000" stroke-width="1.2" />
<line x1="668.04" y1="615.18" x2="668.04" y2="621.62" stroke="#000" stroke-width="1.2" />
<line x1="678.35" y1="614.78" x2="678.35" y2="622.02" stroke="#000" stroke-width="1.2" />
</g>
<rect x="415.5" y="355" width="268.1" height="297.3" fill="none" stroke="#000" stroke-width="1.0"/>
<line x1="415.5" y1="582.5" x2="683.6" y2="582.5" stroke="#000" stroke-width="1.0" />
<line x1="420.65" y1="355" x2="420.65" y2="360.5" stroke="#000" stroke-width="1" />
<line x1="420.65" y1="582.5" x2="420.65" y2="577" stroke="#000" stroke-width="1" />
<line x1="420.65" y1="652.3" x2="420.65" y2="650.1" stroke="#000" stroke-width="1" />
<line x1="420.65" y1="582.5" x2="420.65" y2="584.7" stroke="#000" stroke-width="1" />
<line x1="430.96" y1="355" x2="430.96" y2="358" stroke="#000" stroke-width="1" />
<line x1="430.96" y1="582.5" x2="430.96" y2="579.5" stroke="#000" stroke-width="1" />
<line x1="430.96" y1="652.3" x2="430.96" y2="651.1" stroke="#000" stroke-width="1" />
<line x1="430.96" y1="582.5" x2="430.96" y2="583.7" stroke="#000" stroke-width="1" />
<line x1="441.27" y1="355" x2="441.27" y2="358" stroke="#000" stroke-width="1" />
<line x1="441.27" y1="582.5" x2="441.27" y2="579.5" stroke="#000" stroke-width="1" />
<line x1="441.27" y1="652.3" x2="441.27" y2="651.1" stroke="#000" stroke-width="1" />
<line x1="441.27" y1="582.5" x2="441.27" y2="583.7" stroke="#000" stroke-width="1" />
<line x1="451.57" y1="355" x2="451.57" y2="358" stroke="#000" stroke-width="1" />
<line x1="451.57" y1="582.5" x2="451.57" y2="579.5" stroke="#000" stroke-width="1" />
<line x1="451.57" y1="652.3" x2="451.57" y2="651.1" stroke="#000" stroke-width="1" />
<line x1="451.57" y1="582.5" x2="451.57" y2="583.7" stroke="#000" stroke-width="1" />
<line x1="461.88" y1="355" x2="461.88" y2="358" stroke="#000" stroke-width="1" />
<line x1="461.88" y1="582.5" x2="461.88" y2="579.5" stroke="#000" stroke-width="1" />
<line x1="461.88" y1="652.3" x2="461.88" y2="651.1" stroke="#000" stroke-width="1" />
<line x1="461.88" y1="582.5" x2="461.88" y2="583.7" stroke="#000" stroke-width="1" />
<line x1="472.19" y1="355" x2="472.19" y2="360.5" stroke="#000" stroke-width="1" />
<line x1="472.19" y1="582.5" x2="472.19" y2="577" stroke="#000" stroke-width="1" />
<line x1="472.19" y1="652.3" x2="472.19" y2="650.1" stroke="#000" stroke-width="1" />
<line x1="472.19" y1="582.5" x2="472.19" y2="584.7" stroke="#000" stroke-width="1" />
<line x1="482.5" y1="355" x2="482.5" y2="358" stroke="#000" stroke-width="1" />
<line x1="482.5" y1="582.5" x2="482.5" y2="579.5" stroke="#000" stroke-width="1" />
<line x1="482.5" y1="652.3" x2="482.5" y2="651.1" stroke="#000" stroke-width="1" />
<line x1="482.5" y1="582.5" x2="482.5" y2="583.7" stroke="#000" stroke-width="1" />
<line x1="492.81" y1="355" x2="492.81" y2="358" stroke="#000" stroke-width="1" />
<line x1="492.81" y1="582.5" x2="492.81" y2="579.5" stroke="#000" stroke-width="1" />
<line x1="492.81" y1="652.3" x2="492.81" y2="651.1" stroke="#000" stroke-width="1" />
<line x1="492.81" y1="582.5" x2="492.81" y2="583.7" stroke="#000" stroke-width="1" />
<line x1="503.11" y1="355" x2="503.11" y2="358" stroke="#000" stroke-width="1" />
<line x1="503.11" y1="582.5" x2="503.11" y2="579.5" stroke="#000" stroke-width="1" />
<line x1="503.11" y1="652.3" x2="503.11" y2="651.1" stroke="#000" stroke-width="1" />
<line x1="503.11" y1="582.5" x2="503.11" y2="583.7" stroke="#000" stroke-width="1" />
<line x1="513.42" y1="355" x2="513.42" y2="358" stroke="#000" stroke-width="1" />
<line x1="513.42" y1="582.5" x2="513.42" y2="579.5" stroke="#000" stroke-width="1" />
<line x1="513.42" y1="652.3" x2="513.42" y2="651.1" stroke="#000" stroke-width="1" />
<line x1="513.42" y1="582.5" x2="513.42" y2="583.7" stroke="#000" stroke-width="1" />
<line x1="523.73" y1="355" x2="523.73" y2="360.5" stroke="#000" stroke-width="1" />
<line x1="523.73" y1="582.5" x2="523.73" y2="577" stroke="#000" stroke-width="1" />
<line x1="523.73" y1="652.3" x2="523.73" y2="650.1" stroke="#000" stroke-width="1" />
<line x1="523.73" y1="582.5" x2="523.73" y2="584.7" stroke="#000" stroke-width="1" />
<line x1="534.04" y1="355" x2="534.04" y2="358" stroke="#000" stroke-width="1" />
<line x1="534.04" y1="582.5" x2="534.04" y2="579.5" stroke="#000" stroke-width="1" />
<line x1="534.04" y1="652.3" x2="534.04" y2="651.1" stroke="#000" stroke-width="1" />
<line x1="534.04" y1="582.5" x2="534.04" y2="583.7" stroke="#000" stroke-width="1" />
<line x1="544.35" y1="355" x2="544.35" y2="358" stroke="#000" stroke-width="1" />
<line x1="544.35" y1="582.5" x2="544.35" y2="579.5" stroke="#000" stroke-width="1" />
<line x1="544.35" y1="652.3" x2="544.35" y2="651.1" stroke="#000" stroke-width="1" />
<line x1="544.35" y1="582.5" x2="544.35" y2="583.7" stroke="#000" stroke-width="1" />
<line x1="554.65" y1="355" x2="554.65" y2="358" stroke="#000" stroke-width="1" />
<line x1="554.65" y1="582.5" x2="554.65" y2="579.5" stroke="#000" stroke-width="1" />
<line x1="554.65" y1="652.3" x2="554.65" y2="651.1" stroke="#000" stroke-width="1" />
<line x1="554.65" y1="582.5" x2="554.65" y2="583.7" stroke="#000" stroke-width="1" />
<line x1="564.96" y1="355" x2="564.96" y2="358" stroke="#000" stroke-width="1" />
<line x1="564.96" y1="582.5" x2="564.96" y2="579.5" stroke="#000" stroke-width="1" />
<line x1="564.96" y1="652.3" x2="564.96" y2="651.1" stroke="#000" stroke-width="1" />
<line x1="564.96" y1="582.5" x2="564.96" y2="583.7" stroke="#000" stroke-width="1" />
<line x1="575.27" y1="355" x2="575.27" y2="360.5" stroke="#000" stroke-width="1" />
<line x1="575.27" y1="582.5" x2="575.27" y2="577" stroke="#000" stroke-width="1" />
<line x1="575.27" y1="652.3" x2="575.27" y2="650.1" stroke="#000" stroke-width="1" />
<line x1="575.27" y1="582.5" x2="575.27" y2="584.7" stroke="#000" stroke-width="1" />
<line x1="585.58" y1="355" x2="585.58" y2="358" stroke="#000" stroke-width="1" />
<line x1="585.58" y1="582.5" x2="585.58" y2="579.5" stroke="#000" stroke-width="1" />
<line x1="585.58" y1="652.3" x2="585.58" y2="651.1" stroke="#000" stroke-width="1" />
<line x1="585.58" y1="582.5" x2="585.58" y2="583.7" stroke="#000" stroke-width="1" />
<line x1="595.89" y1="355" x2="595.89" y2="358" stroke="#000" stroke-width="1" />
<line x1="595.89" y1="582.5" x2="595.89" y2="579.5" stroke="#000" stroke-width="1" />
<line x1="595.89" y1="652.3" x2="595.89" y2="651.1" stroke="#000" stroke-width="1" />
<line x1="595.89" y1="582.5" x2="595.89" y2="583.7" stroke="#000" stroke-width="1" />
<line x1="606.19" y1="355" x2="606.19" y2="358" stroke="#000" stroke-width="1" />
<line x1="606.19" y1="582.5" x2="606.19" y2="579.5" stroke="#000" stroke-width="1" />
<line x1="606.19" y1="652.3" x2="606.19" y2="651.1" stroke="#000" stroke-width="1" />
<line x1="606.19" y1="582.5" x2="606.19" y2="583.7" stroke="#000" stroke-width="1" />
<line x1="616.5" y1="355" x2="616.5" y2="358" stroke="#000" stroke-width="1" />
<line x1="616.5" y1="582.5" x2="616.5" y2="579.5" stroke="#000" stroke-width="1" />
<line x1="616.5" y1="652.3" x2="616.5" y2="651.1" stroke="#000" stroke-width="1" />
<line x1="616.5" y1="582.5" x2="616.5" y2="583.7" stroke="#000" stroke-width="1" />
<line x1="626.81" y1="355" x2="626.81" y2="360.5" stroke="#000" stroke-width="1" />
<line x1="626.81" y1="582.5" x2="626.81" y2="577" stroke="#000" stroke-width="1" />
<line x1="626.81" y1="652.3" x2="626.81" y2="650.1" stroke="#000" stroke-width="1" />
<line x1="626.81" y1="582.5" x2="626.81" y2="584.7" stroke="#000" stroke-width="1" />
<line x1="637.12" y1="355" x2="637.12" y2="358" stroke="#000" stroke-width="1" />
<line x1="637.12" y1="582.5" x2="637.12" y2="579.5" stroke="#000" stroke-width="1" />
<line x1="637.12" y1="652.3" x2="637.12" y2="651.1" stroke="#000" stroke-width="1" />
<line x1="637.12" y1="582.5" x2="637.12" y2="583.7" stroke="#000" stroke-width="1" />
<line x1="647.43" y1="355" x2="647.43" y2="358" stroke="#000" stroke-width="1" />
<line x1="647.43" y1="582.5" x2="647.43" y2="579.5" stroke="#000" stroke-width="1" />
<line x1="647.43" y1="652.3" x2="647.43" y2="651.1" stroke="#000" stroke-width="1" />
<line x1="647.43" y1="582.5" x2="647.43" y2="583.7" stroke="#000" stroke-width="1" />
<line x1="657.73" y1="355" x2="657.73" y2="358" stroke="#000" stroke-width="1" />
<line x1="657.73" y1="582.5" x2="657.73" y2="579.5" stroke="#000" stroke-width="1" />
<line x1="657.73" y1="652.3" x2="657.73" y2="651.1" stroke="#000" stroke-width="1" />
<line x1="657.73" y1="582.5" x2="657.73" y2="583.7" stroke="#000" stroke-width="1" />
<line x1="668.04" y1="355" x2="668.04" y2="358" stroke="#000" stroke-width="1" />
<line x1="668.04" y1="582.5" x2="668.04" y2="579.5" stroke="#000" stroke-width="1" />
<line x1="668.04" y1="652.3" x2="668.04" y2="651.1" stroke="#000" stroke-width="1" />
<line x1="668.04" y1="582.5" x2="668.04" y2="583.7" stroke="#000" stroke-width="1" />
<line x1="678.35" y1="355" x2="678.35" y2="360.5" stroke="#000" stroke-width="1" />
<line x1="678.35" y1="582.5" x2="678.35" y2="577" stroke="#000" stroke-width="1" />
<line x1="678.35" y1="652.3" x2="678.35" y2="650.1" stroke="#000" stroke-width="1" />
<line x1="678.35" y1="582.5" x2="678.35" y2="584.7" stroke="#000" stroke-width="1" />
<line x1="415.5" y1="577.49" x2="420.5" y2="577.49" stroke="#000" stroke-width="1" />
<line x1="683.6" y1="577.49" x2="678.6" y2="577.49" stroke="#000" stroke-width="1" />
<line x1="415.5" y1="572.57" x2="420.5" y2="572.57" stroke="#000" stroke-width="1" />
<line x1="683.6" y1="572.57" x2="678.6" y2="572.57" stroke="#000" stroke-width="1" />
<line x1="415.5" y1="567.66" x2="420.5" y2="567.66" stroke="#000" stroke-width="1" />
<line x1="683.6" y1="567.66" x2="678.6" y2="567.66" stroke="#000" stroke-width="1" />
<line x1="415.5" y1="562.75" x2="425.5" y2="562.75" stroke="#000" stroke-width="1" />
<line x1="683.6" y1="562.75" x2="673.6" y2="562.75" stroke="#000" stroke-width="1" />
<line x1="415.5" y1="557.84" x2="420.5" y2="557.84" stroke="#000" stroke-width="1" />
<line x1="683.6" y1="557.84" x2="678.6" y2="557.84" stroke="#000" stroke-width="1" />
<line x1="415.5" y1="552.92" x2="420.5" y2="552.92" stroke="#000" stroke-width="1" />
<line x1="683.6" y1="552.92" x2="678.6" y2="552.92" stroke="#000" stroke-width="1" />
<line x1="415.5" y1="548.01" x2="420.5" y2="548.01" stroke="#000" stroke-width="1" />
<line x1="683.6" y1="548.01" x2="678.6" y2="548.01" stroke="#000" stroke-width="1" />
<line x1="415.5" y1="543.1" x2="425.5" y2="543.1" stroke="#000" stroke-width="1" />
<line x1="683.6" y1="543.1" x2="673.6" y2="543.1" stroke="#000" stroke-width="1" />
<line x1="415.5" y1="538.19" x2="420.5" y2="538.19" stroke="#000" stroke-width="1" />
<line x1="683.6" y1="538.19" x2="678.6" y2="538.19" stroke="#000" stroke-width="1" />
<line x1="415.5" y1="533.27" x2="420.5" y2="533.27" stroke="#000" stroke-width="1" />
<line x1="683.6" y1="533.27" x2="678.6" y2="533.27" stroke="#000" stroke-width="1" />
<line x1="415.5" y1="528.36" x2="420.5" y2="528.36" stroke="#000" stroke-width="1" />
<line x1="683.6" y1="528.36" x2="678.6" y2="528.36" stroke="#000" stroke-width="1" />
<line x1="415.5" y1="523.45" x2="425.5" y2="523.45" stroke="#000" stroke-width="1" />
<line x1="683.6" y1="523.45" x2="673.6" y2="523.45" stroke="#000" stroke-width="1" />
<line x1="415.5" y1="518.54" x2="420.5" y2="518.54" stroke="#000" stroke-width="1" />
<line x1="683.6" y1="518.54" x2="678.6" y2="518.54" stroke="#000" stroke-width="1" />
<line x1="415.5" y1="513.62" x2="420.5" y2="513.62" stroke="#000" stroke-width="1" />
<line x1="683.6" y1="513.62" x2="678.6" y2="513.62" stroke="#000" stroke-width="1" />
<line x1="415.5" y1="508.71" x2="420.5" y2="508.71" stroke="#000" stroke-width="1" />
<line x1="683.6" y1="508.71" x2="678.6" y2="508.71" stroke="#000" stroke-width="1" />
<line x1="415.5" y1="503.8" x2="425.5" y2="503.8" stroke="#000" stroke-width="1" />
<line x1="683.6" y1="503.8" x2="673.6" y2="503.8" stroke="#000" stroke-width="1" />
<line x1="415.5" y1="498.89" x2="420.5" y2="498.89" stroke="#000" stroke-width="1" />
<line x1="683.6" y1="498.89" x2="678.6" y2="498.89" stroke="#000" stroke-width="1" />
<line x1="415.5" y1="493.97" x2="420.5" y2="493.97" stroke="#000" stroke-width="1" />
<line x1="683.6" y1="493.97" x2="678.6" y2="493.97" stroke="#000" stroke-width="1" />
<line x1="415.5" y1="489.06" x2="420.5" y2="489.06" stroke="#000" stroke-width="1" />
<line x1="683.6" y1="489.06" x2="678.6" y2="489.06" stroke="#000" stroke-width="1" />
<line x1="415.5" y1="484.15" x2="425.5" y2="484.15" stroke="#000" stroke-width="1" />
<line x1="683.6" y1="484.15" x2="673.6" y2="484.15" stroke="#000" stroke-width="1" />
<line x1="415.5" y1="479.24" x2="420.5" y2="479.24" stroke="#000" stroke-width="1" />
<line x1="683.6" y1="479.24" x2="678.6" y2="479.24" stroke="#000" stroke-width="1" />
<line x1="415.5" y1="474.32" x2="420.5" y2="474.32" stroke="#000" stroke-width="1" />
<line x1="683.6" y1="474.32" x2="678.6" y2="474.32" stroke="#000" stroke-width="1" />
<line x1="415.5" y1="469.41" x2="420.5" y2="469.41" stroke="#000" stroke-width="1" />
<line x1="683.6" y1="469.41" x2="678.6" y2="469.41" stroke="#000" stroke-width="1" />
<line x1="415.5" y1="464.5" x2="425.5" y2="464.5" stroke="#000" stroke-width="1" />
<line x1="683.6" y1="464.5" x2="673.6" y2="464.5" stroke="#000" stroke-width="1" />
<line x1="415.5" y1="459.59" x2="420.5" y2="459.59" stroke="#000" stroke-width="1" />
<line x1="683.6" y1="459.59" x2="678.6" y2="459.59" stroke="#000" stroke-width="1" />
<line x1="415.5" y1="454.67" x2="420.5" y2="454.67" stroke="#000" stroke-width="1" />
<line x1="683.6" y1="454.67" x2="678.6" y2="454.67" stroke="#000" stroke-width="1" />
<line x1="415.5" y1="449.76" x2="420.5" y2="449.76" stroke="#000" stroke-width="1" />
<line x1="683.6" y1="449.76" x2="678.6" y2="449.76" stroke="#000" stroke-width="1" />
<line x1="415.5" y1="444.85" x2="425.5" y2="444.85" stroke="#000" stroke-width="1" />
<line x1="683.6" y1="444.85" x2="673.6" y2="444.85" stroke="#000" stroke-width="1" />
<line x1="415.5" y1="439.94" x2="420.5" y2="439.94" stroke="#000" stroke-width="1" />
<line x1="683.6" y1="439.94" x2="678.6" y2="439.94" stroke="#000" stroke-width="1" />
<line x1="415.5" y1="435.02" x2="420.5" y2="435.02" stroke="#000" stroke-width="1" />
<line x1="683.6" y1="435.02" x2="678.6" y2="435.02" stroke="#000" stroke-width="1" />
<line x1="415.5" y1="430.11" x2="420.5" y2="430.11" stroke="#000" stroke-width="1" />
<line x1="683.6" y1="430.11" x2="678.6" y2="430.11" stroke="#000" stroke-width="1" />
<line x1="415.5" y1="425.2" x2="425.5" y2="425.2" stroke="#000" stroke-width="1" />
<line x1="683.6" y1="425.2" x2="673.6" y2="425.2" stroke="#000" stroke-width="1" />
<line x1="415.5" y1="420.29" x2="420.5" y2="420.29" stroke="#000" stroke-width="1" />
<line x1="683.6" y1="420.29" x2="678.6" y2="420.29" stroke="#000" stroke-width="1" />
<line x1="415.5" y1="415.38" x2="420.5" y2="415.38" stroke="#000" stroke-width="1" />
<line x1="683.6" y1="415.38" x2="678.6" y2="415.38" stroke="#000" stroke-width="1" />
<line x1="415.5" y1="410.46" x2="420.5" y2="410.46" stroke="#000" stroke-width="1" />
<line x1="683.6" y1="410.46" x2="678.6" y2="410.46" stroke="#000" stroke-width="1" />
<line x1="415.5" y1="405.55" x2="425.5" y2="405.55" stroke="#000" stroke-width="1" />
<line x1="683.6" y1="405.55" x2="673.6" y2="405.55" stroke="#000" stroke-width="1" />
<line x1="415.5" y1="400.64" x2="420.5" y2="400.64" stroke="#000" stroke-width="1" />
<line x1="683.6" y1="400.64" x2="678.6" y2="400.64" stroke="#000" stroke-width="1" />
<line x1="415.5" y1="395.72" x2="420.5" y2="395.72" stroke="#000" stroke-width="1" />
<line x1="683.6" y1="395.72" x2="678.6" y2="395.72" stroke="#000" stroke-width="1" />
<line x1="415.5" y1="390.81" x2="420.5" y2="390.81" stroke="#000" stroke-width="1" />
<line x1="683.6" y1="390.81" x2="678.6" y2="390.81" stroke="#000" stroke-width="1" />
<line x1="415.5" y1="385.9" x2="425.5" y2="385.9" stroke="#000" stroke-width="1" />
<line x1="683.6" y1="385.9" x2="673.6" y2="385.9" stroke="#000" stroke-width="1" />
<line x1="415.5" y1="380.99" x2="420.5" y2="380.99" stroke="#000" stroke-width="1" />
<line x1="683.6" y1="380.99" x2="678.6" y2="380.99" stroke="#000" stroke-width="1" />
<line x1="415.5" y1="376.07" x2="420.5" y2="376.07" stroke="#000" stroke-width="1" />
<line x1="683.6" y1="376.07" x2="678.6" y2="376.07" stroke="#000" stroke-width="1" />
<line x1="415.5" y1="371.16" x2="420.5" y2="371.16" stroke="#000" stroke-width="1" />
<line x1="683.6" y1="371.16" x2="678.6" y2="371.16" stroke="#000" stroke-width="1" />
<line x1="415.5" y1="366.25" x2="425.5" y2="366.25" stroke="#000" stroke-width="1" />
<line x1="683.6" y1="366.25" x2="673.6" y2="366.25" stroke="#000" stroke-width="1" />
<line x1="415.5" y1="361.34" x2="420.5" y2="361.34" stroke="#000" stroke-width="1" />
<line x1="683.6" y1="361.34" x2="678.6" y2="361.34" stroke="#000" stroke-width="1" />
<line x1="415.5" y1="356.42" x2="420.5" y2="356.42" stroke="#000" stroke-width="1" />
<line x1="683.6" y1="356.42" x2="678.6" y2="356.42" stroke="#000" stroke-width="1" />
<line x1="415.5" y1="650.56" x2="419" y2="650.56" stroke="#000" stroke-width="1" />
<line x1="683.6" y1="650.56" x2="680.1" y2="650.56" stroke="#000" stroke-width="1" />
<line x1="415.5" y1="646.54" x2="419" y2="646.54" stroke="#000" stroke-width="1" />
<line x1="683.6" y1="646.54" x2="680.1" y2="646.54" stroke="#000" stroke-width="1" />
<line x1="415.5" y1="642.52" x2="419" y2="642.52" stroke="#000" stroke-width="1" />
<line x1="683.6" y1="642.52" x2="680.1" y2="642.52" stroke="#000" stroke-width="1" />
<line x1="415.5" y1="638.5" x2="422.5" y2="638.5" stroke="#000" stroke-width="1" />
<line x1="683.6" y1="638.5" x2="676.6" y2="638.5" stroke="#000" stroke-width="1" />
<line x1="415.5" y1="634.48" x2="419" y2="634.48" stroke="#000" stroke-width="1" />
<line x1="683.6" y1="634.48" x2="680.1" y2="634.48" stroke="#000" stroke-width="1" />
<line x1="415.5" y1="630.46" x2="419" y2="630.46" stroke="#000" stroke-width="1" />
<line x1="683.6" y1="630.46" x2="680.1" y2="630.46" stroke="#000" stroke-width="1" />
<line x1="415.5" y1="626.44" x2="419" y2="626.44" stroke="#000" stroke-width="1" />
<line x1="683.6" y1="626.44" x2="680.1" y2="626.44" stroke="#000" stroke-width="1" />
<line x1="415.5" y1="622.42" x2="419" y2="622.42" stroke="#000" stroke-width="1" />
<line x1="683.6" y1="622.42" x2="680.1" y2="622.42" stroke="#000" stroke-width="1" />
<line x1="415.5" y1="618.4" x2="422.5" y2="618.4" stroke="#000" stroke-width="1" />
<line x1="683.6" y1="618.4" x2="676.6" y2="618.4" stroke="#000" stroke-width="1" />
<line x1="415.5" y1="614.38" x2="419" y2="614.38" stroke="#000" stroke-width="1" />
<line x1="683.6" y1="614.38" x2="680.1" y2="614.38" stroke="#000" stroke-width="1" />
<line x1="415.5" y1="610.36" x2="419" y2="610.36" stroke="#000" stroke-width="1" />
<line x1="683.6" y1="610.36" x2="680.1" y2="610.36" stroke="#000" stroke-width="1" />
<line x1="415.5" y1="606.34" x2="419" y2="606.34" stroke="#000" stroke-width="1" />
<line x1="683.6" y1="606.34" x2="680.1" y2="606.34" stroke="#000" stroke-width="1" />
<line x1="415.5" y1="602.32" x2="419" y2="602.32" stroke="#000" stroke-width="1" />
<line x1="683.6" y1="602.32" x2="680.1" y2="602.32" stroke="#000" stroke-width="1" />
<line x1="415.5" y1="598.3" x2="422.5" y2="598.3" stroke="#000" stroke-width="1" />
<line x1="683.6" y1="598.3" x2="676.6" y2="598.3" stroke="#000" stroke-width="1" />
<line x1="415.5" y1="594.28" x2="419" y2="594.28" stroke="#000" stroke-width="1" />
<line x1="683.6" y1="594.28" x2="680.1" y2="594.28" stroke="#000" stroke-width="1" />
<line x1="415.5" y1="590.26" x2="419" y2="590.26" stroke="#000" stroke-width="1" />
<line x1="683.6" y1="590.26" x2="680.1" y2="590.26" stroke="#000" stroke-width="1" />
<line x1="415.5" y1="586.24" x2="419" y2="586.24" stroke="#000" stroke-width="1" />
<line x1="683.6" y1="586.24" x2="680.1" y2="586.24" stroke="#000" stroke-width="1" />
<text x="420.65" y="662.7" font-size="11.3" text-anchor="middle" >0.5</text>
<text x="472.19" y="662.7" font-size="11.3" text-anchor="middle" >1</text>
<text x="523.73" y="662.7" font-size="11.3" text-anchor="middle" >1.5</text>
<text x="575.27" y="662.7" font-size="11.3" text-anchor="middle" >2</text>
<text x="626.81" y="662.7" font-size="11.3" text-anchor="middle" >2.5</text>
<text x="678.35" y="662.7" font-size="11.3" text-anchor="middle" >3</text>
<text x="413.5" y="566.75" font-size="11.3" text-anchor="end" >0.2</text>
<text x="413.5" y="547.1" font-size="11.3" text-anchor="end" >0.4</text>
<text x="413.5" y="527.45" font-size="11.3" text-anchor="end" >0.6</text>
<text x="413.5" y="507.8" font-size="11.3" text-anchor="end" >0.8</text>
<text x="413.5" y="488.15" font-size="11.3" text-anchor="end" >1</text>
<text x="413.5" y="468.5" font-size="11.3" text-anchor="end" >1.2</text>
<text x="413.5" y="448.85" font-size="11.3" text-anchor="end" >1.4</text>
<text x="413.5" y="429.2" font-size="11.3" text-anchor="end" >1.6</text>
<text x="413.5" y="409.55" font-size="11.3" text-anchor="end" >1.8</text>
<text x="413.5" y="389.9" font-size="11.3" text-anchor="end" >2</text>
<text x="413.5" y="370.25" font-size="11.3" text-anchor="end" >2.2</text>
<text x="413.5" y="642.5" font-size="11.3" text-anchor="end" >0.5</text>
<text x="413.5" y="622.4" font-size="11.3" text-anchor="end" >1</text>
<text x="413.5" y="602.3" font-size="11.3" text-anchor="end" >1.5</text>
<text x="432.2" y="372.7" font-size="11.8" font-weight="bold" font-style="italic" textLength="40.2" lengthAdjust="spacingAndGlyphs">ATLAS</text>
<path d="M433.2,385.6 L434.1,385 L435.2,390 L435.9,380.2 H443.6" fill="none" stroke="#000" stroke-width="0.9"/>
<text x="437.5" y="389.8" font-size="11.6" textLength="86.6" lengthAdjust="spacingAndGlyphs">s=13 TeV, 3.2 fb</text>
<text x="524.5" y="385.2" font-size="8.2">-1</text>
<text x="432.6" y="408.1" font-size="11.6">10 GeV&lt;p</text>
<text x="486.2" y="402.9" font-size="8.2">Z</text>
<text x="486.2" y="414.3" font-size="8.2">T</text>
<text x="491.2" y="408.1" font-size="11.6">&lt;20 GeV</text>
<text x="432.6" y="421.6" font-size="11.6">trans-min region</text>
<rect x="556.3" y="363.7" width="18.9" height="12.3" fill="#6acb9a" />
<text x="579.2" y="370.5" font-size="11.6">syst.</text>
<circle cx="610.8" cy="366.45" r="3.95" fill="none" stroke="#000" stroke-width="0.75"/>
<path d="M606.85,366.45H614.75M610.8,362.5V370.4" stroke="#000" stroke-width="0.75"/>
<text x="618.4" y="370.5" font-size="11.6">stat. error</text>
<line x1="565.75" y1="381.4" x2="565.75" y2="390.7" stroke="#000" stroke-width="1.2" />
<circle cx="565.75" cy="386.1" r="3.2" fill="#000"/>
<text x="579.2" y="387.1" font-size="11.6">Data 2015</text>
<line x1="556.3" y1="402.2" x2="575.2" y2="402.2" stroke="#a82252" stroke-width="1.4" />
<text x="579.2" y="403.4" font-size="11.6">PowhegPythia8</text>
<line x1="556.3" y1="418.4" x2="575.2" y2="418.4" stroke="#0000ff" stroke-width="1.3" stroke-dasharray="2,1.8"/>
<text x="579.2" y="419.8" font-size="11.6">Sherpa</text>
<line x1="556.3" y1="434.6" x2="575.2" y2="434.6" stroke="#dc7d26" stroke-width="1.2" stroke-dasharray="2.2,2.1,1,2.1"/>
<text x="579.2" y="436.1" font-size="11.6">Herwig++</text>
<text transform="translate(377.2,617.1) rotate(-90)" font-size="11.6" text-anchor="middle">Ratio</text>
<g transform="translate(16.3,81.7) rotate(-90)">
<line x1="0" y1="0" x2="15.6" y2="0" stroke="#000" stroke-width="1.1" />
<text x="6.05" y="-1.6" font-size="11.6" textLength="5.5" lengthAdjust="spacingAndGlyphs">1</text>
<text x="0.25" y="10.4" font-size="11.6" textLength="7.4" lengthAdjust="spacingAndGlyphs">N</text>
<text x="7.35" y="14.3" font-size="8.2" textLength="8.8" lengthAdjust="spacingAndGlyphs">ch</text>
<line x1="19.4" y1="0" x2="41.1" y2="0" stroke="#000" stroke-width="1.1" />
<text x="19.75" y="-6.5" font-size="11.6" textLength="14.6" lengthAdjust="spacingAndGlyphs">dN</text>
<text x="34.75" y="-2" font-size="8.2" textLength="7.4" lengthAdjust="spacingAndGlyphs">ch</text>
<text x="21.75" y="10.6" font-size="11.6" textLength="12.6" lengthAdjust="spacingAndGlyphs">dp</text>
<text x="34.75" y="17" font-size="8.2" textLength="4.8" lengthAdjust="spacingAndGlyphs">T</text>
<text x="44.15" y="4" font-size="12.4" textLength="25.52" lengthAdjust="spacingAndGlyphs">[GeV</text>
<text x="69.46" y="-2.8" font-size="8.6" textLength="6.37" lengthAdjust="spacingAndGlyphs">-1</text>
<text x="75.96" y="4" font-size="12.4" textLength="3.29" lengthAdjust="spacingAndGlyphs">]</text>
</g>
<g transform="translate(372.4,74.7) rotate(-90)">
<line x1="0" y1="0" x2="15.6" y2="0" stroke="#000" stroke-width="1.1" />
<text x="5.85" y="-1.8" font-size="11.6" textLength="6.1" lengthAdjust="spacingAndGlyphs">1</text>
<text x="-0.45" y="10.4" font-size="11.6" textLength="9" lengthAdjust="spacingAndGlyphs">N</text>
<text x="8.25" y="13.3" font-size="8.2" textLength="7.8" lengthAdjust="spacingAndGlyphs">ev</text>
<line x1="20.8" y1="0" x2="71.8" y2="0" stroke="#000" stroke-width="1.1" />
<text x="34.25" y="-4.7" font-size="11.6" textLength="14.8" lengthAdjust="spacingAndGlyphs">dN</text>
<text x="49.35" y="-1.8" font-size="8.2" textLength="8.4" lengthAdjust="spacingAndGlyphs">ev</text>
<text x="20.95" y="10.4" font-size="11.6" textLength="16" lengthAdjust="spacingAndGlyphs">dN</text>
<text x="36.55" y="13.3" font-size="8.2" textLength="9.1" lengthAdjust="spacingAndGlyphs">ch</text>
<text x="45.25" y="10.4" font-size="11.6" textLength="27" lengthAdjust="spacingAndGlyphs">/δηδϕ</text>
</g>
<g transform="translate(16.1,466.7) rotate(-90)">
<line x1="0" y1="0" x2="14.7" y2="0" stroke="#000" stroke-width="1.1" />
<text x="6.35" y="-2" font-size="11.6" textLength="5.2" lengthAdjust="spacingAndGlyphs">1</text>
<text x="-0.45" y="11" font-size="11.6" textLength="8.9" lengthAdjust="spacingAndGlyphs">N</text>
<text x="8.15" y="14.2" font-size="8.2" textLength="7" lengthAdjust="spacingAndGlyphs">ev</text>
<line x1="20.3" y1="0" x2="76.8" y2="0" stroke="#000" stroke-width="1.1" />
<text x="35.75" y="-3.8" font-size="11.6" textLength="15.1" lengthAdjust="spacingAndGlyphs">dN</text>
<text x="50.55" y="-0.9" font-size="8.2" textLength="7.6" lengthAdjust="spacingAndGlyphs">ev</text>
<text x="20.45" y="11" font-size="11.6" textLength="20.5" lengthAdjust="spacingAndGlyphs">dΣ p</text>
<text x="41.15" y="15" font-size="8.2" textLength="4.3" lengthAdjust="spacingAndGlyphs">T</text>
<text x="45.65" y="11" font-size="11.6" textLength="31" lengthAdjust="spacingAndGlyphs">/δηδϕ</text>
<text x="76.75" y="3.3" font-size="12.4" textLength="25.81" lengthAdjust="spacingAndGlyphs">[GeV</text>
<text x="102.35" y="-3.5" font-size="8.6" textLength="6.44" lengthAdjust="spacingAndGlyphs">-1</text>
<text x="108.93" y="3.3" font-size="12.4" textLength="3.32" lengthAdjust="spacingAndGlyphs">]</text>
</g>
<g transform="translate(371.8,467.9) rotate(-90)">
<line x1="0" y1="0" x2="15.6" y2="0" stroke="#000" stroke-width="1.1" />
<text x="7.35" y="-2.1" font-size="11.6" textLength="6.1" lengthAdjust="spacingAndGlyphs">1</text>
<text x="-0.45" y="11" font-size="11.6" textLength="8.9" lengthAdjust="spacingAndGlyphs">N</text>
<text x="8.15" y="14.2" font-size="8.2" textLength="7.9" lengthAdjust="spacingAndGlyphs">ev</text>
<line x1="20" y1="0" x2="75.4" y2="0" stroke="#000" stroke-width="1.1" />
<text x="35.95" y="-4.2" font-size="11.6" textLength="14.5" lengthAdjust="spacingAndGlyphs">dN</text>
<text x="50.15" y="-2" font-size="8.2" textLength="7.8" lengthAdjust="spacingAndGlyphs">ev</text>
<text x="20.75" y="11" font-size="11.6" textLength="48.4" lengthAdjust="spacingAndGlyphs">d(mean p</text>
<text x="68.75" y="16" font-size="8.2" textLength="4.5" lengthAdjust="spacingAndGlyphs">T</text>
<text x="72.55" y="11.5" font-size="12.4" textLength="5.2" lengthAdjust="spacingAndGlyphs">)</text>
<text x="77.65" y="3.3" font-size="12.4" textLength="25.88" lengthAdjust="spacingAndGlyphs">[GeV</text>
<text x="103.33" y="-3.5" font-size="8.6" textLength="6.45" lengthAdjust="spacingAndGlyphs">-1</text>
<text x="109.92" y="3.3" font-size="12.4" textLength="3.33" lengthAdjust="spacingAndGlyphs">]</text>
</g>
<text x="328.4" y="331.3" font-size="11.6" text-anchor="end">p<tspan dy="4.4" font-size="8.2">T</tspan><tspan dy="-4.4"> [GeV]</tspan></text>
<text x="683.6" y="330.8" font-size="11.6" text-anchor="end">N<tspan dy="3.8" font-size="8.2">ch</tspan><tspan dy="-3.8">/δηδϕ</tspan></text>
<text x="327.8" y="681.4" font-size="11.6" text-anchor="end">Σ p<tspan dy="5.6" font-size="8.2">T</tspan><tspan dy="-5.6">/δηδϕ[GeV]</tspan></text>
<text x="683.6" y="681.4" font-size="11.6" text-anchor="end">mean p<tspan dy="5.6" font-size="8.2">T</tspan><tspan dy="-5.6">[GeV]</tspan></text></svg>
</body></html>
